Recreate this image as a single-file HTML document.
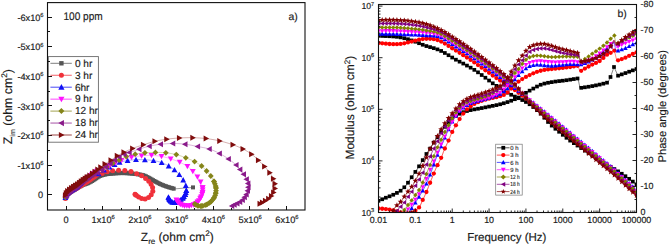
<!DOCTYPE html>
<html><head><meta charset="utf-8"><style>
html,body{margin:0;padding:0;background:#fff;width:669px;height:244px;overflow:hidden}
svg{display:block;text-rendering:geometricPrecision}
text{stroke:#1a1a1a;stroke-width:0.16px}
</style></head><body>
<svg width="669" height="244" viewBox="0 0 669 244">
<rect width="669" height="244" fill="#fff"/>
<clipPath id="cl"><rect x="47.5" y="2.6" width="257.5" height="207.4"/></clipPath><g clip-path="url(#cl)">
<path d="M65.6 195.6 L65.84 195.44 L66.17 195.22 L66.56 194.96 L67.01 194.67 L67.49 194.34 L68 194 L68.54 193.63 L69.12 193.22 L69.74 192.79 L70.39 192.33 L71.08 191.87 L71.8 191.4 L72.56 190.93 L73.35 190.44 L74.18 189.94 L75.04 189.43 L75.91 188.92 L76.8 188.4 L77.72 187.86 L78.69 187.29 L79.68 186.71 L80.66 186.16 L81.61 185.64 L82.5 185.2 L83.32 184.85 L84.08 184.58 L84.81 184.35 L85.52 184.13 L86.25 183.89 L87 183.6 L87.79 183.25 L88.6 182.87 L89.42 182.47 L90.23 182.06 L91.03 181.63 L91.8 181.2 L92.54 180.75 L93.25 180.28 L93.95 179.8 L94.64 179.32 L95.32 178.85 L96 178.4 L96.66 177.97 L97.27 177.54 L97.89 177.13 L98.53 176.73 L99.22 176.35 L100 176 L100.87 175.67 L101.81 175.35 L102.81 175.05 L103.85 174.77 L104.92 174.52 L106 174.3 L107.11 174.11 L108.26 173.95 L109.44 173.82 L110.63 173.7 L111.82 173.6 L113 173.5 L114.17 173.4 L115.33 173.32 L116.5 173.24 L117.67 173.18 L118.83 173.13 L120 173.1 L121.16 173.08 L122.3 173.07 L123.44 173.08 L124.59 173.1 L125.78 173.14 L127 173.2 L128.28 173.27 L129.59 173.37 L130.94 173.47 L132.3 173.6 L133.66 173.74 L135 173.9 L136.37 174.07 L137.78 174.26 L139.19 174.46 L140.56 174.68 L141.84 174.92 L143 175.2 L144.01 175.51 L144.89 175.84 L145.69 176.21 L146.44 176.59 L147.2 176.99 L148 177.4 L148.84 177.84 L149.7 178.31 L150.56 178.8 L151.41 179.29 L152.22 179.76 L153 180.2 L153.71 180.6 L154.37 180.97 L155 181.32 L155.63 181.67 L156.29 182.03 L157 182.4 L157.76 182.79 L158.56 183.19 L159.38 183.6 L160.22 184.01 L161.1 184.41 L162 184.8 L162.94 185.18 L163.9 185.56 L164.9 185.93 L165.92 186.3 L166.95 186.65 L168 187 L169.14 187.36 L170.4 187.73 L171.68 188.09 L172.87 188.42 L173.88 188.7 L174.6 188.9" fill="none" stroke="#555555" stroke-width="0.6" stroke-opacity="0.55"/>
<path d="M174.6 188.9 L193 187.4" fill="none" stroke="#555555" stroke-width="0.7" stroke-opacity="0.8"/>
<rect x="63.6" y="193.6" width="4" height="4" fill="#555555"/>
<rect x="64.93" y="192.72" width="4" height="4" fill="#555555"/>
<rect x="66.26" y="191.82" width="4" height="4" fill="#555555"/>
<rect x="67.57" y="190.9" width="4" height="4" fill="#555555"/>
<rect x="68.89" y="190" width="4" height="4" fill="#555555"/>
<rect x="70.23" y="189.13" width="4" height="4" fill="#555555"/>
<rect x="71.6" y="188.29" width="4" height="4" fill="#555555"/>
<rect x="72.97" y="187.47" width="4" height="4" fill="#555555"/>
<rect x="74.35" y="186.66" width="4" height="4" fill="#555555"/>
<rect x="75.73" y="185.85" width="4" height="4" fill="#555555"/>
<rect x="77.11" y="185.04" width="4" height="4" fill="#555555"/>
<rect x="78.5" y="184.25" width="4" height="4" fill="#555555"/>
<rect x="79.91" y="183.49" width="4" height="4" fill="#555555"/>
<rect x="81.37" y="182.83" width="4" height="4" fill="#555555"/>
<rect x="82.88" y="182.33" width="4" height="4" fill="#555555"/>
<rect x="84.41" y="181.84" width="4" height="4" fill="#555555"/>
<rect x="85.88" y="181.21" width="4" height="4" fill="#555555"/>
<rect x="87.32" y="180.52" width="4" height="4" fill="#555555"/>
<rect x="88.74" y="179.79" width="4" height="4" fill="#555555"/>
<rect x="90.14" y="179" width="4" height="4" fill="#555555"/>
<rect x="91.48" y="178.13" width="4" height="4" fill="#555555"/>
<rect x="92.79" y="177.21" width="4" height="4" fill="#555555"/>
<rect x="94.12" y="176.32" width="4" height="4" fill="#555555"/>
<rect x="95.45" y="175.43" width="4" height="4" fill="#555555"/>
<rect x="96.8" y="174.58" width="4" height="4" fill="#555555"/>
<rect x="98.25" y="173.9" width="4" height="4" fill="#555555"/>
<rect x="99.76" y="173.37" width="4" height="4" fill="#555555"/>
<rect x="101.29" y="172.92" width="4" height="4" fill="#555555"/>
<rect x="102.85" y="172.54" width="4" height="4" fill="#555555"/>
<rect x="104.42" y="172.23" width="4" height="4" fill="#555555"/>
<rect x="106" y="171.99" width="4" height="4" fill="#555555"/>
<rect x="107.59" y="171.8" width="4" height="4" fill="#555555"/>
<rect x="109.18" y="171.66" width="4" height="4" fill="#555555"/>
<rect x="110.77" y="171.52" width="4" height="4" fill="#555555"/>
<rect x="112.37" y="171.39" width="4" height="4" fill="#555555"/>
<rect x="113.96" y="171.28" width="4" height="4" fill="#555555"/>
<rect x="115.56" y="171.19" width="4" height="4" fill="#555555"/>
<rect x="117.16" y="171.12" width="4" height="4" fill="#555555"/>
<rect x="118.76" y="171.09" width="4" height="4" fill="#555555"/>
<rect x="120.36" y="171.07" width="4" height="4" fill="#555555"/>
<rect x="121.96" y="171.09" width="4" height="4" fill="#555555"/>
<rect x="123.56" y="171.13" width="4" height="4" fill="#555555"/>
<rect x="125.16" y="171.21" width="4" height="4" fill="#555555"/>
<rect x="126.75" y="171.31" width="4" height="4" fill="#555555"/>
<rect x="128.35" y="171.43" width="4" height="4" fill="#555555"/>
<rect x="129.94" y="171.57" width="4" height="4" fill="#555555"/>
<rect x="131.54" y="171.73" width="4" height="4" fill="#555555"/>
<rect x="133.13" y="171.92" width="4" height="4" fill="#555555"/>
<rect x="134.71" y="172.12" width="4" height="4" fill="#555555"/>
<rect x="136.3" y="172.33" width="4" height="4" fill="#555555"/>
<rect x="137.88" y="172.57" width="4" height="4" fill="#555555"/>
<rect x="139.46" y="172.85" width="4" height="4" fill="#555555"/>
<rect x="141.01" y="173.2" width="4" height="4" fill="#555555"/>
<rect x="142.53" y="173.7" width="4" height="4" fill="#555555"/>
<rect x="143.99" y="174.36" width="4" height="4" fill="#555555"/>
<rect x="145.41" y="175.1" width="4" height="4" fill="#555555"/>
<rect x="146.83" y="175.83" width="4" height="4" fill="#555555"/>
<rect x="148.23" y="176.61" width="4" height="4" fill="#555555"/>
<rect x="149.62" y="177.41" width="4" height="4" fill="#555555"/>
<rect x="151.01" y="178.2" width="4" height="4" fill="#555555"/>
<rect x="152.4" y="178.99" width="4" height="4" fill="#555555"/>
<rect x="153.8" y="179.77" width="4" height="4" fill="#555555"/>
<rect x="155.22" y="180.51" width="4" height="4" fill="#555555"/>
<rect x="156.64" y="181.24" width="4" height="4" fill="#555555"/>
<rect x="158.08" y="181.94" width="4" height="4" fill="#555555"/>
<rect x="159.53" y="182.6" width="4" height="4" fill="#555555"/>
<rect x="161.01" y="183.21" width="4" height="4" fill="#555555"/>
<rect x="162.51" y="183.79" width="4" height="4" fill="#555555"/>
<rect x="164.01" y="184.33" width="4" height="4" fill="#555555"/>
<rect x="165.53" y="184.84" width="4" height="4" fill="#555555"/>
<rect x="167.05" y="185.33" width="4" height="4" fill="#555555"/>
<rect x="168.59" y="185.78" width="4" height="4" fill="#555555"/>
<rect x="170.13" y="186.21" width="4" height="4" fill="#555555"/>
<rect x="171.67" y="186.64" width="4" height="4" fill="#555555"/>
<rect x="191" y="185.4" width="4" height="4" fill="#555555"/>
<path d="M65.4 198.6 L65.48 198.38 L65.59 198.09 L65.71 197.74 L65.86 197.36 L66.02 196.97 L66.2 196.6 L66.39 196.24 L66.6 195.86 L66.83 195.48 L67.07 195.1 L67.33 194.74 L67.6 194.4 L67.9 194.09 L68.21 193.79 L68.55 193.51 L68.9 193.23 L69.25 192.97 L69.6 192.7 L69.95 192.44 L70.31 192.19 L70.67 191.94 L71.04 191.69 L71.42 191.45 L71.8 191.2 L72.19 190.95 L72.58 190.7 L72.98 190.45 L73.38 190.2 L73.79 189.95 L74.2 189.7 L74.62 189.45 L75.04 189.21 L75.47 188.96 L75.91 188.71 L76.35 188.46 L76.8 188.19 L77.25 187.91 L77.71 187.61 L78.18 187.32 L78.65 187.01 L79.13 186.7 L79.6 186.4 L80.08 186.08 L80.57 185.76 L81.07 185.44 L81.56 185.12 L82.04 184.81 L82.5 184.52 L82.94 184.24 L83.37 183.98 L83.78 183.73 L84.19 183.48 L84.59 183.24 L85 182.99 L85.41 182.74 L85.81 182.49 L86.21 182.25 L86.6 182 L87 181.75 L87.4 181.5 L87.8 181.24 L88.19 180.98 L88.59 180.72 L88.99 180.45 L89.39 180.18 L89.8 179.9 L90.22 179.61 L90.65 179.31 L91.09 179.01 L91.53 178.71 L91.96 178.4 L92.4 178.1 L92.83 177.8 L93.26 177.51 L93.69 177.22 L94.12 176.93 L94.56 176.62 L95 176.3 L95.44 175.94 L95.86 175.54 L96.29 175.13 L96.74 174.74 L97.24 174.38 L97.8 174.1 L98.43 173.91 L99.13 173.79 L99.86 173.71 L100.63 173.64 L101.41 173.55 L102.2 173.4 L102.99 173.18 L103.81 172.91 L104.64 172.62 L105.48 172.32 L106.34 172.04 L107.2 171.8 L108.07 171.59 L108.95 171.4 L109.84 171.23 L110.74 171.07 L111.66 170.93 L112.6 170.8 L113.56 170.68 L114.55 170.57 L115.55 170.48 L116.56 170.4 L117.58 170.34 L118.6 170.3 L119.62 170.27 L120.65 170.26 L121.69 170.26 L122.73 170.28 L123.76 170.32 L124.8 170.4 L125.84 170.5 L126.89 170.62 L127.93 170.76 L128.97 170.94 L130 171.15 L131 171.4 L131.99 171.71 L132.97 172.08 L133.93 172.48 L134.88 172.9 L135.8 173.31 L136.7 173.7 L137.57 174.06 L138.43 174.4 L139.26 174.73 L140.06 175.07 L140.84 175.42 L141.6 175.8 L142.33 176.2 L143.03 176.62 L143.71 177.05 L144.36 177.49 L144.99 177.94 L145.6 178.4 L146.19 178.86 L146.76 179.34 L147.31 179.82 L147.83 180.31 L148.33 180.81 L148.8 181.3 L149.24 181.79 L149.66 182.28 L150.06 182.78 L150.43 183.27 L150.77 183.78 L151.1 184.3 L151.41 184.83 L151.71 185.37 L151.98 185.91 L152.23 186.47 L152.43 187.03 L152.6 187.6 L152.73 188.18 L152.83 188.78 L152.89 189.39 L152.91 190 L152.89 190.6 L152.8 191.2 L152.65 191.8 L152.44 192.4 L152.18 193 L151.88 193.59 L151.55 194.16 L151.2 194.7 L150.82 195.22 L150.41 195.73 L149.96 196.22 L149.49 196.69 L149 197.12 L148.5 197.5 L147.97 197.85 L147.42 198.17 L146.84 198.45 L146.26 198.69 L145.67 198.88 L145.1 199 L144.53 199.06 L143.95 199.05 L143.37 198.99 L142.8 198.89 L142.24 198.76 L141.7 198.6 L141.17 198.4 L140.64 198.15 L140.12 197.87 L139.63 197.57 L139.15 197.27 L138.7 197 L138.27 196.74 L137.87 196.47 L137.48 196.21 L137.12 195.95 L136.79 195.71 L136.5 195.5 L136.24 195.31 L136.03 195.14 L135.84 194.98 L135.67 194.84 L135.53 194.71 L135.4 194.6 L135.29 194.5 L135.2 194.41 L135.13 194.34 L135.08 194.29 L135.04 194.24 L135 194.2" fill="none" stroke="#f0313a" stroke-width="0.6" stroke-opacity="0.55"/>
<circle cx="65.4" cy="198.6" r="2.5" fill="#f0313a"/>
<circle cx="65.89" cy="197.29" r="2.5" fill="#f0313a"/>
<circle cx="66.51" cy="196.03" r="2.5" fill="#f0313a"/>
<circle cx="67.25" cy="194.85" r="2.5" fill="#f0313a"/>
<circle cx="68.19" cy="193.81" r="2.5" fill="#f0313a"/>
<circle cx="69.28" cy="192.94" r="2.5" fill="#f0313a"/>
<circle cx="70.41" cy="192.12" r="2.5" fill="#f0313a"/>
<circle cx="71.58" cy="191.34" r="2.5" fill="#f0313a"/>
<circle cx="72.76" cy="190.59" r="2.5" fill="#f0313a"/>
<circle cx="73.95" cy="189.85" r="2.5" fill="#f0313a"/>
<circle cx="75.16" cy="189.14" r="2.5" fill="#f0313a"/>
<circle cx="76.37" cy="188.45" r="2.5" fill="#f0313a"/>
<circle cx="77.56" cy="187.71" r="2.5" fill="#f0313a"/>
<circle cx="78.74" cy="186.95" r="2.5" fill="#f0313a"/>
<circle cx="79.91" cy="186.19" r="2.5" fill="#f0313a"/>
<circle cx="81.09" cy="185.43" r="2.5" fill="#f0313a"/>
<circle cx="82.26" cy="184.67" r="2.5" fill="#f0313a"/>
<circle cx="83.45" cy="183.93" r="2.5" fill="#f0313a"/>
<circle cx="84.65" cy="183.2" r="2.5" fill="#f0313a"/>
<circle cx="85.84" cy="182.47" r="2.5" fill="#f0313a"/>
<circle cx="87.03" cy="181.73" r="2.5" fill="#f0313a"/>
<circle cx="88.21" cy="180.97" r="2.5" fill="#f0313a"/>
<circle cx="89.37" cy="180.19" r="2.5" fill="#f0313a"/>
<circle cx="90.53" cy="179.4" r="2.5" fill="#f0313a"/>
<circle cx="91.68" cy="178.6" r="2.5" fill="#f0313a"/>
<circle cx="92.83" cy="177.81" r="2.5" fill="#f0313a"/>
<circle cx="93.99" cy="177.02" r="2.5" fill="#f0313a"/>
<circle cx="95.12" cy="176.21" r="2.5" fill="#f0313a"/>
<circle cx="96.23" cy="175.35" r="2.5" fill="#f0313a"/>
<circle cx="97.33" cy="174.48" r="2.5" fill="#f0313a"/>
<circle cx="102.2" cy="173.4" r="2.5" fill="#f0313a"/>
<circle cx="107.2" cy="171.8" r="2.5" fill="#f0313a"/>
<circle cx="112.6" cy="170.8" r="2.5" fill="#f0313a"/>
<circle cx="118.6" cy="170.3" r="2.5" fill="#f0313a"/>
<circle cx="124.8" cy="170.4" r="2.5" fill="#f0313a"/>
<circle cx="131" cy="171.4" r="2.5" fill="#f0313a"/>
<circle cx="136.7" cy="173.7" r="2.5" fill="#f0313a"/>
<circle cx="141.6" cy="175.8" r="2.5" fill="#f0313a"/>
<circle cx="145.6" cy="178.4" r="2.5" fill="#f0313a"/>
<circle cx="148.8" cy="181.3" r="2.5" fill="#f0313a"/>
<circle cx="151.1" cy="184.3" r="2.5" fill="#f0313a"/>
<circle cx="152.6" cy="187.6" r="2.5" fill="#f0313a"/>
<circle cx="152.8" cy="191.2" r="2.5" fill="#f0313a"/>
<circle cx="151.2" cy="194.7" r="2.5" fill="#f0313a"/>
<circle cx="148.5" cy="197.5" r="2.5" fill="#f0313a"/>
<circle cx="145.1" cy="199" r="2.5" fill="#f0313a"/>
<circle cx="141.7" cy="198.6" r="2.5" fill="#f0313a"/>
<circle cx="138.7" cy="197" r="2.5" fill="#f0313a"/>
<circle cx="136.5" cy="195.5" r="2.5" fill="#f0313a"/>
<circle cx="135.4" cy="194.6" r="2.5" fill="#f0313a"/>
<circle cx="135" cy="194.2" r="2.5" fill="#f0313a"/>
<path d="M65.4 197.6 L65.48 197.38 L65.59 197.09 L65.71 196.74 L65.86 196.36 L66.02 195.97 L66.2 195.6 L66.39 195.24 L66.6 194.86 L66.83 194.48 L67.07 194.1 L67.33 193.74 L67.6 193.4 L67.9 193.09 L68.21 192.79 L68.55 192.51 L68.9 192.23 L69.25 191.97 L69.6 191.7 L69.95 191.44 L70.31 191.19 L70.67 190.94 L71.04 190.69 L71.42 190.45 L71.8 190.2 L72.19 189.95 L72.58 189.71 L72.98 189.47 L73.38 189.22 L73.79 188.97 L74.2 188.7 L74.62 188.43 L75.04 188.17 L75.47 187.89 L75.91 187.6 L76.35 187.29 L76.8 186.94 L77.25 186.55 L77.71 186.12 L78.18 185.67 L78.65 185.21 L79.13 184.74 L79.6 184.28 L80.08 183.82 L80.57 183.34 L81.07 182.87 L81.56 182.4 L82.04 181.94 L82.5 181.5 L82.94 181.08 L83.37 180.68 L83.78 180.29 L84.19 179.91 L84.59 179.55 L85 179.2 L85.41 178.87 L85.81 178.56 L86.21 178.26 L86.6 177.97 L87 177.68 L87.4 177.4 L87.8 177.12 L88.19 176.86 L88.59 176.6 L88.99 176.34 L89.39 176.08 L89.8 175.8 L90.22 175.51 L90.65 175.21 L91.09 174.91 L91.53 174.61 L91.96 174.3 L92.4 174 L92.83 173.7 L93.26 173.41 L93.69 173.12 L94.12 172.83 L94.56 172.52 L95 172.2 L95.48 171.79 L96 171.27 L96.52 170.75 L97.01 170.3 L97.45 170.02 L97.8 170 L97.98 170.37 L98.01 171.1 L97.98 171.99 L97.99 172.86 L98.13 173.53 L98.5 173.8 L99.14 173.62 L99.98 173.13 L100.95 172.43 L101.99 171.63 L103.03 170.85 L104 170.2 L104.92 169.66 L105.85 169.14 L106.77 168.64 L107.7 168.15 L108.61 167.67 L109.5 167.2 L110.37 166.74 L111.23 166.29 L112.08 165.85 L112.92 165.42 L113.76 165.01 L114.6 164.6 L115.4 164.21 L116.16 163.83 L116.92 163.46 L117.71 163.1 L118.59 162.74 L119.6 162.4 L120.76 162.05 L122.03 161.7 L123.39 161.36 L124.79 161.04 L126.21 160.75 L127.6 160.5 L128.97 160.29 L130.35 160.12 L131.74 159.97 L133.15 159.86 L134.57 159.77 L136 159.7 L137.46 159.66 L138.94 159.64 L140.44 159.65 L141.94 159.68 L143.43 159.73 L144.9 159.8 L146.36 159.88 L147.8 159.97 L149.24 160.08 L150.67 160.22 L152.09 160.39 L153.5 160.6 L154.9 160.85 L156.31 161.13 L157.7 161.44 L159.07 161.79 L160.41 162.17 L161.7 162.6 L162.95 163.08 L164.17 163.61 L165.35 164.18 L166.5 164.78 L167.62 165.39 L168.7 166 L169.75 166.61 L170.76 167.23 L171.74 167.87 L172.69 168.52 L173.61 169.2 L174.5 169.9 L175.37 170.63 L176.21 171.38 L177.02 172.16 L177.8 172.95 L178.56 173.77 L179.3 174.6 L180.02 175.46 L180.71 176.34 L181.39 177.25 L182.03 178.17 L182.64 179.09 L183.2 180 L183.73 180.92 L184.24 181.84 L184.71 182.78 L185.14 183.7 L185.5 184.61 L185.8 185.5 L186.02 186.37 L186.18 187.24 L186.28 188.09 L186.33 188.92 L186.33 189.72 L186.3 190.5 L186.22 191.25 L186.09 191.97 L185.92 192.66 L185.71 193.33 L185.47 193.98 L185.2 194.6 L184.9 195.19 L184.57 195.76 L184.21 196.3 L183.82 196.82 L183.41 197.32 L183 197.8 L182.57 198.27 L182.12 198.71 L181.65 199.14 L181.17 199.55 L180.69 199.94 L180.2 200.3 L179.71 200.64 L179.21 200.97 L178.7 201.27 L178.19 201.54 L177.69 201.79 L177.2 202 L176.72 202.18 L176.24 202.33 L175.76 202.44 L175.3 202.53 L174.84 202.58 L174.4 202.6 L173.97 202.58 L173.55 202.52 L173.14 202.43 L172.74 202.3 L172.36 202.16 L172 202 L171.66 201.82 L171.33 201.61 L171.02 201.38 L170.73 201.13 L170.46 200.87 L170.2 200.6 L169.96 200.32 L169.73 200.02 L169.52 199.71 L169.33 199.4 L169.16 199.09 L169 198.8 L168.86 198.5 L168.73 198.19 L168.62 197.89 L168.53 197.61 L168.46 197.37 L168.4 197.2" fill="none" stroke="#1010f5" stroke-width="0.6" stroke-opacity="0.55"/>
<path d="M65.4 194.69L68.32 199.98L62.49 199.98Z" fill="#1010f5"/>
<path d="M65.89 193.37L68.8 198.67L62.97 198.67Z" fill="#1010f5"/>
<path d="M66.51 192.12L69.42 197.42L63.59 197.42Z" fill="#1010f5"/>
<path d="M67.25 190.93L70.16 196.23L64.33 196.23Z" fill="#1010f5"/>
<path d="M68.19 189.9L71.1 195.2L65.27 195.2Z" fill="#1010f5"/>
<path d="M69.28 189.03L72.2 194.33L66.37 194.33Z" fill="#1010f5"/>
<path d="M70.41 188.2L73.33 193.5L67.5 193.5Z" fill="#1010f5"/>
<path d="M71.58 187.43L74.5 192.73L68.67 192.73Z" fill="#1010f5"/>
<path d="M72.76 186.68L75.68 191.98L69.85 191.98Z" fill="#1010f5"/>
<path d="M73.95 185.94L76.87 191.24L71.04 191.24Z" fill="#1010f5"/>
<path d="M75.14 185.19L78.05 190.49L72.22 190.49Z" fill="#1010f5"/>
<path d="M76.3 184.41L79.21 189.71L73.38 189.71Z" fill="#1010f5"/>
<path d="M77.38 183.52L80.29 188.82L74.46 188.82Z" fill="#1010f5"/>
<path d="M78.39 182.55L81.3 187.85L75.47 187.85Z" fill="#1010f5"/>
<path d="M79.39 181.57L82.3 186.87L76.47 186.87Z" fill="#1010f5"/>
<path d="M80.4 180.6L83.31 185.9L77.48 185.9Z" fill="#1010f5"/>
<path d="M81.4 179.63L84.32 184.93L78.49 184.93Z" fill="#1010f5"/>
<path d="M82.42 178.66L85.33 183.96L79.5 183.96Z" fill="#1010f5"/>
<path d="M83.43 177.7L86.35 183L80.52 183Z" fill="#1010f5"/>
<path d="M84.46 176.75L87.38 182.05L81.55 182.05Z" fill="#1010f5"/>
<path d="M85.53 175.85L88.45 181.15L82.62 181.15Z" fill="#1010f5"/>
<path d="M86.66 175.01L89.57 180.31L83.74 180.31Z" fill="#1010f5"/>
<path d="M87.8 174.21L90.71 179.51L84.88 179.51Z" fill="#1010f5"/>
<path d="M88.97 173.44L91.88 178.74L86.05 178.74Z" fill="#1010f5"/>
<path d="M90.13 172.66L93.05 177.96L87.22 177.96Z" fill="#1010f5"/>
<path d="M91.28 171.86L94.2 177.16L88.37 177.16Z" fill="#1010f5"/>
<path d="M92.43 171.06L95.35 176.36L89.52 176.36Z" fill="#1010f5"/>
<path d="M93.59 170.28L96.51 175.58L90.68 175.58Z" fill="#1010f5"/>
<path d="M94.74 169.48L97.65 174.78L91.82 174.78Z" fill="#1010f5"/>
<path d="M95.86 168.63L98.77 173.93L92.94 173.93Z" fill="#1010f5"/>
<path d="M96.95 167.76L99.87 173.06L94.04 173.06Z" fill="#1010f5"/>
<path d="M98.5 170.89L101.42 176.19L95.58 176.19Z" fill="#1010f5"/>
<path d="M104 167.28L106.92 172.58L101.08 172.58Z" fill="#1010f5"/>
<path d="M109.5 164.28L112.42 169.58L106.58 169.58Z" fill="#1010f5"/>
<path d="M114.6 161.69L117.52 166.98L111.68 166.98Z" fill="#1010f5"/>
<path d="M119.6 159.49L122.52 164.78L116.68 164.78Z" fill="#1010f5"/>
<path d="M127.6 157.59L130.51 162.88L124.68 162.88Z" fill="#1010f5"/>
<path d="M136 156.78L138.91 162.08L133.09 162.08Z" fill="#1010f5"/>
<path d="M144.9 156.89L147.81 162.19L141.99 162.19Z" fill="#1010f5"/>
<path d="M153.5 157.69L156.41 162.98L150.59 162.98Z" fill="#1010f5"/>
<path d="M161.7 159.69L164.61 164.98L158.78 164.98Z" fill="#1010f5"/>
<path d="M168.7 163.09L171.61 168.38L165.78 168.38Z" fill="#1010f5"/>
<path d="M174.5 166.99L177.41 172.28L171.59 172.28Z" fill="#1010f5"/>
<path d="M179.3 171.69L182.22 176.98L176.39 176.98Z" fill="#1010f5"/>
<path d="M183.2 177.09L186.11 182.38L180.28 182.38Z" fill="#1010f5"/>
<path d="M185.8 182.59L188.72 187.88L182.89 187.88Z" fill="#1010f5"/>
<path d="M186.3 187.59L189.22 192.88L183.39 192.88Z" fill="#1010f5"/>
<path d="M185.2 191.69L188.11 196.98L182.28 196.98Z" fill="#1010f5"/>
<path d="M183 194.89L185.91 200.19L180.09 200.19Z" fill="#1010f5"/>
<path d="M180.2 197.39L183.11 202.69L177.28 202.69Z" fill="#1010f5"/>
<path d="M177.2 199.09L180.11 204.38L174.28 204.38Z" fill="#1010f5"/>
<path d="M174.4 199.69L177.31 204.98L171.49 204.98Z" fill="#1010f5"/>
<path d="M172 199.09L174.91 204.38L169.09 204.38Z" fill="#1010f5"/>
<path d="M170.2 197.69L173.11 202.98L167.28 202.98Z" fill="#1010f5"/>
<path d="M169 195.89L171.91 201.19L166.09 201.19Z" fill="#1010f5"/>
<path d="M168.4 194.28L171.31 199.58L165.49 199.58Z" fill="#1010f5"/>
<path d="M186.3 187.59L189.22 192.88L183.39 192.88Z" fill="#1010f5"/>
<path d="M185.82 189.73L188.73 195.03L182.9 195.03Z" fill="#1010f5"/>
<path d="M185.14 191.82L188.05 197.12L182.22 197.12Z" fill="#1010f5"/>
<path d="M183.98 193.69L186.9 198.99L181.07 198.99Z" fill="#1010f5"/>
<path d="M182.56 195.36L185.47 200.66L179.64 200.66Z" fill="#1010f5"/>
<path d="M180.92 196.83L183.84 202.13L178.01 202.13Z" fill="#1010f5"/>
<path d="M179.13 198.1L182.04 203.4L176.21 203.4Z" fill="#1010f5"/>
<path d="M177.17 199.1L180.08 204.4L174.25 204.4Z" fill="#1010f5"/>
<path d="M175.05 199.65L177.96 204.95L172.13 204.95Z" fill="#1010f5"/>
<path d="M172.87 199.43L175.79 204.73L169.96 204.73Z" fill="#1010f5"/>
<path d="M170.95 198.4L173.86 203.7L168.03 203.7Z" fill="#1010f5"/>
<path d="M169.5 196.76L172.41 202.06L166.58 202.06Z" fill="#1010f5"/>
<path d="M168.56 194.77L171.47 200.07L165.64 200.07Z" fill="#1010f5"/>
<path d="M65.4 197.2 L65.48 196.98 L65.59 196.69 L65.71 196.34 L65.86 195.96 L66.02 195.57 L66.2 195.2 L66.39 194.84 L66.6 194.46 L66.83 194.08 L67.07 193.7 L67.33 193.34 L67.6 193 L67.9 192.69 L68.21 192.39 L68.55 192.11 L68.9 191.83 L69.25 191.57 L69.6 191.3 L69.95 191.04 L70.31 190.79 L70.67 190.54 L71.04 190.29 L71.42 190.05 L71.8 189.8 L72.19 189.55 L72.58 189.31 L72.98 189.06 L73.38 188.81 L73.79 188.56 L74.2 188.3 L74.62 188.04 L75.04 187.78 L75.47 187.51 L75.91 187.24 L76.35 186.94 L76.8 186.62 L77.25 186.27 L77.71 185.88 L78.18 185.48 L78.65 185.07 L79.13 184.65 L79.6 184.24 L80.08 183.83 L80.57 183.4 L81.07 182.97 L81.56 182.55 L82.04 182.14 L82.5 181.75 L82.94 181.38 L83.37 181.02 L83.78 180.68 L84.19 180.34 L84.59 180.02 L85 179.7 L85.41 179.4 L85.81 179.1 L86.21 178.82 L86.6 178.55 L87 178.27 L87.4 178 L87.8 177.73 L88.19 177.47 L88.59 177.21 L88.99 176.94 L89.39 176.68 L89.8 176.4 L90.22 176.11 L90.65 175.81 L91.09 175.51 L91.53 175.21 L91.96 174.9 L92.4 174.6 L92.83 174.3 L93.26 174.01 L93.69 173.72 L94.12 173.43 L94.56 173.12 L95 172.8 L95.42 172.44 L95.81 172.05 L96.21 171.65 L96.64 171.26 L97.16 170.9 L97.8 170.6 L98.58 170.39 L99.47 170.27 L100.45 170.19 L101.47 170.08 L102.5 169.9 L103.5 169.6 L104.48 169.15 L105.48 168.58 L106.48 167.94 L107.49 167.27 L108.5 166.61 L109.5 166 L110.5 165.44 L111.5 164.88 L112.5 164.33 L113.5 163.8 L114.5 163.29 L115.5 162.8 L116.45 162.35 L117.35 161.93 L118.25 161.54 L119.2 161.14 L120.27 160.74 L121.5 160.3 L122.93 159.81 L124.53 159.28 L126.24 158.74 L128.01 158.21 L129.78 157.72 L131.5 157.3 L133.18 156.95 L134.87 156.65 L136.56 156.39 L138.24 156.16 L139.93 155.97 L141.6 155.8 L143.26 155.65 L144.91 155.53 L146.56 155.44 L148.2 155.39 L149.85 155.37 L151.5 155.4 L153.17 155.47 L154.86 155.58 L156.54 155.73 L158.22 155.91 L159.88 156.14 L161.5 156.4 L163.08 156.71 L164.63 157.06 L166.16 157.45 L167.68 157.87 L169.19 158.33 L170.7 158.8 L172.23 159.3 L173.76 159.83 L175.29 160.39 L176.8 160.97 L178.28 161.58 L179.7 162.2 L181.09 162.85 L182.45 163.51 L183.78 164.21 L185.05 164.92 L186.26 165.65 L187.4 166.4 L188.44 167.17 L189.4 167.96 L190.29 168.77 L191.14 169.6 L191.97 170.44 L192.8 171.3 L193.63 172.19 L194.44 173.1 L195.24 174.03 L196 174.97 L196.72 175.89 L197.4 176.8 L198.03 177.68 L198.61 178.54 L199.16 179.39 L199.67 180.25 L200.15 181.11 L200.6 182 L201.03 182.91 L201.43 183.84 L201.81 184.79 L202.13 185.73 L202.4 186.67 L202.6 187.6 L202.72 188.52 L202.79 189.44 L202.79 190.35 L202.74 191.25 L202.64 192.14 L202.5 193 L202.31 193.84 L202.07 194.67 L201.78 195.49 L201.44 196.28 L201.08 197.05 L200.7 197.8 L200.29 198.53 L199.85 199.24 L199.37 199.93 L198.87 200.59 L198.35 201.21 L197.8 201.8 L197.23 202.35 L196.63 202.88 L196.01 203.38 L195.37 203.83 L194.7 204.24 L194 204.6 L193.27 204.91 L192.51 205.17 L191.72 205.38 L190.91 205.56 L190.11 205.69 L189.3 205.8 L188.48 205.87 L187.65 205.91 L186.81 205.92 L185.97 205.89 L185.17 205.81 L184.4 205.7 L183.67 205.54 L182.95 205.33 L182.26 205.08 L181.6 204.8 L180.98 204.51 L180.4 204.2 L179.87 203.87 L179.39 203.51 L178.94 203.13 L178.53 202.74 L178.15 202.36 L177.8 202 L177.48 201.63 L177.19 201.24 L176.94 200.86 L176.72 200.51 L176.54 200.22 L176.4 200" fill="none" stroke="#ff10ff" stroke-width="0.6" stroke-opacity="0.55"/>
<path d="M65.4 200.11L68.32 194.81L62.49 194.81Z" fill="#ff10ff"/>
<path d="M65.89 198.8L68.8 193.5L62.97 193.5Z" fill="#ff10ff"/>
<path d="M66.51 197.55L69.42 192.25L63.59 192.25Z" fill="#ff10ff"/>
<path d="M67.25 196.36L70.16 191.06L64.33 191.06Z" fill="#ff10ff"/>
<path d="M68.19 195.33L71.1 190.03L65.27 190.03Z" fill="#ff10ff"/>
<path d="M69.28 194.46L72.2 189.16L66.37 189.16Z" fill="#ff10ff"/>
<path d="M70.41 193.63L73.33 188.33L67.5 188.33Z" fill="#ff10ff"/>
<path d="M71.58 192.86L74.5 187.56L68.67 187.56Z" fill="#ff10ff"/>
<path d="M72.76 192.11L75.68 186.81L69.85 186.81Z" fill="#ff10ff"/>
<path d="M73.95 191.37L76.87 186.07L71.04 186.07Z" fill="#ff10ff"/>
<path d="M75.14 190.63L78.06 185.33L72.23 185.33Z" fill="#ff10ff"/>
<path d="M76.32 189.88L79.24 184.58L73.41 184.58Z" fill="#ff10ff"/>
<path d="M77.44 189.03L80.35 183.73L74.52 183.73Z" fill="#ff10ff"/>
<path d="M78.5 188.12L81.41 182.82L75.58 182.82Z" fill="#ff10ff"/>
<path d="M79.55 187.2L82.47 181.9L76.64 181.9Z" fill="#ff10ff"/>
<path d="M80.61 186.28L83.53 180.98L77.7 180.98Z" fill="#ff10ff"/>
<path d="M81.67 185.37L84.59 180.07L78.76 180.07Z" fill="#ff10ff"/>
<path d="M82.74 184.46L85.65 179.16L79.82 179.16Z" fill="#ff10ff"/>
<path d="M83.81 183.56L86.73 178.26L80.9 178.26Z" fill="#ff10ff"/>
<path d="M84.9 182.69L87.82 177.39L81.99 177.39Z" fill="#ff10ff"/>
<path d="M86.03 181.86L88.95 176.56L83.12 176.56Z" fill="#ff10ff"/>
<path d="M87.18 181.06L90.1 175.76L84.27 175.76Z" fill="#ff10ff"/>
<path d="M88.34 180.28L91.26 174.98L85.43 174.98Z" fill="#ff10ff"/>
<path d="M89.51 179.51L92.43 174.21L86.6 174.21Z" fill="#ff10ff"/>
<path d="M90.67 178.72L93.58 173.42L87.75 173.42Z" fill="#ff10ff"/>
<path d="M91.82 177.92L94.73 172.62L88.9 172.62Z" fill="#ff10ff"/>
<path d="M92.97 177.13L95.89 171.83L90.06 171.83Z" fill="#ff10ff"/>
<path d="M94.13 176.34L97.04 171.04L91.21 171.04Z" fill="#ff10ff"/>
<path d="M95.26 175.52L98.18 170.22L92.35 170.22Z" fill="#ff10ff"/>
<path d="M96.37 174.66L99.28 169.36L93.45 169.36Z" fill="#ff10ff"/>
<path d="M97.46 173.78L100.38 168.48L94.55 168.48Z" fill="#ff10ff"/>
<path d="M103.5 172.51L106.42 167.22L100.58 167.22Z" fill="#ff10ff"/>
<path d="M109.5 168.91L112.42 163.62L106.58 163.62Z" fill="#ff10ff"/>
<path d="M115.5 165.72L118.42 160.42L112.58 160.42Z" fill="#ff10ff"/>
<path d="M121.5 163.22L124.42 157.92L118.58 157.92Z" fill="#ff10ff"/>
<path d="M131.5 160.22L134.41 154.92L128.59 154.92Z" fill="#ff10ff"/>
<path d="M141.6 158.72L144.51 153.42L138.69 153.42Z" fill="#ff10ff"/>
<path d="M151.5 158.31L154.41 153.02L148.59 153.02Z" fill="#ff10ff"/>
<path d="M161.5 159.31L164.41 154.02L158.59 154.02Z" fill="#ff10ff"/>
<path d="M170.7 161.72L173.61 156.42L167.78 156.42Z" fill="#ff10ff"/>
<path d="M179.7 165.11L182.61 159.81L176.78 159.81Z" fill="#ff10ff"/>
<path d="M187.4 169.31L190.31 164.02L184.49 164.02Z" fill="#ff10ff"/>
<path d="M192.8 174.22L195.72 168.92L189.89 168.92Z" fill="#ff10ff"/>
<path d="M197.4 179.72L200.31 174.42L194.49 174.42Z" fill="#ff10ff"/>
<path d="M200.6 184.91L203.51 179.62L197.69 179.62Z" fill="#ff10ff"/>
<path d="M202.6 190.51L205.51 185.22L199.69 185.22Z" fill="#ff10ff"/>
<path d="M202.5 195.91L205.41 190.62L199.59 190.62Z" fill="#ff10ff"/>
<path d="M200.7 200.72L203.61 195.42L197.78 195.42Z" fill="#ff10ff"/>
<path d="M197.8 204.72L200.72 199.42L194.89 199.42Z" fill="#ff10ff"/>
<path d="M194 207.51L196.91 202.22L191.09 202.22Z" fill="#ff10ff"/>
<path d="M189.3 208.72L192.22 203.42L186.39 203.42Z" fill="#ff10ff"/>
<path d="M184.4 208.61L187.31 203.31L181.49 203.31Z" fill="#ff10ff"/>
<path d="M180.4 207.11L183.31 201.81L177.49 201.81Z" fill="#ff10ff"/>
<path d="M177.8 204.91L180.72 199.62L174.89 199.62Z" fill="#ff10ff"/>
<path d="M176.4 202.91L179.31 197.62L173.49 197.62Z" fill="#ff10ff"/>
<path d="M202.6 190.51L205.51 185.22L199.69 185.22Z" fill="#ff10ff"/>
<path d="M202.66 192.81L205.58 187.51L199.75 187.51Z" fill="#ff10ff"/>
<path d="M202.6 195.11L205.52 189.81L199.69 189.81Z" fill="#ff10ff"/>
<path d="M202.14 197.36L205.05 192.06L199.22 192.06Z" fill="#ff10ff"/>
<path d="M201.3 199.5L204.22 194.2L198.39 194.2Z" fill="#ff10ff"/>
<path d="M200.23 201.54L203.15 196.24L197.32 196.24Z" fill="#ff10ff"/>
<path d="M198.93 203.43L201.84 198.13L196.01 198.13Z" fill="#ff10ff"/>
<path d="M197.38 205.13L200.3 199.83L194.47 199.83Z" fill="#ff10ff"/>
<path d="M195.6 206.58L198.52 201.28L192.69 201.28Z" fill="#ff10ff"/>
<path d="M193.59 207.69L196.51 202.39L190.68 202.39Z" fill="#ff10ff"/>
<path d="M191.4 208.37L194.31 203.07L188.48 203.07Z" fill="#ff10ff"/>
<path d="M189.13 208.73L192.04 203.43L186.21 203.43Z" fill="#ff10ff"/>
<path d="M186.83 208.83L189.75 203.53L183.92 203.53Z" fill="#ff10ff"/>
<path d="M184.54 208.64L187.46 203.34L181.63 203.34Z" fill="#ff10ff"/>
<path d="M182.33 208.02L185.25 202.72L179.42 202.72Z" fill="#ff10ff"/>
<path d="M180.26 207.03L183.17 201.73L177.34 201.73Z" fill="#ff10ff"/>
<path d="M178.47 205.6L181.38 200.3L175.55 200.3Z" fill="#ff10ff"/>
<path d="M176.98 203.85L179.9 198.55L174.07 198.55Z" fill="#ff10ff"/>
<path d="M65.4 197.2 L65.48 196.98 L65.59 196.69 L65.71 196.34 L65.86 195.96 L66.02 195.57 L66.2 195.2 L66.39 194.84 L66.6 194.46 L66.83 194.08 L67.07 193.7 L67.33 193.34 L67.6 193 L67.9 192.69 L68.21 192.39 L68.55 192.11 L68.9 191.83 L69.25 191.57 L69.6 191.3 L69.95 191.04 L70.31 190.79 L70.67 190.54 L71.04 190.29 L71.42 190.05 L71.8 189.8 L72.19 189.55 L72.58 189.3 L72.98 189.06 L73.38 188.81 L73.79 188.56 L74.2 188.3 L74.62 188.04 L75.04 187.79 L75.47 187.53 L75.91 187.26 L76.35 186.98 L76.8 186.67 L77.25 186.33 L77.71 185.98 L78.18 185.6 L78.65 185.22 L79.13 184.84 L79.6 184.46 L80.08 184.07 L80.57 183.68 L81.07 183.28 L81.56 182.89 L82.04 182.5 L82.5 182.14 L82.94 181.8 L83.37 181.47 L83.78 181.15 L84.19 180.84 L84.59 180.54 L85 180.24 L85.41 179.95 L85.81 179.67 L86.21 179.4 L86.6 179.13 L87 178.87 L87.4 178.6 L87.8 178.33 L88.19 178.07 L88.59 177.81 L88.99 177.55 L89.39 177.28 L89.8 177 L90.22 176.71 L90.65 176.41 L91.09 176.11 L91.53 175.81 L91.96 175.5 L92.4 175.2 L92.78 174.93 L93.09 174.69 L93.41 174.45 L93.79 174.18 L94.29 173.84 L95 173.4 L95.98 172.82 L97.19 172.11 L98.53 171.33 L99.89 170.55 L101.19 169.82 L102.3 169.2 L103.21 168.72 L103.98 168.34 L104.68 168.01 L105.36 167.69 L106.08 167.34 L106.9 166.9 L107.82 166.37 L108.79 165.78 L109.8 165.15 L110.83 164.51 L111.87 163.89 L112.9 163.3 L113.91 162.76 L114.91 162.25 L115.93 161.75 L116.95 161.25 L118.01 160.74 L119.1 160.2 L120.22 159.62 L121.36 158.99 L122.53 158.36 L123.74 157.73 L124.99 157.14 L126.3 156.6 L127.68 156.12 L129.11 155.67 L130.59 155.26 L132.11 154.88 L133.65 154.53 L135.2 154.2 L136.76 153.9 L138.34 153.62 L139.95 153.38 L141.58 153.16 L143.23 152.96 L144.9 152.8 L146.6 152.67 L148.34 152.56 L150.11 152.49 L151.88 152.44 L153.65 152.41 L155.4 152.4 L157.14 152.4 L158.87 152.42 L160.6 152.46 L162.33 152.53 L164.06 152.64 L165.8 152.8 L167.56 153 L169.33 153.24 L171.11 153.53 L172.87 153.84 L174.61 154.2 L176.3 154.6 L177.95 155.05 L179.57 155.54 L181.16 156.07 L182.72 156.64 L184.27 157.22 L185.8 157.8 L187.33 158.39 L188.85 159 L190.36 159.62 L191.83 160.27 L193.25 160.93 L194.6 161.6 L195.89 162.29 L197.14 163 L198.34 163.72 L199.48 164.47 L200.57 165.22 L201.6 166 L202.56 166.8 L203.44 167.62 L204.27 168.46 L205.07 169.31 L205.84 170.16 L206.6 171 L207.36 171.83 L208.1 172.65 L208.81 173.47 L209.5 174.3 L210.17 175.14 L210.8 176 L211.41 176.87 L211.99 177.75 L212.54 178.64 L213.07 179.55 L213.55 180.47 L214 181.4 L214.42 182.35 L214.81 183.33 L215.16 184.31 L215.47 185.31 L215.72 186.31 L215.9 187.3 L216.01 188.31 L216.05 189.34 L216.03 190.38 L215.96 191.39 L215.85 192.37 L215.7 193.3 L215.51 194.17 L215.27 195 L214.99 195.79 L214.66 196.55 L214.3 197.28 L213.9 198 L213.46 198.7 L212.97 199.37 L212.45 200.02 L211.89 200.64 L211.31 201.23 L210.7 201.8 L210.06 202.34 L209.4 202.86 L208.7 203.35 L207.98 203.81 L207.25 204.23 L206.5 204.6 L205.73 204.93 L204.91 205.23 L204.09 205.49 L203.26 205.71 L202.46 205.88 L201.7 206 L200.97 206.06 L200.27 206.08 L199.58 206.04 L198.92 205.97 L198.29 205.85 L197.7 205.7 L197.12 205.48 L196.54 205.17 L196 204.83 L195.51 204.49 L195.1 204.2 L194.8 204" fill="none" stroke="#85851a" stroke-width="0.6" stroke-opacity="0.55"/>
<path d="M65.4 194.32L68.28 197.2L65.4 200.08L62.52 197.2Z" fill="#85851a"/>
<path d="M65.89 193.01L68.77 195.89L65.89 198.77L63.01 195.89Z" fill="#85851a"/>
<path d="M66.51 191.75L69.39 194.63L66.51 197.51L63.63 194.63Z" fill="#85851a"/>
<path d="M67.25 190.57L70.13 193.45L67.25 196.33L64.37 193.45Z" fill="#85851a"/>
<path d="M68.19 189.53L71.07 192.41L68.19 195.29L65.31 192.41Z" fill="#85851a"/>
<path d="M69.28 188.66L72.16 191.54L69.28 194.42L66.4 191.54Z" fill="#85851a"/>
<path d="M70.41 187.84L73.29 190.72L70.41 193.6L67.53 190.72Z" fill="#85851a"/>
<path d="M71.58 187.06L74.46 189.94L71.58 192.82L68.7 189.94Z" fill="#85851a"/>
<path d="M72.76 186.31L75.64 189.19L72.76 192.07L69.88 189.19Z" fill="#85851a"/>
<path d="M73.95 185.57L76.83 188.45L73.95 191.33L71.07 188.45Z" fill="#85851a"/>
<path d="M75.15 184.85L78.03 187.73L75.15 190.61L72.27 187.73Z" fill="#85851a"/>
<path d="M76.34 184.11L79.22 186.99L76.34 189.87L73.46 186.99Z" fill="#85851a"/>
<path d="M77.47 183.29L80.35 186.17L77.47 189.05L74.59 186.17Z" fill="#85851a"/>
<path d="M78.56 182.41L81.44 185.29L78.56 188.17L75.68 185.29Z" fill="#85851a"/>
<path d="M79.65 181.53L82.53 184.41L79.65 187.29L76.77 184.41Z" fill="#85851a"/>
<path d="M80.75 180.66L83.63 183.54L80.75 186.42L77.87 183.54Z" fill="#85851a"/>
<path d="M81.84 179.78L84.72 182.66L81.84 185.54L78.96 182.66Z" fill="#85851a"/>
<path d="M82.94 178.92L85.82 181.8L82.94 184.68L80.06 181.8Z" fill="#85851a"/>
<path d="M84.05 178.06L86.93 180.94L84.05 183.82L81.17 180.94Z" fill="#85851a"/>
<path d="M85.18 177.23L88.06 180.11L85.18 182.99L82.3 180.11Z" fill="#85851a"/>
<path d="M86.33 176.44L89.21 179.32L86.33 182.2L83.45 179.32Z" fill="#85851a"/>
<path d="M87.49 175.66L90.37 178.54L87.49 181.42L84.61 178.54Z" fill="#85851a"/>
<path d="M88.66 174.88L91.54 177.76L88.66 180.64L85.78 177.76Z" fill="#85851a"/>
<path d="M89.82 174.11L92.7 176.99L89.82 179.87L86.94 176.99Z" fill="#85851a"/>
<path d="M90.97 173.31L93.85 176.19L90.97 179.07L88.09 176.19Z" fill="#85851a"/>
<path d="M92.12 172.51L95 175.39L92.12 178.27L89.24 175.39Z" fill="#85851a"/>
<path d="M93.27 171.72L96.15 174.6L93.27 177.48L90.39 174.6Z" fill="#85851a"/>
<path d="M94.42 170.92L97.3 173.8L94.42 176.68L91.54 173.8Z" fill="#85851a"/>
<path d="M102.3 166.32L105.18 169.2L102.3 172.08L99.42 169.2Z" fill="#85851a"/>
<path d="M106.9 164.02L109.78 166.9L106.9 169.78L104.02 166.9Z" fill="#85851a"/>
<path d="M112.9 160.42L115.78 163.3L112.9 166.18L110.02 163.3Z" fill="#85851a"/>
<path d="M119.1 157.32L121.98 160.2L119.1 163.08L116.22 160.2Z" fill="#85851a"/>
<path d="M126.3 153.72L129.18 156.6L126.3 159.48L123.42 156.6Z" fill="#85851a"/>
<path d="M135.2 151.32L138.08 154.2L135.2 157.08L132.32 154.2Z" fill="#85851a"/>
<path d="M144.9 149.92L147.78 152.8L144.9 155.68L142.02 152.8Z" fill="#85851a"/>
<path d="M155.4 149.52L158.28 152.4L155.4 155.28L152.52 152.4Z" fill="#85851a"/>
<path d="M165.8 149.92L168.68 152.8L165.8 155.68L162.92 152.8Z" fill="#85851a"/>
<path d="M176.3 151.72L179.18 154.6L176.3 157.48L173.42 154.6Z" fill="#85851a"/>
<path d="M185.8 154.92L188.68 157.8L185.8 160.68L182.92 157.8Z" fill="#85851a"/>
<path d="M194.6 158.72L197.48 161.6L194.6 164.48L191.72 161.6Z" fill="#85851a"/>
<path d="M201.6 163.12L204.48 166L201.6 168.88L198.72 166Z" fill="#85851a"/>
<path d="M206.6 168.12L209.48 171L206.6 173.88L203.72 171Z" fill="#85851a"/>
<path d="M210.8 173.12L213.68 176L210.8 178.88L207.92 176Z" fill="#85851a"/>
<path d="M214 178.52L216.88 181.4L214 184.28L211.12 181.4Z" fill="#85851a"/>
<path d="M215.9 184.42L218.78 187.3L215.9 190.18L213.02 187.3Z" fill="#85851a"/>
<path d="M215.7 190.42L218.58 193.3L215.7 196.18L212.82 193.3Z" fill="#85851a"/>
<path d="M213.9 195.12L216.78 198L213.9 200.88L211.02 198Z" fill="#85851a"/>
<path d="M210.7 198.92L213.58 201.8L210.7 204.68L207.82 201.8Z" fill="#85851a"/>
<path d="M206.5 201.72L209.38 204.6L206.5 207.48L203.62 204.6Z" fill="#85851a"/>
<path d="M201.7 203.12L204.58 206L201.7 208.88L198.82 206Z" fill="#85851a"/>
<path d="M197.7 202.82L200.58 205.7L197.7 208.58L194.82 205.7Z" fill="#85851a"/>
<path d="M194.8 201.12L197.68 204L194.8 206.88L191.92 204Z" fill="#85851a"/>
<path d="M214 178.52L216.88 181.4L214 184.28L211.12 181.4Z" fill="#85851a"/>
<path d="M214.84 180.77L217.72 183.65L214.84 186.53L211.96 183.65Z" fill="#85851a"/>
<path d="M215.6 183.04L218.48 185.92L215.6 188.8L212.72 185.92Z" fill="#85851a"/>
<path d="M216 185.41L218.88 188.29L216 191.17L213.12 188.29Z" fill="#85851a"/>
<path d="M216.01 187.8L218.89 190.68L216.01 193.56L213.13 190.68Z" fill="#85851a"/>
<path d="M215.74 190.19L218.62 193.07L215.74 195.95L212.86 193.07Z" fill="#85851a"/>
<path d="M215.14 192.51L218.02 195.39L215.14 198.27L212.26 195.39Z" fill="#85851a"/>
<path d="M214.15 194.69L217.03 197.57L214.15 200.45L211.27 197.57Z" fill="#85851a"/>
<path d="M212.82 196.69L215.7 199.57L212.82 202.45L209.94 199.57Z" fill="#85851a"/>
<path d="M211.2 198.46L214.08 201.34L211.2 204.22L208.32 201.34Z" fill="#85851a"/>
<path d="M209.37 200L212.25 202.88L209.37 205.76L206.49 202.88Z" fill="#85851a"/>
<path d="M207.35 201.29L210.23 204.17L207.35 207.05L204.47 204.17Z" fill="#85851a"/>
<path d="M205.16 202.27L208.04 205.15L205.16 208.03L202.28 205.15Z" fill="#85851a"/>
<path d="M202.85 202.92L205.73 205.8L202.85 208.68L199.97 205.8Z" fill="#85851a"/>
<path d="M200.47 203.2L203.35 206.08L200.47 208.96L197.59 206.08Z" fill="#85851a"/>
<path d="M198.09 202.92L200.97 205.8L198.09 208.68L195.21 205.8Z" fill="#85851a"/>
<path d="M195.93 201.91L198.81 204.79L195.93 207.67L193.05 204.79Z" fill="#85851a"/>
<path d="M65.4 196.6 L65.48 196.38 L65.59 196.09 L65.71 195.74 L65.86 195.36 L66.02 194.97 L66.2 194.6 L66.39 194.24 L66.6 193.86 L66.83 193.48 L67.07 193.1 L67.33 192.74 L67.6 192.4 L67.9 192.09 L68.21 191.79 L68.55 191.51 L68.9 191.23 L69.25 190.97 L69.6 190.7 L69.95 190.44 L70.31 190.19 L70.67 189.94 L71.04 189.69 L71.42 189.45 L71.8 189.2 L72.19 188.95 L72.58 188.71 L72.98 188.46 L73.38 188.21 L73.79 187.96 L74.2 187.7 L74.62 187.44 L75.04 187.18 L75.47 186.92 L75.91 186.65 L76.35 186.35 L76.8 186.04 L77.25 185.69 L77.71 185.31 L78.18 184.92 L78.65 184.52 L79.13 184.11 L79.6 183.71 L80.08 183.31 L80.57 182.89 L81.07 182.48 L81.56 182.06 L82.04 181.66 L82.5 181.28 L82.94 180.92 L83.37 180.57 L83.78 180.23 L84.19 179.91 L84.59 179.59 L85 179.28 L85.41 178.98 L85.81 178.69 L86.21 178.42 L86.6 178.14 L87 177.87 L87.4 177.6 L87.8 177.33 L88.19 177.07 L88.59 176.81 L88.99 176.55 L89.39 176.28 L89.8 176 L90.22 175.71 L90.65 175.41 L91.09 175.11 L91.53 174.81 L91.96 174.5 L92.4 174.2 L92.84 173.87 L93.28 173.52 L93.73 173.16 L94.16 172.84 L94.59 172.57 L95 172.4 L95.37 172.38 L95.69 172.49 L95.99 172.67 L96.33 172.83 L96.72 172.9 L97.2 172.8 L97.8 172.51 L98.48 172.09 L99.22 171.57 L99.99 171 L100.76 170.43 L101.5 169.9 L102.22 169.4 L102.93 168.89 L103.64 168.38 L104.36 167.86 L105.08 167.34 L105.8 166.8 L106.53 166.25 L107.26 165.69 L107.99 165.11 L108.73 164.54 L109.47 163.96 L110.2 163.4 L110.93 162.84 L111.66 162.29 L112.39 161.74 L113.12 161.19 L113.86 160.64 L114.6 160.1 L115.35 159.56 L116.11 159.01 L116.88 158.46 L117.64 157.93 L118.42 157.4 L119.2 156.9 L119.98 156.41 L120.77 155.92 L121.56 155.45 L122.36 155 L123.17 154.58 L124 154.2 L124.79 153.89 L125.53 153.65 L126.29 153.44 L127.11 153.23 L128.06 152.96 L129.2 152.6 L130.56 152.13 L132.11 151.59 L133.78 150.99 L135.53 150.37 L137.28 149.76 L139 149.2 L140.68 148.66 L142.36 148.13 L144.06 147.61 L145.78 147.1 L147.53 146.63 L149.3 146.2 L151.1 145.81 L152.93 145.44 L154.78 145.11 L156.65 144.81 L158.56 144.54 L160.5 144.3 L162.49 144.09 L164.52 143.9 L166.59 143.74 L168.67 143.61 L170.74 143.53 L172.8 143.5 L174.83 143.51 L176.86 143.56 L178.88 143.66 L180.91 143.79 L182.94 143.97 L185 144.2 L187.09 144.49 L189.2 144.84 L191.33 145.24 L193.45 145.66 L195.55 146.09 L197.6 146.5 L199.62 146.88 L201.63 147.25 L203.61 147.62 L205.55 148.02 L207.45 148.47 L209.3 149 L211.09 149.61 L212.83 150.29 L214.52 151.01 L216.17 151.78 L217.8 152.58 L219.4 153.4 L220.98 154.25 L222.53 155.13 L224.05 156.04 L225.54 156.98 L226.99 157.94 L228.4 158.9 L229.8 159.9 L231.21 160.94 L232.57 162.01 L233.87 163.06 L235.06 164.06 L236.1 165 L236.96 165.85 L237.66 166.64 L238.26 167.39 L238.79 168.12 L239.32 168.85 L239.9 169.6 L240.52 170.36 L241.14 171.12 L241.76 171.87 L242.36 172.64 L242.94 173.41 L243.5 174.2 L244.04 175.02 L244.57 175.86 L245.08 176.72 L245.56 177.57 L246.01 178.4 L246.4 179.2 L246.75 179.96 L247.05 180.71 L247.32 181.43 L247.55 182.14 L247.74 182.83 L247.9 183.5 L248.02 184.15 L248.09 184.78 L248.13 185.39 L248.14 186 L248.13 186.6 L248.1 187.2 L248.05 187.81 L247.99 188.41 L247.89 189.01 L247.78 189.6 L247.65 190.2 L247.5 190.8 L247.33 191.41 L247.14 192.03 L246.93 192.64 L246.7 193.25 L246.45 193.84 L246.2 194.4 L245.93 194.93 L245.64 195.43 L245.34 195.91 L245.03 196.38 L244.72 196.84 L244.4 197.3 L244.09 197.76 L243.77 198.21 L243.45 198.66 L243.12 199.09 L242.77 199.5 L242.4 199.9 L242 200.27 L241.59 200.62 L241.15 200.96 L240.7 201.28 L240.25 201.59 L239.8 201.9 L239.34 202.21 L238.88 202.51 L238.41 202.8 L237.94 203.08 L237.47 203.35 L237 203.6 L236.53 203.83 L236.05 204.04 L235.57 204.23 L235.1 204.42 L234.64 204.61 L234.2 204.8 L233.75 205.01 L233.28 205.24 L232.82 205.48 L232.41 205.69 L232.06 205.87 L231.8 206" fill="none" stroke="#8a1a8a" stroke-width="0.6" stroke-opacity="0.55"/>
<path d="M62.38 196.6L67.88 193.57L67.88 199.62Z" fill="#8a1a8a"/>
<path d="M62.86 195.29L68.36 192.26L68.36 198.31Z" fill="#8a1a8a"/>
<path d="M63.48 194.03L68.98 191.01L68.98 197.06Z" fill="#8a1a8a"/>
<path d="M64.22 192.85L69.72 189.82L69.72 195.87Z" fill="#8a1a8a"/>
<path d="M65.16 191.81L70.66 188.79L70.66 194.84Z" fill="#8a1a8a"/>
<path d="M66.26 190.94L71.76 187.92L71.76 193.97Z" fill="#8a1a8a"/>
<path d="M67.39 190.12L72.89 187.09L72.89 193.14Z" fill="#8a1a8a"/>
<path d="M68.56 189.34L74.06 186.32L74.06 192.37Z" fill="#8a1a8a"/>
<path d="M69.74 188.59L75.24 185.57L75.24 191.62Z" fill="#8a1a8a"/>
<path d="M70.93 187.86L76.43 184.83L76.43 190.88Z" fill="#8a1a8a"/>
<path d="M72.12 187.12L77.62 184.1L77.62 190.15Z" fill="#8a1a8a"/>
<path d="M73.3 186.37L78.8 183.35L78.8 189.4Z" fill="#8a1a8a"/>
<path d="M74.42 185.53L79.92 182.51L79.92 188.56Z" fill="#8a1a8a"/>
<path d="M75.49 184.63L80.99 181.61L80.99 187.66Z" fill="#8a1a8a"/>
<path d="M76.56 183.72L82.06 180.7L82.06 186.75Z" fill="#8a1a8a"/>
<path d="M77.63 182.82L83.13 179.8L83.13 185.85Z" fill="#8a1a8a"/>
<path d="M78.7 181.92L84.2 178.9L84.2 184.95Z" fill="#8a1a8a"/>
<path d="M79.78 181.03L85.28 178L85.28 184.05Z" fill="#8a1a8a"/>
<path d="M80.87 180.15L86.37 177.12L86.37 183.17Z" fill="#8a1a8a"/>
<path d="M81.97 179.28L87.47 176.26L87.47 182.31Z" fill="#8a1a8a"/>
<path d="M83.11 178.47L88.61 175.44L88.61 181.49Z" fill="#8a1a8a"/>
<path d="M84.26 177.68L89.76 174.65L89.76 180.7Z" fill="#8a1a8a"/>
<path d="M85.43 176.9L90.93 173.87L90.93 179.92Z" fill="#8a1a8a"/>
<path d="M86.59 176.12L92.09 173.1L92.09 179.15Z" fill="#8a1a8a"/>
<path d="M87.75 175.33L93.25 172.31L93.25 178.36Z" fill="#8a1a8a"/>
<path d="M88.9 174.53L94.4 171.51L94.4 177.56Z" fill="#8a1a8a"/>
<path d="M90.05 173.74L95.55 170.71L95.55 176.76Z" fill="#8a1a8a"/>
<path d="M91.2 172.94L96.7 169.91L96.7 175.96Z" fill="#8a1a8a"/>
<path d="M94.17 172.8L99.67 169.78L99.67 175.83Z" fill="#8a1a8a"/>
<path d="M98.47 169.9L103.97 166.88L103.97 172.93Z" fill="#8a1a8a"/>
<path d="M102.77 166.8L108.27 163.78L108.27 169.83Z" fill="#8a1a8a"/>
<path d="M107.17 163.4L112.67 160.38L112.67 166.43Z" fill="#8a1a8a"/>
<path d="M111.57 160.1L117.07 157.07L117.07 163.12Z" fill="#8a1a8a"/>
<path d="M116.17 156.9L121.67 153.88L121.67 159.93Z" fill="#8a1a8a"/>
<path d="M120.97 154.2L126.47 151.17L126.47 157.22Z" fill="#8a1a8a"/>
<path d="M126.17 152.6L131.67 149.57L131.67 155.62Z" fill="#8a1a8a"/>
<path d="M135.97 149.2L141.47 146.17L141.47 152.22Z" fill="#8a1a8a"/>
<path d="M146.28 146.2L151.78 143.17L151.78 149.22Z" fill="#8a1a8a"/>
<path d="M157.47 144.3L162.97 141.28L162.97 147.33Z" fill="#8a1a8a"/>
<path d="M169.78 143.5L175.28 140.47L175.28 146.53Z" fill="#8a1a8a"/>
<path d="M181.97 144.2L187.47 141.17L187.47 147.22Z" fill="#8a1a8a"/>
<path d="M194.57 146.5L200.07 143.47L200.07 149.53Z" fill="#8a1a8a"/>
<path d="M206.28 149L211.78 145.97L211.78 152.03Z" fill="#8a1a8a"/>
<path d="M216.38 153.4L221.88 150.38L221.88 156.43Z" fill="#8a1a8a"/>
<path d="M225.38 158.9L230.88 155.88L230.88 161.93Z" fill="#8a1a8a"/>
<path d="M233.07 165L238.57 161.97L238.57 168.03Z" fill="#8a1a8a"/>
<path d="M236.88 169.6L242.38 166.57L242.38 172.62Z" fill="#8a1a8a"/>
<path d="M240.47 174.2L245.97 171.17L245.97 177.22Z" fill="#8a1a8a"/>
<path d="M243.38 179.2L248.88 176.17L248.88 182.22Z" fill="#8a1a8a"/>
<path d="M244.88 183.5L250.38 180.47L250.38 186.53Z" fill="#8a1a8a"/>
<path d="M245.07 187.2L250.57 184.17L250.57 190.22Z" fill="#8a1a8a"/>
<path d="M244.47 190.8L249.97 187.78L249.97 193.83Z" fill="#8a1a8a"/>
<path d="M243.17 194.4L248.67 191.38L248.67 197.43Z" fill="#8a1a8a"/>
<path d="M241.38 197.3L246.88 194.28L246.88 200.33Z" fill="#8a1a8a"/>
<path d="M239.38 199.9L244.88 196.88L244.88 202.93Z" fill="#8a1a8a"/>
<path d="M236.78 201.9L242.28 198.88L242.28 204.93Z" fill="#8a1a8a"/>
<path d="M233.97 203.6L239.47 200.57L239.47 206.62Z" fill="#8a1a8a"/>
<path d="M231.17 204.8L236.67 201.78L236.67 207.83Z" fill="#8a1a8a"/>
<path d="M228.78 206L234.28 202.97L234.28 209.03Z" fill="#8a1a8a"/>
<path d="M65.4 195.2 L65.48 194.98 L65.59 194.69 L65.71 194.34 L65.86 193.96 L66.02 193.57 L66.2 193.2 L66.39 192.84 L66.6 192.46 L66.83 192.08 L67.07 191.7 L67.33 191.34 L67.6 191 L67.9 190.69 L68.21 190.39 L68.55 190.11 L68.9 189.83 L69.25 189.57 L69.6 189.3 L69.95 189.04 L70.31 188.79 L70.67 188.54 L71.04 188.29 L71.42 188.05 L71.8 187.8 L72.19 187.55 L72.58 187.3 L72.98 187.06 L73.38 186.81 L73.79 186.56 L74.2 186.3 L74.62 186.04 L75.04 185.79 L75.47 185.54 L75.91 185.27 L76.35 185 L76.8 184.7 L77.25 184.38 L77.71 184.04 L78.18 183.69 L78.65 183.33 L79.13 182.96 L79.6 182.6 L80.08 182.23 L80.57 181.86 L81.07 181.48 L81.56 181.11 L82.04 180.74 L82.5 180.4 L82.94 180.07 L83.37 179.76 L83.78 179.46 L84.19 179.17 L84.59 178.88 L85 178.6 L85.41 178.32 L85.81 178.05 L86.21 177.79 L86.6 177.53 L87 177.26 L87.4 177 L87.8 176.74 L88.19 176.47 L88.59 176.21 L88.99 175.95 L89.39 175.68 L89.8 175.4 L90.22 175.11 L90.65 174.81 L91.09 174.51 L91.53 174.21 L91.96 173.9 L92.4 173.6 L92.83 173.3 L93.26 173.01 L93.69 172.72 L94.12 172.43 L94.56 172.12 L95 171.8 L95.45 171.46 L95.91 171.1 L96.38 170.73 L96.85 170.36 L97.33 169.98 L97.8 169.6 L98.26 169.24 L98.71 168.88 L99.16 168.53 L99.63 168.15 L100.13 167.75 L100.7 167.3 L101.32 166.8 L101.97 166.26 L102.66 165.69 L103.39 165.1 L104.17 164.5 L105 163.9 L105.9 163.31 L106.87 162.71 L107.88 162.11 L108.92 161.5 L109.97 160.86 L111 160.2 L112.02 159.5 L113.03 158.75 L114.06 157.99 L115.09 157.23 L116.14 156.49 L117.2 155.8 L118.26 155.17 L119.32 154.58 L120.39 154.02 L121.5 153.46 L122.66 152.9 L123.9 152.3 L125.21 151.67 L126.57 151.02 L127.99 150.36 L129.47 149.69 L131.01 149.04 L132.6 148.4 L134.27 147.78 L136.02 147.17 L137.82 146.58 L139.67 145.98 L141.54 145.39 L143.4 144.8 L145.27 144.19 L147.17 143.57 L149.09 142.96 L151.02 142.36 L152.96 141.8 L154.9 141.3 L156.84 140.86 L158.78 140.46 L160.72 140.11 L162.69 139.78 L164.68 139.48 L166.7 139.2 L168.76 138.94 L170.84 138.7 L172.95 138.49 L175.08 138.3 L177.23 138.14 L179.4 138 L181.59 137.88 L183.82 137.79 L186.06 137.72 L188.31 137.68 L190.56 137.67 L192.8 137.7 L195.02 137.76 L197.23 137.86 L199.44 137.99 L201.65 138.15 L203.87 138.36 L206.1 138.6 L208.35 138.88 L210.62 139.2 L212.9 139.56 L215.18 139.96 L217.45 140.41 L219.7 140.9 L221.97 141.45 L224.28 142.07 L226.57 142.73 L228.82 143.42 L230.98 144.11 L233 144.8 L234.87 145.47 L236.63 146.14 L238.29 146.82 L239.89 147.51 L241.45 148.24 L243 149 L244.54 149.8 L246.04 150.63 L247.5 151.49 L248.92 152.37 L250.29 153.28 L251.6 154.2 L252.84 155.15 L254.02 156.13 L255.15 157.12 L256.24 158.14 L257.32 159.17 L258.4 160.2 L259.48 161.25 L260.55 162.31 L261.6 163.39 L262.63 164.47 L263.63 165.54 L264.6 166.6 L265.54 167.65 L266.47 168.69 L267.36 169.72 L268.22 170.76 L269.04 171.78 L269.8 172.8 L270.52 173.82 L271.19 174.85 L271.83 175.88 L272.41 176.88 L272.93 177.86 L273.4 178.8 L273.8 179.7 L274.14 180.56 L274.42 181.39 L274.66 182.2 L274.85 183 L275 183.8 L275.11 184.6 L275.17 185.39 L275.19 186.16 L275.16 186.93 L275.1 187.67 L275 188.4 L274.86 189.11 L274.67 189.79 L274.44 190.46 L274.18 191.12 L273.9 191.76 L273.6 192.4 L273.29 193.03 L272.95 193.66 L272.59 194.28 L272.21 194.87 L271.81 195.45 L271.4 196 L270.97 196.52 L270.53 197.02 L270.06 197.5 L269.59 197.96 L269.1 198.39 L268.6 198.8 L268.09 199.18 L267.56 199.54 L267.01 199.88 L266.47 200.19 L265.93 200.5 L265.4 200.8 L264.88 201.09 L264.36 201.37 L263.85 201.64 L263.35 201.9 L262.86 202.15 L262.4 202.4 L261.94 202.66 L261.47 202.93 L261.01 203.2 L260.6 203.44 L260.25 203.65 L260 203.8" fill="none" stroke="#800c0c" stroke-width="0.6" stroke-opacity="0.55"/>
<path d="M68.43 195.2L62.93 192.17L62.93 198.22Z" fill="#800c0c"/>
<path d="M69.34 192.98L63.84 189.96L63.84 196.01Z" fill="#800c0c"/>
<path d="M70.65 190.98L65.15 187.95L65.15 194Z" fill="#800c0c"/>
<path d="M72.47 189.42L66.97 186.4L66.97 192.45Z" fill="#800c0c"/>
<path d="M74.44 188.05L68.94 185.03L68.94 191.08Z" fill="#800c0c"/>
<path d="M76.47 186.77L70.97 183.74L70.97 189.79Z" fill="#800c0c"/>
<path d="M78.52 185.53L73.02 182.5L73.02 188.55Z" fill="#800c0c"/>
<path d="M80.52 184.2L75.02 181.18L75.02 187.23Z" fill="#800c0c"/>
<path d="M82.43 182.75L76.93 179.72L76.93 185.77Z" fill="#800c0c"/>
<path d="M84.34 181.29L78.84 178.27L78.84 184.32Z" fill="#800c0c"/>
<path d="M86.26 179.86L80.76 176.83L80.76 182.88Z" fill="#800c0c"/>
<path d="M88.22 178.47L82.72 175.44L82.72 181.49Z" fill="#800c0c"/>
<path d="M90.22 177.14L84.72 174.11L84.72 180.16Z" fill="#800c0c"/>
<path d="M92.83 175.4L87.33 172.38L87.33 178.43Z" fill="#800c0c"/>
<path d="M95.43 173.6L89.93 170.57L89.93 176.62Z" fill="#800c0c"/>
<path d="M98.03 171.8L92.53 168.78L92.53 174.83Z" fill="#800c0c"/>
<path d="M100.83 169.6L95.33 166.57L95.33 172.62Z" fill="#800c0c"/>
<path d="M103.73 167.3L98.23 164.28L98.23 170.33Z" fill="#800c0c"/>
<path d="M108.03 163.9L102.53 160.88L102.53 166.93Z" fill="#800c0c"/>
<path d="M114.03 160.2L108.53 157.17L108.53 163.22Z" fill="#800c0c"/>
<path d="M120.23 155.8L114.73 152.78L114.73 158.83Z" fill="#800c0c"/>
<path d="M126.93 152.3L121.43 149.28L121.43 155.33Z" fill="#800c0c"/>
<path d="M135.62 148.4L130.12 145.38L130.12 151.43Z" fill="#800c0c"/>
<path d="M146.43 144.8L140.93 141.78L140.93 147.83Z" fill="#800c0c"/>
<path d="M157.93 141.3L152.43 138.28L152.43 144.33Z" fill="#800c0c"/>
<path d="M169.72 139.2L164.22 136.17L164.22 142.22Z" fill="#800c0c"/>
<path d="M182.43 138L176.93 134.97L176.93 141.03Z" fill="#800c0c"/>
<path d="M195.83 137.7L190.33 134.67L190.33 140.72Z" fill="#800c0c"/>
<path d="M209.12 138.6L203.62 135.57L203.62 141.62Z" fill="#800c0c"/>
<path d="M222.72 140.9L217.22 137.88L217.22 143.93Z" fill="#800c0c"/>
<path d="M236.03 144.8L230.53 141.78L230.53 147.83Z" fill="#800c0c"/>
<path d="M246.03 149L240.53 145.97L240.53 152.03Z" fill="#800c0c"/>
<path d="M254.62 154.2L249.12 151.17L249.12 157.22Z" fill="#800c0c"/>
<path d="M261.42 160.2L255.92 157.17L255.92 163.22Z" fill="#800c0c"/>
<path d="M267.62 166.6L262.12 163.57L262.12 169.62Z" fill="#800c0c"/>
<path d="M272.82 172.8L267.32 169.78L267.32 175.83Z" fill="#800c0c"/>
<path d="M276.42 178.8L270.92 175.78L270.92 181.83Z" fill="#800c0c"/>
<path d="M278.02 183.8L272.52 180.78L272.52 186.83Z" fill="#800c0c"/>
<path d="M278.02 188.4L272.52 185.38L272.52 191.43Z" fill="#800c0c"/>
<path d="M276.62 192.4L271.12 189.38L271.12 195.43Z" fill="#800c0c"/>
<path d="M274.42 196L268.92 192.97L268.92 199.03Z" fill="#800c0c"/>
<path d="M271.62 198.8L266.12 195.78L266.12 201.83Z" fill="#800c0c"/>
<path d="M268.42 200.8L262.92 197.78L262.92 203.83Z" fill="#800c0c"/>
<path d="M265.42 202.4L259.92 199.38L259.92 205.43Z" fill="#800c0c"/>
<path d="M263.02 203.8L257.52 200.78L257.52 206.83Z" fill="#800c0c"/>
<path d="M63.6 195.2 L63.68 194.85 L63.78 194.37 L63.9 193.8 L64.06 193.19 L64.25 192.57 L64.5 192 L64.78 191.48 L65.1 190.97 L65.45 190.46 L65.86 189.94 L66.34 189.39 L66.9 188.8 L67.57 188.15 L68.34 187.43 L69.19 186.69 L70.07 185.96 L70.95 185.25 L71.8 184.6 L72.62 184.03 L73.43 183.53 L74.25 183.06 L75.08 182.58 L75.92 182.07 L76.8 181.5 L77.72 180.84 L78.68 180.12 L79.66 179.37 L80.63 178.61 L81.59 177.88 L82.5 177.2 L83.42 176.54 L84.37 175.87 L85.31 175.23 L86.16 174.65 L86.88 174.16 L87.4 173.8 L87.4 180.2 L86.88 180.56 L86.16 181.04 L85.31 181.62 L84.37 182.27 L83.42 182.94 L82.5 183.6 L81.59 184.29 L80.63 185.04 L79.66 185.83 L78.68 186.6 L77.72 187.34 L76.8 188 L75.92 188.57 L75.08 189.07 L74.25 189.53 L73.43 189.98 L72.62 190.46 L71.8 191 L70.94 191.64 L70.05 192.35 L69.16 193.09 L68.31 193.81 L67.55 194.46 L66.9 195 L66.38 195.42 L65.97 195.76 L65.63 196.04 L65.36 196.26 L65.12 196.44 L64.9 196.6 L64.71 196.72 L64.57 196.78 L64.48 196.8 L64.4 196.8 L64.35 196.79 L64.3 196.8Z" fill="#800c0c"/>
</g>
<rect x="48.3" y="56.6" width="50.1" height="85.6" fill="#fff" stroke="#6a6a6a" stroke-width="0.9"/>
<rect x="47.5" y="2.6" width="257.5" height="207.4" fill="none" stroke="#111" stroke-width="1.1"/>
<line x1="66.1" y1="210.0" x2="66.1" y2="206" stroke="#111" stroke-width="1" shape-rendering="crispEdges"/>
<line x1="84.47" y1="210.0" x2="84.47" y2="207.5" stroke="#111" stroke-width="1" shape-rendering="crispEdges"/>
<line x1="102.85" y1="210.0" x2="102.85" y2="206" stroke="#111" stroke-width="1" shape-rendering="crispEdges"/>
<line x1="121.22" y1="210.0" x2="121.22" y2="207.5" stroke="#111" stroke-width="1" shape-rendering="crispEdges"/>
<line x1="139.6" y1="210.0" x2="139.6" y2="206" stroke="#111" stroke-width="1" shape-rendering="crispEdges"/>
<line x1="157.97" y1="210.0" x2="157.97" y2="207.5" stroke="#111" stroke-width="1" shape-rendering="crispEdges"/>
<line x1="176.35" y1="210.0" x2="176.35" y2="206" stroke="#111" stroke-width="1" shape-rendering="crispEdges"/>
<line x1="194.72" y1="210.0" x2="194.72" y2="207.5" stroke="#111" stroke-width="1" shape-rendering="crispEdges"/>
<line x1="213.1" y1="210.0" x2="213.1" y2="206" stroke="#111" stroke-width="1" shape-rendering="crispEdges"/>
<line x1="231.47" y1="210.0" x2="231.47" y2="207.5" stroke="#111" stroke-width="1" shape-rendering="crispEdges"/>
<line x1="249.85" y1="210.0" x2="249.85" y2="206" stroke="#111" stroke-width="1" shape-rendering="crispEdges"/>
<line x1="268.23" y1="210.0" x2="268.23" y2="207.5" stroke="#111" stroke-width="1" shape-rendering="crispEdges"/>
<line x1="286.6" y1="210.0" x2="286.6" y2="206" stroke="#111" stroke-width="1" shape-rendering="crispEdges"/>
<line x1="47.5" y1="194.7" x2="51.5" y2="194.7" stroke="#111" stroke-width="1" shape-rendering="crispEdges"/>
<line x1="47.5" y1="179.9" x2="50" y2="179.9" stroke="#111" stroke-width="1" shape-rendering="crispEdges"/>
<line x1="47.5" y1="165.1" x2="51.5" y2="165.1" stroke="#111" stroke-width="1" shape-rendering="crispEdges"/>
<line x1="47.5" y1="150.3" x2="50" y2="150.3" stroke="#111" stroke-width="1" shape-rendering="crispEdges"/>
<line x1="47.5" y1="135.5" x2="51.5" y2="135.5" stroke="#111" stroke-width="1" shape-rendering="crispEdges"/>
<line x1="47.5" y1="120.7" x2="50" y2="120.7" stroke="#111" stroke-width="1" shape-rendering="crispEdges"/>
<line x1="47.5" y1="105.9" x2="51.5" y2="105.9" stroke="#111" stroke-width="1" shape-rendering="crispEdges"/>
<line x1="47.5" y1="91.1" x2="50" y2="91.1" stroke="#111" stroke-width="1" shape-rendering="crispEdges"/>
<line x1="47.5" y1="76.3" x2="51.5" y2="76.3" stroke="#111" stroke-width="1" shape-rendering="crispEdges"/>
<line x1="47.5" y1="61.5" x2="50" y2="61.5" stroke="#111" stroke-width="1" shape-rendering="crispEdges"/>
<line x1="47.5" y1="46.7" x2="51.5" y2="46.7" stroke="#111" stroke-width="1" shape-rendering="crispEdges"/>
<line x1="47.5" y1="31.9" x2="50" y2="31.9" stroke="#111" stroke-width="1" shape-rendering="crispEdges"/>
<line x1="47.5" y1="17.1" x2="51.5" y2="17.1" stroke="#111" stroke-width="1" shape-rendering="crispEdges"/>
<text x="66.1" y="223" font-family="Liberation Sans, sans-serif" font-size="9.2" text-anchor="middle" fill="#1a1a1a">0</text>
<text x="103.15" y="223" font-family="Liberation Sans, sans-serif" font-size="9.2" text-anchor="middle" fill="#1a1a1a">1x10<tspan font-size="5.8" dy="-3.8">6</tspan></text>
<text x="139.9" y="223" font-family="Liberation Sans, sans-serif" font-size="9.2" text-anchor="middle" fill="#1a1a1a">2x10<tspan font-size="5.8" dy="-3.8">6</tspan></text>
<text x="176.65" y="223" font-family="Liberation Sans, sans-serif" font-size="9.2" text-anchor="middle" fill="#1a1a1a">3x10<tspan font-size="5.8" dy="-3.8">6</tspan></text>
<text x="213.4" y="223" font-family="Liberation Sans, sans-serif" font-size="9.2" text-anchor="middle" fill="#1a1a1a">4x10<tspan font-size="5.8" dy="-3.8">6</tspan></text>
<text x="250.15" y="223" font-family="Liberation Sans, sans-serif" font-size="9.2" text-anchor="middle" fill="#1a1a1a">5x10<tspan font-size="5.8" dy="-3.8">6</tspan></text>
<text x="286.9" y="223" font-family="Liberation Sans, sans-serif" font-size="9.2" text-anchor="middle" fill="#1a1a1a">6x10<tspan font-size="5.8" dy="-3.8">6</tspan></text>
<text x="43" y="198.1" font-family="Liberation Sans, sans-serif" font-size="9.2" text-anchor="end" fill="#1a1a1a">0</text>
<text x="43.6" y="168.7" font-family="Liberation Sans, sans-serif" font-size="9.2" text-anchor="end" fill="#1a1a1a">-1x10<tspan font-size="5.8" dy="-3.8">6</tspan></text>
<text x="43.6" y="139.1" font-family="Liberation Sans, sans-serif" font-size="9.2" text-anchor="end" fill="#1a1a1a">-2x10<tspan font-size="5.8" dy="-3.8">6</tspan></text>
<text x="43.6" y="109.5" font-family="Liberation Sans, sans-serif" font-size="9.2" text-anchor="end" fill="#1a1a1a">-3x10<tspan font-size="5.8" dy="-3.8">6</tspan></text>
<text x="43.6" y="79.9" font-family="Liberation Sans, sans-serif" font-size="9.2" text-anchor="end" fill="#1a1a1a">-4x10<tspan font-size="5.8" dy="-3.8">6</tspan></text>
<text x="43.6" y="50.3" font-family="Liberation Sans, sans-serif" font-size="9.2" text-anchor="end" fill="#1a1a1a">-5x10<tspan font-size="5.8" dy="-3.8">6</tspan></text>
<text x="43.6" y="20.7" font-family="Liberation Sans, sans-serif" font-size="9.2" text-anchor="end" fill="#1a1a1a">-6x10<tspan font-size="5.8" dy="-3.8">6</tspan></text>
<text x="140.8" y="241" font-family="Liberation Sans, sans-serif" font-size="12" fill="#1a1a1a">Z<tspan font-size="8" dy="3">re</tspan><tspan dy="-3"> (ohm cm</tspan><tspan font-size="8.2" dy="-4.6">2</tspan><tspan dy="4.6">)</tspan></text>
<text transform="translate(11.7,144.2) rotate(-90)" font-family="Liberation Sans, sans-serif" font-size="12.35" fill="#1a1a1a">Z<tspan font-size="7" dy="3.2" fill="#555">im</tspan><tspan dy="-3.2"> (ohm cm</tspan><tspan font-size="8.2" dy="-4.6">2</tspan><tspan dy="4.6">)</tspan></text>
<text x="63.4" y="19.8" font-family="Liberation Sans, sans-serif" font-size="11" textLength="39.4" lengthAdjust="spacingAndGlyphs" fill="#1a1a1a">100 ppm</text>
<text x="288.5" y="19.6" font-family="Liberation Sans, sans-serif" font-size="10.4" fill="#1a1a1a">a)</text>
<line x1="50.4" y1="63.3" x2="71.8" y2="63.3" stroke="#555555" stroke-width="0.9" stroke-opacity="0.85"/>
<rect x="59.2" y="61.1" width="4.4" height="4.4" fill="#555555"/>
<text x="74.9" y="66.6" font-family="Liberation Sans, sans-serif" font-size="10.1" fill="#1a1a1a" stroke="#1a1a1a" stroke-width="0.15">0 hr</text>
<line x1="50.4" y1="75.25" x2="71.8" y2="75.25" stroke="#f0313a" stroke-width="0.9" stroke-opacity="0.85"/>
<circle cx="61.4" cy="75.25" r="2.5" fill="#f0313a"/>
<text x="74.9" y="78.55" font-family="Liberation Sans, sans-serif" font-size="10.1" fill="#1a1a1a" stroke="#1a1a1a" stroke-width="0.15">3 hr</text>
<line x1="50.4" y1="87.2" x2="71.8" y2="87.2" stroke="#1010f5" stroke-width="0.9" stroke-opacity="0.85"/>
<path d="M61.4 84.12L64.48 89.72L58.32 89.72Z" fill="#1010f5"/>
<text x="74.9" y="90.5" font-family="Liberation Sans, sans-serif" font-size="10.1" fill="#1a1a1a" stroke="#1a1a1a" stroke-width="0.15">6hr</text>
<line x1="50.4" y1="99.15" x2="71.8" y2="99.15" stroke="#ff10ff" stroke-width="0.9" stroke-opacity="0.85"/>
<path d="M61.4 102.23L64.48 96.63L58.32 96.63Z" fill="#ff10ff"/>
<text x="74.9" y="102.45" font-family="Liberation Sans, sans-serif" font-size="10.1" fill="#1a1a1a" stroke="#1a1a1a" stroke-width="0.15">9 hr</text>
<line x1="50.4" y1="111.1" x2="71.8" y2="111.1" stroke="#85851a" stroke-width="0.9" stroke-opacity="0.85"/>
<path d="M61.4 108.1L64.4 111.1L61.4 114.1L58.4 111.1Z" fill="#85851a"/>
<text x="74.9" y="114.4" font-family="Liberation Sans, sans-serif" font-size="10.1" fill="#1a1a1a" stroke="#1a1a1a" stroke-width="0.15">12 hr</text>
<line x1="50.4" y1="123.05" x2="71.8" y2="123.05" stroke="#8a1a8a" stroke-width="0.9" stroke-opacity="0.85"/>
<path d="M58.32 123.05L63.92 119.97L63.92 126.13Z" fill="#8a1a8a"/>
<text x="74.9" y="126.35" font-family="Liberation Sans, sans-serif" font-size="10.1" fill="#1a1a1a" stroke="#1a1a1a" stroke-width="0.15">18 hr</text>
<line x1="50.4" y1="135" x2="71.8" y2="135" stroke="#800c0c" stroke-width="0.9" stroke-opacity="0.85"/>
<path d="M64.48 135L58.88 131.92L58.88 138.08Z" fill="#800c0c"/>
<text x="74.9" y="138.3" font-family="Liberation Sans, sans-serif" font-size="10.1" fill="#1a1a1a" stroke="#1a1a1a" stroke-width="0.15">24 hr</text>
<clipPath id="cr"><rect x="378.5" y="4.5" width="258.0" height="208.0"/></clipPath><g clip-path="url(#cr)">
<path d="M378.5 35.8 L379.82 35.85 L381.62 35.92 L383.76 36 L386.12 36.09 L388.56 36.19 L390.95 36.31 L393.14 36.45 L395 36.6 L396.56 36.77 L397.96 36.95 L399.23 37.14 L400.41 37.35 L401.54 37.58 L402.65 37.83 L403.79 38.1 L405 38.4 L406.25 38.73 L407.5 39.08 L408.75 39.46 L410 39.86 L411.25 40.28 L412.5 40.71 L413.75 41.15 L415 41.6 L416.22 42.06 L417.38 42.52 L418.53 43.01 L419.69 43.5 L420.88 44.01 L422.15 44.53 L423.51 45.06 L425 45.6 L426.64 46.13 L428.4 46.65 L430.26 47.17 L432.19 47.7 L434.16 48.27 L436.13 48.9 L438.09 49.6 L440 50.4 L441.91 51.33 L443.87 52.4 L445.84 53.56 L447.81 54.77 L449.74 55.98 L451.6 57.15 L453.36 58.24 L455 59.2 L456.49 60.03 L457.85 60.76 L459.12 61.42 L460.31 62.04 L461.47 62.63 L462.62 63.22 L463.78 63.84 L465 64.5 L466.25 65.19 L467.5 65.89 L468.76 66.59 L470.01 67.29 L471.26 68.02 L472.51 68.75 L473.76 69.51 L475 70.3 L476.23 71.11 L477.46 71.96 L478.69 72.82 L479.91 73.7 L481.13 74.59 L482.35 75.49 L483.57 76.4 L484.8 77.3 L486.03 78.21 L487.27 79.15 L488.51 80.1 L489.75 81.06 L490.99 82 L492.23 82.93 L493.47 83.83 L494.7 84.7 L495.95 85.54 L497.21 86.36 L498.48 87.16 L499.75 87.94 L501 88.69 L502.21 89.43 L503.39 90.13 L504.5 90.8 L505.54 91.44 L506.53 92.04 L507.46 92.61 L508.36 93.15 L509.25 93.68 L510.14 94.19 L511.05 94.7 L512 95.2 L512.96 95.68 L513.92 96.13 L514.88 96.56 L515.84 96.98 L516.83 97.4 L517.85 97.86 L518.9 98.35 L520 98.9 L521.15 99.49 L522.36 100.1 L523.6 100.73 L524.88 101.4 L526.16 102.1 L527.45 102.85 L528.74 103.65 L530 104.5 L531.25 105.41 L532.5 106.36 L533.75 107.37 L535 108.41 L536.25 109.5 L537.5 110.63 L538.75 111.8 L540 113 L541.25 114.27 L542.5 115.63 L543.75 117.05 L545 118.5 L546.25 119.95 L547.5 121.37 L548.75 122.73 L550 124 L551.25 125.19 L552.5 126.31 L553.75 127.39 L555 128.44 L556.25 129.46 L557.5 130.47 L558.75 131.48 L560 132.5 L561.25 133.53 L562.5 134.57 L563.75 135.59 L565 136.61 L566.25 137.62 L567.5 138.6 L568.75 139.57 L570 140.5 L571.25 141.4 L572.5 142.26 L573.75 143.09 L575 143.91 L576.25 144.72 L577.5 145.53 L578.75 146.36 L580 147.2 L581.25 148.07 L582.5 148.95 L583.75 149.83 L585 150.72 L586.25 151.61 L587.5 152.49 L588.75 153.36 L590 154.2 L591.28 155.04 L592.59 155.89 L593.93 156.74 L595.25 157.57 L596.54 158.37 L597.78 159.14 L598.94 159.85 L600 160.5 L600.94 161.07 L601.78 161.57 L602.54 162.01 L603.25 162.42 L603.93 162.8 L604.59 163.18 L605.28 163.58 L606 164 L606.74 164.44 L607.45 164.86 L608.16 165.28 L608.88 165.71 L609.6 166.14 L610.36 166.6 L611.15 167.08 L612 167.6 L612.9 168.16 L613.86 168.74 L614.85 169.35 L615.88 169.99 L616.91 170.63 L617.95 171.29 L618.99 171.95 L620 172.6 L621 173.25 L621.99 173.9 L622.98 174.55 L623.97 175.21 L624.96 175.88 L625.96 176.57 L626.98 177.27 L628 178 L629.1 178.8 L630.29 179.68 L631.52 180.61 L632.75 181.54 L633.91 182.42 L634.96 183.23 L635.84 183.9 L636.5 184.4" fill="none" stroke="#000000" stroke-width="0.7" stroke-opacity="1"/>
<rect x="376.65" y="33.95" width="3.7" height="3.7" fill="#000000"/>
<rect x="380.34" y="34.09" width="3.7" height="3.7" fill="#000000"/>
<rect x="384.02" y="34.23" width="3.7" height="3.7" fill="#000000"/>
<rect x="387.71" y="34.39" width="3.7" height="3.7" fill="#000000"/>
<rect x="391.39" y="34.61" width="3.7" height="3.7" fill="#000000"/>
<rect x="395.08" y="34.96" width="3.7" height="3.7" fill="#000000"/>
<rect x="398.76" y="35.54" width="3.7" height="3.7" fill="#000000"/>
<rect x="402.45" y="36.38" width="3.7" height="3.7" fill="#000000"/>
<rect x="406.14" y="37.38" width="3.7" height="3.7" fill="#000000"/>
<rect x="409.82" y="38.57" width="3.7" height="3.7" fill="#000000"/>
<rect x="413.51" y="39.88" width="3.7" height="3.7" fill="#000000"/>
<rect x="417.19" y="41.37" width="3.7" height="3.7" fill="#000000"/>
<rect x="420.88" y="42.9" width="3.7" height="3.7" fill="#000000"/>
<rect x="424.56" y="44.21" width="3.7" height="3.7" fill="#000000"/>
<rect x="428.25" y="45.27" width="3.7" height="3.7" fill="#000000"/>
<rect x="431.94" y="46.31" width="3.7" height="3.7" fill="#000000"/>
<rect x="435.62" y="47.53" width="3.7" height="3.7" fill="#000000"/>
<rect x="439.31" y="49.11" width="3.7" height="3.7" fill="#000000"/>
<rect x="442.99" y="51.12" width="3.7" height="3.7" fill="#000000"/>
<rect x="446.68" y="53.37" width="3.7" height="3.7" fill="#000000"/>
<rect x="450.36" y="55.68" width="3.7" height="3.7" fill="#000000"/>
<rect x="454.05" y="57.85" width="3.7" height="3.7" fill="#000000"/>
<rect x="457.74" y="59.81" width="3.7" height="3.7" fill="#000000"/>
<rect x="461.42" y="61.72" width="3.7" height="3.7" fill="#000000"/>
<rect x="465.11" y="63.73" width="3.7" height="3.7" fill="#000000"/>
<rect x="468.79" y="65.81" width="3.7" height="3.7" fill="#000000"/>
<rect x="472.48" y="68.02" width="3.7" height="3.7" fill="#000000"/>
<rect x="476.16" y="70.49" width="3.7" height="3.7" fill="#000000"/>
<rect x="479.85" y="73.17" width="3.7" height="3.7" fill="#000000"/>
<rect x="483.54" y="75.88" width="3.7" height="3.7" fill="#000000"/>
<rect x="487.22" y="78.68" width="3.7" height="3.7" fill="#000000"/>
<rect x="490.91" y="81.47" width="3.7" height="3.7" fill="#000000"/>
<rect x="494.59" y="84.01" width="3.7" height="3.7" fill="#000000"/>
<rect x="498.28" y="86.32" width="3.7" height="3.7" fill="#000000"/>
<rect x="501.96" y="88.54" width="3.7" height="3.7" fill="#000000"/>
<rect x="505.65" y="90.78" width="3.7" height="3.7" fill="#000000"/>
<rect x="509.34" y="92.92" width="3.7" height="3.7" fill="#000000"/>
<rect x="513.02" y="94.7" width="3.7" height="3.7" fill="#000000"/>
<rect x="516.71" y="96.34" width="3.7" height="3.7" fill="#000000"/>
<rect x="520.39" y="98.19" width="3.7" height="3.7" fill="#000000"/>
<rect x="524.08" y="100.12" width="3.7" height="3.7" fill="#000000"/>
<rect x="527.76" y="102.39" width="3.7" height="3.7" fill="#000000"/>
<rect x="531.45" y="105.15" width="3.7" height="3.7" fill="#000000"/>
<rect x="535.14" y="108.31" width="3.7" height="3.7" fill="#000000"/>
<rect x="538.82" y="111.83" width="3.7" height="3.7" fill="#000000"/>
<rect x="542.51" y="115.9" width="3.7" height="3.7" fill="#000000"/>
<rect x="546.19" y="120.12" width="3.7" height="3.7" fill="#000000"/>
<rect x="549.88" y="123.77" width="3.7" height="3.7" fill="#000000"/>
<rect x="553.56" y="126.93" width="3.7" height="3.7" fill="#000000"/>
<rect x="557.25" y="129.91" width="3.7" height="3.7" fill="#000000"/>
<rect x="560.94" y="132.95" width="3.7" height="3.7" fill="#000000"/>
<rect x="564.62" y="135.94" width="3.7" height="3.7" fill="#000000"/>
<rect x="568.31" y="138.76" width="3.7" height="3.7" fill="#000000"/>
<rect x="571.99" y="141.3" width="3.7" height="3.7" fill="#000000"/>
<rect x="575.68" y="143.7" width="3.7" height="3.7" fill="#000000"/>
<rect x="579.36" y="146.19" width="3.7" height="3.7" fill="#000000"/>
<rect x="583.05" y="148.8" width="3.7" height="3.7" fill="#000000"/>
<rect x="586.74" y="151.39" width="3.7" height="3.7" fill="#000000"/>
<rect x="590.42" y="153.83" width="3.7" height="3.7" fill="#000000"/>
<rect x="594.11" y="156.16" width="3.7" height="3.7" fill="#000000"/>
<rect x="597.79" y="158.43" width="3.7" height="3.7" fill="#000000"/>
<rect x="601.48" y="160.61" width="3.7" height="3.7" fill="#000000"/>
<rect x="605.16" y="162.75" width="3.7" height="3.7" fill="#000000"/>
<rect x="608.85" y="164.96" width="3.7" height="3.7" fill="#000000"/>
<rect x="612.54" y="167.22" width="3.7" height="3.7" fill="#000000"/>
<rect x="616.22" y="169.51" width="3.7" height="3.7" fill="#000000"/>
<rect x="619.91" y="171.9" width="3.7" height="3.7" fill="#000000"/>
<rect x="623.59" y="174.36" width="3.7" height="3.7" fill="#000000"/>
<rect x="627.28" y="176.97" width="3.7" height="3.7" fill="#000000"/>
<rect x="630.96" y="179.74" width="3.7" height="3.7" fill="#000000"/>
<rect x="634.65" y="182.55" width="3.7" height="3.7" fill="#000000"/>
<path d="M378.5 200.8 L378.6 200.77 L378.71 200.74 L378.85 200.71 L379.01 200.66 L379.2 200.6 L379.42 200.53 L379.69 200.43 L380 200.3 L380.37 200.14 L380.81 199.93 L381.29 199.71 L381.8 199.46 L382.33 199.21 L382.87 198.96 L383.4 198.72 L383.9 198.5 L384.39 198.3 L384.87 198.11 L385.36 197.92 L385.84 197.74 L386.33 197.56 L386.82 197.38 L387.31 197.19 L387.8 197 L388.3 196.8 L388.81 196.61 L389.32 196.41 L389.83 196.21 L390.34 196 L390.84 195.8 L391.33 195.6 L391.8 195.4 L392.25 195.2 L392.69 195.01 L393.11 194.81 L393.53 194.62 L393.94 194.42 L394.36 194.22 L394.77 194.01 L395.2 193.8 L395.64 193.57 L396.09 193.34 L396.55 193.1 L397.01 192.85 L397.46 192.6 L397.9 192.36 L398.31 192.13 L398.7 191.9 L399.04 191.71 L399.32 191.56 L399.57 191.42 L399.81 191.29 L400.07 191.13 L400.35 190.93 L400.69 190.66 L401.1 190.3 L401.59 189.86 L402.15 189.36 L402.75 188.81 L403.39 188.2 L404.05 187.55 L404.71 186.86 L405.37 186.15 L406 185.4 L406.62 184.61 L407.25 183.75 L407.88 182.85 L408.51 181.92 L409.14 180.97 L409.77 180.03 L410.39 179.1 L411 178.2 L411.61 177.32 L412.22 176.45 L412.82 175.58 L413.42 174.71 L414.02 173.86 L414.6 173.02 L415.16 172.2 L415.7 171.4 L416.22 170.63 L416.73 169.88 L417.21 169.14 L417.69 168.43 L418.15 167.72 L418.61 167.01 L419.06 166.31 L419.5 165.6 L419.93 164.89 L420.35 164.2 L420.76 163.5 L421.16 162.81 L421.56 162.12 L421.97 161.42 L422.38 160.72 L422.8 160 L423.23 159.27 L423.67 158.53 L424.11 157.78 L424.55 157.03 L425 156.27 L425.46 155.51 L425.92 154.75 L426.4 154 L426.89 153.25 L427.41 152.49 L427.94 151.72 L428.47 150.96 L429 150.21 L429.52 149.46 L430.02 148.72 L430.5 148 L430.95 147.3 L431.36 146.62 L431.76 145.96 L432.15 145.3 L432.54 144.64 L432.94 143.98 L433.35 143.3 L433.8 142.6 L434.27 141.88 L434.77 141.14 L435.28 140.4 L435.8 139.64 L436.33 138.88 L436.86 138.12 L437.38 137.36 L437.9 136.6 L438.41 135.84 L438.9 135.09 L439.4 134.33 L439.89 133.57 L440.4 132.81 L440.91 132.04 L441.44 131.27 L442 130.5 L442.58 129.72 L443.19 128.92 L443.81 128.12 L444.44 127.32 L445.09 126.52 L445.73 125.73 L446.37 124.96 L447 124.2 L447.61 123.46 L448.21 122.72 L448.8 122 L449.39 121.28 L450 120.58 L450.63 119.9 L451.29 119.24 L452 118.6 L452.76 117.98 L453.56 117.37 L454.41 116.78 L455.27 116.21 L456.14 115.67 L457.01 115.15 L457.87 114.66 L458.7 114.2 L459.5 113.78 L460.29 113.4 L461.06 113.06 L461.83 112.74 L462.6 112.44 L463.39 112.15 L464.18 111.87 L465 111.6 L465.83 111.33 L466.68 111.08 L467.53 110.85 L468.39 110.62 L469.27 110.41 L470.16 110.2 L471.07 110 L472 109.8 L472.94 109.61 L473.88 109.44 L474.84 109.27 L475.81 109.11 L476.81 108.95 L477.84 108.78 L478.9 108.6 L480 108.4 L481.15 108.18 L482.36 107.94 L483.6 107.7 L484.88 107.44 L486.16 107.18 L487.45 106.92 L488.74 106.66 L490 106.4 L491.25 106.15 L492.5 105.91 L493.75 105.66 L495 105.42 L496.25 105.17 L497.5 104.9 L498.75 104.61 L500 104.3 L501.25 103.97 L502.5 103.63 L503.75 103.27 L505 102.89 L506.25 102.5 L507.5 102.09 L508.75 101.66 L510 101.2 L511.28 100.71 L512.62 100.17 L513.97 99.6 L515.31 99.02 L516.62 98.43 L517.85 97.86 L518.99 97.31 L520 96.8 L520.84 96.34 L521.52 95.92 L522.08 95.52 L522.59 95.14 L523.08 94.75 L523.61 94.34 L524.24 93.89 L525 93.4 L525.9 92.85 L526.9 92.24 L527.96 91.61 L529.07 90.95 L530.22 90.29 L531.37 89.63 L532.5 89 L533.6 88.4 L534.66 87.82 L535.68 87.25 L536.7 86.69 L537.72 86.14 L538.76 85.61 L539.85 85.1 L540.99 84.63 L542.2 84.2 L543.5 83.81 L544.87 83.45 L546.3 83.12 L547.77 82.83 L549.26 82.55 L550.76 82.29 L552.24 82.04 L553.7 81.8 L555.13 81.58 L556.54 81.39 L557.96 81.23 L559.37 81.07 L560.79 80.92 L562.23 80.77 L563.7 80.6 L565.2 80.4 L566.83 80.17 L568.61 79.9 L570.47 79.61 L572.32 79.31 L574.08 79.03 L575.67 78.77 L577 78.56 L578 78.4" fill="none" stroke="#000000" stroke-width="0.7" stroke-opacity="1"/>
<path d="M580 88 L580.77 87.89 L581.8 87.74 L583.02 87.57 L584.38 87.38 L585.81 87.17 L587.27 86.95 L588.68 86.72 L590 86.5 L591.26 86.27 L592.55 86.04 L593.84 85.79 L595.12 85.54 L596.4 85.28 L597.64 85.02 L598.85 84.76 L600 84.5 L601.15 84.23 L602.33 83.93 L603.5 83.63 L604.62 83.33 L605.67 83.04 L606.61 82.78 L607.4 82.56 L608 82.4" fill="none" stroke="#000000" stroke-width="0.7" stroke-opacity="1"/>
<path d="M618 75.7 L618.69 75.46 L619.61 75.13 L620.69 74.75 L621.91 74.32 L623.19 73.86 L624.5 73.4 L625.79 72.94 L627 72.5 L628.23 72.05 L629.56 71.56 L630.94 71.06 L632.31 70.55 L633.61 70.07 L634.78 69.64 L635.76 69.27 L636.5 69" fill="none" stroke="#000000" stroke-width="0.7" stroke-opacity="1"/>
<path d="M578 78.4 L580 88" fill="none" stroke="#000000" stroke-width="0.6" stroke-opacity="0.8"/>
<path d="M608 82.4 L610.5 77" fill="none" stroke="#000000" stroke-width="0.6" stroke-opacity="0.8"/>
<path d="M610.5 77 L614 67" fill="none" stroke="#000000" stroke-width="0.6" stroke-opacity="0.8"/>
<path d="M614 67 L618 75.7" fill="none" stroke="#000000" stroke-width="0.6" stroke-opacity="0.8"/>
<rect x="376.65" y="198.95" width="3.7" height="3.7" fill="#000000"/>
<rect x="380.34" y="197.43" width="3.7" height="3.7" fill="#000000"/>
<rect x="384.02" y="195.88" width="3.7" height="3.7" fill="#000000"/>
<rect x="387.71" y="194.46" width="3.7" height="3.7" fill="#000000"/>
<rect x="391.39" y="192.9" width="3.7" height="3.7" fill="#000000"/>
<rect x="395.08" y="191.05" width="3.7" height="3.7" fill="#000000"/>
<rect x="398.76" y="188.86" width="3.7" height="3.7" fill="#000000"/>
<rect x="402.45" y="185.44" width="3.7" height="3.7" fill="#000000"/>
<rect x="406.14" y="180.85" width="3.7" height="3.7" fill="#000000"/>
<rect x="409.82" y="175.38" width="3.7" height="3.7" fill="#000000"/>
<rect x="413.51" y="170.06" width="3.7" height="3.7" fill="#000000"/>
<rect x="417.19" y="164.48" width="3.7" height="3.7" fill="#000000"/>
<rect x="420.88" y="158.27" width="3.7" height="3.7" fill="#000000"/>
<rect x="424.56" y="152.13" width="3.7" height="3.7" fill="#000000"/>
<rect x="428.25" y="146.76" width="3.7" height="3.7" fill="#000000"/>
<rect x="431.94" y="140.77" width="3.7" height="3.7" fill="#000000"/>
<rect x="435.62" y="135.38" width="3.7" height="3.7" fill="#000000"/>
<rect x="439.31" y="129.83" width="3.7" height="3.7" fill="#000000"/>
<rect x="442.99" y="124.97" width="3.7" height="3.7" fill="#000000"/>
<rect x="446.68" y="120.48" width="3.7" height="3.7" fill="#000000"/>
<rect x="450.36" y="116.57" width="3.7" height="3.7" fill="#000000"/>
<rect x="454.05" y="113.97" width="3.7" height="3.7" fill="#000000"/>
<rect x="457.74" y="111.89" width="3.7" height="3.7" fill="#000000"/>
<rect x="461.42" y="110.34" width="3.7" height="3.7" fill="#000000"/>
<rect x="465.11" y="109.16" width="3.7" height="3.7" fill="#000000"/>
<rect x="468.79" y="108.25" width="3.7" height="3.7" fill="#000000"/>
<rect x="472.48" y="107.51" width="3.7" height="3.7" fill="#000000"/>
<rect x="476.16" y="106.9" width="3.7" height="3.7" fill="#000000"/>
<rect x="479.85" y="106.22" width="3.7" height="3.7" fill="#000000"/>
<rect x="483.54" y="105.49" width="3.7" height="3.7" fill="#000000"/>
<rect x="487.22" y="104.74" width="3.7" height="3.7" fill="#000000"/>
<rect x="490.91" y="104.01" width="3.7" height="3.7" fill="#000000"/>
<rect x="494.59" y="103.27" width="3.7" height="3.7" fill="#000000"/>
<rect x="498.28" y="102.42" width="3.7" height="3.7" fill="#000000"/>
<rect x="501.96" y="101.4" width="3.7" height="3.7" fill="#000000"/>
<rect x="505.65" y="100.24" width="3.7" height="3.7" fill="#000000"/>
<rect x="509.34" y="98.89" width="3.7" height="3.7" fill="#000000"/>
<rect x="513.02" y="97.36" width="3.7" height="3.7" fill="#000000"/>
<rect x="516.71" y="95.67" width="3.7" height="3.7" fill="#000000"/>
<rect x="520.39" y="93.55" width="3.7" height="3.7" fill="#000000"/>
<rect x="524.08" y="90.98" width="3.7" height="3.7" fill="#000000"/>
<rect x="527.76" y="88.79" width="3.7" height="3.7" fill="#000000"/>
<rect x="531.45" y="86.71" width="3.7" height="3.7" fill="#000000"/>
<rect x="535.14" y="84.68" width="3.7" height="3.7" fill="#000000"/>
<rect x="538.82" y="82.91" width="3.7" height="3.7" fill="#000000"/>
<rect x="542.51" y="81.73" width="3.7" height="3.7" fill="#000000"/>
<rect x="546.19" y="80.92" width="3.7" height="3.7" fill="#000000"/>
<rect x="549.88" y="80.28" width="3.7" height="3.7" fill="#000000"/>
<rect x="553.56" y="79.69" width="3.7" height="3.7" fill="#000000"/>
<rect x="557.25" y="79.25" width="3.7" height="3.7" fill="#000000"/>
<rect x="560.94" y="78.86" width="3.7" height="3.7" fill="#000000"/>
<rect x="564.62" y="78.37" width="3.7" height="3.7" fill="#000000"/>
<rect x="568.31" y="77.8" width="3.7" height="3.7" fill="#000000"/>
<rect x="571.99" y="77.22" width="3.7" height="3.7" fill="#000000"/>
<rect x="575.68" y="76.62" width="3.7" height="3.7" fill="#000000"/>
<rect x="579.36" y="85.97" width="3.7" height="3.7" fill="#000000"/>
<rect x="583.05" y="85.45" width="3.7" height="3.7" fill="#000000"/>
<rect x="586.74" y="84.89" width="3.7" height="3.7" fill="#000000"/>
<rect x="590.42" y="84.24" width="3.7" height="3.7" fill="#000000"/>
<rect x="594.11" y="83.52" width="3.7" height="3.7" fill="#000000"/>
<rect x="597.79" y="82.73" width="3.7" height="3.7" fill="#000000"/>
<rect x="601.48" y="81.82" width="3.7" height="3.7" fill="#000000"/>
<rect x="605.16" y="80.82" width="3.7" height="3.7" fill="#000000"/>
<rect x="608.65" y="75.15" width="3.7" height="3.7" fill="#000000"/>
<rect x="612.15" y="65.15" width="3.7" height="3.7" fill="#000000"/>
<rect x="616.22" y="73.82" width="3.7" height="3.7" fill="#000000"/>
<rect x="619.91" y="72.52" width="3.7" height="3.7" fill="#000000"/>
<rect x="623.59" y="71.21" width="3.7" height="3.7" fill="#000000"/>
<rect x="627.28" y="69.87" width="3.7" height="3.7" fill="#000000"/>
<rect x="630.96" y="68.51" width="3.7" height="3.7" fill="#000000"/>
<rect x="634.65" y="67.15" width="3.7" height="3.7" fill="#000000"/>
<path d="M378.5 43 L379.4 43.08 L380.6 43.2 L382.04 43.35 L383.62 43.5 L385.29 43.65 L386.96 43.8 L388.56 43.92 L390 44 L391.32 44.06 L392.61 44.12 L393.86 44.16 L395.09 44.19 L396.32 44.19 L397.54 44.16 L398.76 44.1 L400 44 L401.25 43.85 L402.5 43.65 L403.75 43.42 L405 43.16 L406.25 42.87 L407.5 42.58 L408.75 42.29 L410 42 L411.25 41.7 L412.5 41.37 L413.75 41.02 L415 40.67 L416.25 40.33 L417.5 40.01 L418.75 39.73 L420 39.5 L421.25 39.31 L422.5 39.13 L423.75 38.98 L425 38.86 L426.25 38.77 L427.5 38.73 L428.75 38.74 L430 38.8 L431.22 38.89 L432.38 38.99 L433.53 39.11 L434.69 39.29 L435.88 39.55 L437.15 39.9 L438.51 40.38 L440 41 L441.64 41.8 L443.4 42.76 L445.26 43.85 L447.19 45.04 L449.16 46.29 L451.13 47.56 L453.09 48.8 L455 50 L456.88 51.16 L458.75 52.32 L460.62 53.48 L462.5 54.66 L464.38 55.84 L466.25 57.04 L468.12 58.26 L470 59.5 L471.88 60.76 L473.75 62.05 L475.62 63.36 L477.5 64.69 L479.38 66.02 L481.25 67.35 L483.12 68.68 L485 70 L486.88 71.32 L488.75 72.64 L490.62 73.97 L492.5 75.3 L494.38 76.62 L496.25 77.93 L498.12 79.23 L500 80.5 L501.88 81.74 L503.75 82.94 L505.62 84.12 L507.5 85.29 L509.38 86.47 L511.25 87.67 L513.12 88.91 L515 90.2 L516.84 91.51 L518.63 92.81 L520.41 94.11 L522.19 95.46 L524.01 96.86 L525.9 98.35 L527.89 99.96 L530 101.7 L532.26 103.62 L534.65 105.7 L537.13 107.9 L539.69 110.19 L542.28 112.51 L544.88 114.83 L547.47 117.11 L550 119.3 L552.5 121.42 L555 123.5 L557.5 125.57 L560 127.62 L562.5 129.66 L565 131.7 L567.5 133.75 L570 135.8 L572.57 137.92 L575.23 140.11 L577.94 142.34 L580.62 144.55 L583.23 146.7 L585.7 148.74 L587.98 150.62 L590 152.3 L591.69 153.72 L593.09 154.89 L594.26 155.9 L595.31 156.8 L596.32 157.67 L597.38 158.58 L598.58 159.6 L600 160.8 L601.64 162.16 L603.4 163.61 L605.26 165.13 L607.19 166.71 L609.16 168.33 L611.13 169.98 L613.09 171.64 L615 173.3 L616.93 175.03 L618.95 176.88 L621 178.79 L623.03 180.71 L625 182.57 L626.85 184.33 L628.53 185.92 L630 187.3 L631.26 188.47 L632.38 189.5 L633.35 190.4 L634.19 191.18 L634.91 191.84 L635.53 192.41 L636.06 192.89 L636.5 193.3" fill="none" stroke="#ff0000" stroke-width="0.7" stroke-opacity="1"/>
<circle cx="378.5" cy="43" r="2.15" fill="#ff0000"/>
<circle cx="382.19" cy="43.36" r="2.15" fill="#ff0000"/>
<circle cx="385.87" cy="43.7" r="2.15" fill="#ff0000"/>
<circle cx="389.56" cy="43.98" r="2.15" fill="#ff0000"/>
<circle cx="393.24" cy="44.14" r="2.15" fill="#ff0000"/>
<circle cx="396.93" cy="44.18" r="2.15" fill="#ff0000"/>
<circle cx="400.61" cy="43.93" r="2.15" fill="#ff0000"/>
<circle cx="404.3" cy="43.3" r="2.15" fill="#ff0000"/>
<circle cx="407.99" cy="42.47" r="2.15" fill="#ff0000"/>
<circle cx="411.67" cy="41.59" r="2.15" fill="#ff0000"/>
<circle cx="415.36" cy="40.57" r="2.15" fill="#ff0000"/>
<circle cx="419.04" cy="39.67" r="2.15" fill="#ff0000"/>
<circle cx="422.73" cy="39.1" r="2.15" fill="#ff0000"/>
<circle cx="426.41" cy="38.77" r="2.15" fill="#ff0000"/>
<circle cx="430.1" cy="38.81" r="2.15" fill="#ff0000"/>
<circle cx="433.79" cy="39.15" r="2.15" fill="#ff0000"/>
<circle cx="437.47" cy="40.01" r="2.15" fill="#ff0000"/>
<circle cx="441.16" cy="41.56" r="2.15" fill="#ff0000"/>
<circle cx="444.84" cy="43.61" r="2.15" fill="#ff0000"/>
<circle cx="448.53" cy="45.89" r="2.15" fill="#ff0000"/>
<circle cx="452.21" cy="48.25" r="2.15" fill="#ff0000"/>
<circle cx="455.9" cy="50.56" r="2.15" fill="#ff0000"/>
<circle cx="459.59" cy="52.84" r="2.15" fill="#ff0000"/>
<circle cx="463.27" cy="55.14" r="2.15" fill="#ff0000"/>
<circle cx="466.96" cy="57.5" r="2.15" fill="#ff0000"/>
<circle cx="470.64" cy="59.93" r="2.15" fill="#ff0000"/>
<circle cx="474.33" cy="62.46" r="2.15" fill="#ff0000"/>
<circle cx="478.01" cy="65.05" r="2.15" fill="#ff0000"/>
<circle cx="481.7" cy="67.67" r="2.15" fill="#ff0000"/>
<circle cx="485.39" cy="70.27" r="2.15" fill="#ff0000"/>
<circle cx="489.07" cy="72.87" r="2.15" fill="#ff0000"/>
<circle cx="492.76" cy="75.48" r="2.15" fill="#ff0000"/>
<circle cx="496.44" cy="78.06" r="2.15" fill="#ff0000"/>
<circle cx="500.13" cy="80.59" r="2.15" fill="#ff0000"/>
<circle cx="503.81" cy="82.98" r="2.15" fill="#ff0000"/>
<circle cx="507.5" cy="85.29" r="2.15" fill="#ff0000"/>
<circle cx="511.19" cy="87.63" r="2.15" fill="#ff0000"/>
<circle cx="514.87" cy="90.11" r="2.15" fill="#ff0000"/>
<circle cx="518.56" cy="92.75" r="2.15" fill="#ff0000"/>
<circle cx="522.24" cy="95.5" r="2.15" fill="#ff0000"/>
<circle cx="525.93" cy="98.38" r="2.15" fill="#ff0000"/>
<circle cx="529.61" cy="101.38" r="2.15" fill="#ff0000"/>
<circle cx="533.3" cy="104.52" r="2.15" fill="#ff0000"/>
<circle cx="536.99" cy="107.77" r="2.15" fill="#ff0000"/>
<circle cx="540.67" cy="111.07" r="2.15" fill="#ff0000"/>
<circle cx="544.36" cy="114.37" r="2.15" fill="#ff0000"/>
<circle cx="548.04" cy="117.61" r="2.15" fill="#ff0000"/>
<circle cx="551.73" cy="120.76" r="2.15" fill="#ff0000"/>
<circle cx="555.41" cy="123.84" r="2.15" fill="#ff0000"/>
<circle cx="559.1" cy="126.88" r="2.15" fill="#ff0000"/>
<circle cx="562.79" cy="129.89" r="2.15" fill="#ff0000"/>
<circle cx="566.47" cy="132.9" r="2.15" fill="#ff0000"/>
<circle cx="570.16" cy="135.93" r="2.15" fill="#ff0000"/>
<circle cx="573.84" cy="138.97" r="2.15" fill="#ff0000"/>
<circle cx="577.53" cy="142" r="2.15" fill="#ff0000"/>
<circle cx="581.21" cy="145.04" r="2.15" fill="#ff0000"/>
<circle cx="584.9" cy="148.07" r="2.15" fill="#ff0000"/>
<circle cx="588.59" cy="151.12" r="2.15" fill="#ff0000"/>
<circle cx="592.27" cy="154.2" r="2.15" fill="#ff0000"/>
<circle cx="595.96" cy="157.36" r="2.15" fill="#ff0000"/>
<circle cx="599.64" cy="160.5" r="2.15" fill="#ff0000"/>
<circle cx="603.33" cy="163.55" r="2.15" fill="#ff0000"/>
<circle cx="607.01" cy="166.56" r="2.15" fill="#ff0000"/>
<circle cx="610.7" cy="169.61" r="2.15" fill="#ff0000"/>
<circle cx="614.39" cy="172.76" r="2.15" fill="#ff0000"/>
<circle cx="618.07" cy="176.07" r="2.15" fill="#ff0000"/>
<circle cx="621.76" cy="179.51" r="2.15" fill="#ff0000"/>
<circle cx="625.44" cy="182.99" r="2.15" fill="#ff0000"/>
<circle cx="629.13" cy="186.48" r="2.15" fill="#ff0000"/>
<circle cx="632.81" cy="189.91" r="2.15" fill="#ff0000"/>
<circle cx="636.5" cy="193.3" r="2.15" fill="#ff0000"/>
<path d="M378.5 208.5 L379 208.54 L379.66 208.58 L380.44 208.63 L381.31 208.69 L382.24 208.75 L383.19 208.83 L384.12 208.91 L385 209 L385.86 209.1 L386.74 209.2 L387.63 209.31 L388.53 209.43 L389.43 209.56 L390.31 209.7 L391.17 209.84 L392 210 L392.79 210.17 L393.55 210.36 L394.28 210.56 L395 210.76 L395.72 210.97 L396.45 211.19 L397.21 211.4 L398 211.6 L398.83 211.82 L399.68 212.05 L400.55 212.3 L401.44 212.54 L402.33 212.76 L403.23 212.95 L404.12 213.11 L405 213.2 L405.88 213.26 L406.75 213.31 L407.63 213.33 L408.51 213.31 L409.39 213.24 L410.26 213.1 L411.13 212.9 L412 212.6 L412.88 212.21 L413.78 211.75 L414.69 211.21 L415.59 210.61 L416.46 209.95 L417.3 209.24 L418.09 208.49 L418.8 207.7 L419.44 206.85 L420.01 205.92 L420.53 204.93 L421.01 203.9 L421.47 202.85 L421.91 201.8 L422.35 200.78 L422.8 199.8 L423.25 198.87 L423.68 197.98 L424.1 197.12 L424.51 196.25 L424.92 195.37 L425.34 194.47 L425.76 193.51 L426.2 192.5 L426.66 191.42 L427.12 190.28 L427.6 189.1 L428.07 187.89 L428.56 186.66 L429.04 185.43 L429.52 184.2 L430 183 L430.48 181.8 L430.96 180.58 L431.45 179.35 L431.94 178.12 L432.42 176.91 L432.89 175.73 L433.35 174.59 L433.8 173.5 L434.22 172.48 L434.62 171.52 L435 170.6 L435.38 169.71 L435.76 168.83 L436.15 167.95 L436.56 167.04 L437 166.1 L437.47 165.12 L437.98 164.13 L438.51 163.13 L439.04 162.12 L439.58 161.1 L440.11 160.07 L440.62 159.04 L441.1 158 L441.54 156.96 L441.96 155.92 L442.36 154.87 L442.74 153.81 L443.13 152.75 L443.53 151.68 L443.95 150.59 L444.4 149.5 L444.89 148.38 L445.41 147.23 L445.96 146.06 L446.51 144.88 L447.07 143.71 L447.61 142.57 L448.12 141.46 L448.6 140.4 L449.04 139.39 L449.44 138.42 L449.82 137.47 L450.18 136.56 L450.54 135.66 L450.91 134.77 L451.29 133.88 L451.7 133 L452.13 132.12 L452.57 131.26 L453.03 130.41 L453.49 129.57 L453.96 128.74 L454.43 127.9 L454.91 127.06 L455.4 126.2 L455.9 125.32 L456.42 124.42 L456.94 123.5 L457.47 122.59 L458 121.69 L458.52 120.81 L459.02 119.98 L459.5 119.2 L459.95 118.48 L460.36 117.8 L460.76 117.17 L461.15 116.56 L461.54 115.97 L461.94 115.39 L462.35 114.8 L462.8 114.2 L463.28 113.58 L463.79 112.94 L464.31 112.3 L464.85 111.66 L465.39 111.04 L465.91 110.45 L466.42 109.9 L466.9 109.4 L467.33 108.96 L467.71 108.58 L468.06 108.25 L468.41 107.94 L468.78 107.64 L469.18 107.32 L469.65 106.98 L470.2 106.6 L470.84 106.16 L471.56 105.69 L472.33 105.19 L473.15 104.67 L473.99 104.17 L474.84 103.67 L475.68 103.21 L476.5 102.8 L477.3 102.43 L478.11 102.09 L478.92 101.77 L479.74 101.47 L480.55 101.19 L481.37 100.92 L482.19 100.66 L483 100.4 L483.81 100.14 L484.6 99.9 L485.39 99.67 L486.19 99.45 L486.99 99.23 L487.8 99.02 L488.64 98.81 L489.5 98.6 L490.39 98.4 L491.29 98.21 L492.22 98.03 L493.16 97.85 L494.11 97.66 L495.07 97.47 L496.03 97.25 L497 97 L498 96.74 L499.04 96.47 L500.1 96.19 L501.16 95.89 L502.2 95.57 L503.2 95.21 L504.14 94.83 L505 94.4 L505.78 93.92 L506.48 93.38 L507.14 92.8 L507.75 92.2 L508.33 91.58 L508.89 90.97 L509.44 90.37 L510 89.8 L510.54 89.25 L511.06 88.72 L511.55 88.19 L512.03 87.66 L512.51 87.14 L512.99 86.63 L513.48 86.11 L514 85.6 L514.55 85.08 L515.11 84.55 L515.69 84.02 L516.28 83.49 L516.86 82.97 L517.43 82.48 L517.98 82.02 L518.5 81.6 L518.98 81.23 L519.41 80.9 L519.82 80.6 L520.22 80.33 L520.62 80.06 L521.04 79.79 L521.5 79.51 L522 79.2 L522.55 78.87 L523.13 78.53 L523.73 78.18 L524.36 77.83 L525.01 77.47 L525.67 77.11 L526.33 76.75 L527 76.4 L527.68 76.05 L528.38 75.69 L529.09 75.32 L529.81 74.96 L530.53 74.61 L531.26 74.26 L531.98 73.92 L532.7 73.6 L533.41 73.29 L534.12 72.99 L534.83 72.7 L535.54 72.41 L536.26 72.14 L536.97 71.88 L537.68 71.63 L538.4 71.4 L539.12 71.18 L539.84 70.98 L540.57 70.79 L541.29 70.61 L542.02 70.45 L542.75 70.29 L543.47 70.14 L544.2 70 L544.9 69.87 L545.55 69.76 L546.19 69.66 L546.84 69.58 L547.52 69.49 L548.25 69.4 L549.07 69.31 L550 69.2 L551.05 69.09 L552.2 68.97 L553.44 68.85 L554.74 68.72 L556.07 68.6 L557.4 68.47 L558.72 68.34 L560 68.2 L561.26 68.06 L562.55 67.91 L563.84 67.76 L565.12 67.61 L566.4 67.46 L567.64 67.3 L568.85 67.15 L570 67 L571.15 66.84 L572.33 66.67 L573.5 66.5 L574.62 66.33 L575.67 66.16 L576.61 66.02 L577.4 65.89 L578 65.8" fill="none" stroke="#ff0000" stroke-width="0.7" stroke-opacity="1"/>
<path d="M580 71.5 L580.77 71.05 L581.8 70.44 L583.02 69.71 L584.38 68.91 L585.81 68.06 L587.27 67.22 L588.68 66.42 L590 65.7 L591.28 65.05 L592.59 64.43 L593.92 63.83 L595.24 63.24 L596.53 62.65 L597.77 62.05 L598.93 61.44 L600 60.8 L600.96 60.11 L601.84 59.38 L602.64 58.63 L603.39 57.87 L604.11 57.13 L604.8 56.42 L605.49 55.77 L606.2 55.2 L606.92 54.71 L607.64 54.28 L608.36 53.9 L609.06 53.56 L609.73 53.25 L610.36 52.96 L610.96 52.68 L611.5 52.4 L612 52.11 L612.46 51.84 L612.89 51.57 L613.28 51.32 L613.63 51.1 L613.94 50.9 L614.19 50.73 L614.4 50.6" fill="none" stroke="#ff0000" stroke-width="0.7" stroke-opacity="1"/>
<path d="M616.8 60.8 L617.41 60.59 L618.23 60.32 L619.21 59.99 L620.29 59.63 L621.43 59.24 L622.58 58.83 L623.68 58.41 L624.7 58 L625.67 57.57 L626.66 57.1 L627.64 56.6 L628.62 56.09 L629.57 55.6 L630.47 55.12 L631.32 54.68 L632.1 54.3 L632.82 53.96 L633.51 53.65 L634.16 53.37 L634.76 53.12 L635.3 52.89 L635.78 52.7 L636.18 52.53 L636.5 52.4" fill="none" stroke="#ff0000" stroke-width="0.7" stroke-opacity="1"/>
<path d="M578 65.8 L580 71.5" fill="none" stroke="#ff0000" stroke-width="0.6" stroke-opacity="0.8"/>
<path d="M614.4 50.6 L616.8 60.8" fill="none" stroke="#ff0000" stroke-width="0.6" stroke-opacity="0.8"/>
<circle cx="378.5" cy="208.5" r="2.15" fill="#ff0000"/>
<circle cx="382.19" cy="208.75" r="2.15" fill="#ff0000"/>
<circle cx="385.87" cy="209.1" r="2.15" fill="#ff0000"/>
<circle cx="389.56" cy="209.58" r="2.15" fill="#ff0000"/>
<circle cx="393.24" cy="210.28" r="2.15" fill="#ff0000"/>
<circle cx="396.93" cy="211.32" r="2.15" fill="#ff0000"/>
<circle cx="400.61" cy="212.31" r="2.15" fill="#ff0000"/>
<circle cx="404.3" cy="213.13" r="2.15" fill="#ff0000"/>
<circle cx="407.99" cy="213.32" r="2.15" fill="#ff0000"/>
<circle cx="411.67" cy="212.72" r="2.15" fill="#ff0000"/>
<circle cx="415.36" cy="210.76" r="2.15" fill="#ff0000"/>
<circle cx="419.04" cy="207.38" r="2.15" fill="#ff0000"/>
<circle cx="422.73" cy="199.95" r="2.15" fill="#ff0000"/>
<circle cx="426.41" cy="191.99" r="2.15" fill="#ff0000"/>
<circle cx="430.1" cy="182.75" r="2.15" fill="#ff0000"/>
<circle cx="433.79" cy="173.53" r="2.15" fill="#ff0000"/>
<circle cx="437.47" cy="165.13" r="2.15" fill="#ff0000"/>
<circle cx="441.16" cy="157.87" r="2.15" fill="#ff0000"/>
<circle cx="444.84" cy="148.49" r="2.15" fill="#ff0000"/>
<circle cx="448.53" cy="140.56" r="2.15" fill="#ff0000"/>
<circle cx="452.21" cy="131.96" r="2.15" fill="#ff0000"/>
<circle cx="455.9" cy="125.32" r="2.15" fill="#ff0000"/>
<circle cx="459.59" cy="119.06" r="2.15" fill="#ff0000"/>
<circle cx="463.27" cy="113.59" r="2.15" fill="#ff0000"/>
<circle cx="466.96" cy="109.34" r="2.15" fill="#ff0000"/>
<circle cx="470.64" cy="106.3" r="2.15" fill="#ff0000"/>
<circle cx="474.33" cy="103.97" r="2.15" fill="#ff0000"/>
<circle cx="478.01" cy="102.13" r="2.15" fill="#ff0000"/>
<circle cx="481.7" cy="100.82" r="2.15" fill="#ff0000"/>
<circle cx="485.39" cy="99.68" r="2.15" fill="#ff0000"/>
<circle cx="489.07" cy="98.71" r="2.15" fill="#ff0000"/>
<circle cx="492.76" cy="97.93" r="2.15" fill="#ff0000"/>
<circle cx="496.44" cy="97.14" r="2.15" fill="#ff0000"/>
<circle cx="500.13" cy="96.18" r="2.15" fill="#ff0000"/>
<circle cx="503.81" cy="94.96" r="2.15" fill="#ff0000"/>
<circle cx="507.5" cy="92.45" r="2.15" fill="#ff0000"/>
<circle cx="511.19" cy="88.58" r="2.15" fill="#ff0000"/>
<circle cx="514.87" cy="84.77" r="2.15" fill="#ff0000"/>
<circle cx="518.56" cy="81.55" r="2.15" fill="#ff0000"/>
<circle cx="522.24" cy="79.05" r="2.15" fill="#ff0000"/>
<circle cx="525.93" cy="76.97" r="2.15" fill="#ff0000"/>
<circle cx="529.61" cy="75.06" r="2.15" fill="#ff0000"/>
<circle cx="533.3" cy="73.34" r="2.15" fill="#ff0000"/>
<circle cx="536.99" cy="71.87" r="2.15" fill="#ff0000"/>
<circle cx="540.67" cy="70.76" r="2.15" fill="#ff0000"/>
<circle cx="544.36" cy="69.97" r="2.15" fill="#ff0000"/>
<circle cx="548.04" cy="69.43" r="2.15" fill="#ff0000"/>
<circle cx="551.73" cy="69.02" r="2.15" fill="#ff0000"/>
<circle cx="555.41" cy="68.66" r="2.15" fill="#ff0000"/>
<circle cx="559.1" cy="68.3" r="2.15" fill="#ff0000"/>
<circle cx="562.79" cy="67.89" r="2.15" fill="#ff0000"/>
<circle cx="566.47" cy="67.45" r="2.15" fill="#ff0000"/>
<circle cx="570.16" cy="66.98" r="2.15" fill="#ff0000"/>
<circle cx="573.84" cy="66.44" r="2.15" fill="#ff0000"/>
<circle cx="577.53" cy="65.87" r="2.15" fill="#ff0000"/>
<circle cx="581.21" cy="70.78" r="2.15" fill="#ff0000"/>
<circle cx="584.9" cy="68.6" r="2.15" fill="#ff0000"/>
<circle cx="588.59" cy="66.48" r="2.15" fill="#ff0000"/>
<circle cx="592.27" cy="64.58" r="2.15" fill="#ff0000"/>
<circle cx="595.96" cy="62.91" r="2.15" fill="#ff0000"/>
<circle cx="599.64" cy="61.02" r="2.15" fill="#ff0000"/>
<circle cx="603.33" cy="57.94" r="2.15" fill="#ff0000"/>
<circle cx="607.01" cy="54.66" r="2.15" fill="#ff0000"/>
<circle cx="610.7" cy="52.81" r="2.15" fill="#ff0000"/>
<circle cx="614.39" cy="50.61" r="2.15" fill="#ff0000"/>
<circle cx="618.07" cy="60.37" r="2.15" fill="#ff0000"/>
<circle cx="621.76" cy="59.12" r="2.15" fill="#ff0000"/>
<circle cx="625.44" cy="57.67" r="2.15" fill="#ff0000"/>
<circle cx="629.13" cy="55.83" r="2.15" fill="#ff0000"/>
<circle cx="632.81" cy="53.97" r="2.15" fill="#ff0000"/>
<circle cx="636.5" cy="52.4" r="2.15" fill="#ff0000"/>
<path d="M378.5 33.8 L379.78 33.81 L381.5 33.83 L383.54 33.84 L385.81 33.86 L388.2 33.89 L390.59 33.92 L392.9 33.95 L395 34 L396.95 34.06 L398.86 34.12 L400.73 34.2 L402.59 34.28 L404.44 34.36 L406.29 34.44 L408.14 34.52 L410 34.6 L411.88 34.67 L413.75 34.72 L415.62 34.77 L417.5 34.83 L419.38 34.89 L421.25 34.97 L423.12 35.07 L425 35.2 L426.88 35.32 L428.75 35.4 L430.62 35.47 L432.5 35.58 L434.38 35.74 L436.25 36.02 L438.12 36.42 L440 37 L441.88 37.78 L443.75 38.73 L445.62 39.83 L447.5 41.02 L449.38 42.27 L451.25 43.55 L453.12 44.8 L455 46 L456.88 47.16 L458.75 48.32 L460.62 49.48 L462.5 50.66 L464.38 51.84 L466.25 53.04 L468.12 54.26 L470 55.5 L471.88 56.76 L473.75 58.04 L475.62 59.34 L477.5 60.66 L479.38 61.98 L481.25 63.32 L483.12 64.66 L485 66 L486.88 67.35 L488.75 68.71 L490.62 70.08 L492.5 71.46 L494.38 72.84 L496.25 74.22 L498.12 75.61 L500 77 L501.88 78.39 L503.75 79.77 L505.62 81.16 L507.5 82.55 L509.38 83.95 L511.25 85.35 L513.12 86.77 L515 88.2 L516.84 89.62 L518.63 91.01 L520.41 92.4 L522.19 93.8 L524.01 95.24 L525.9 96.74 L527.89 98.32 L530 100 L532.26 101.8 L534.65 103.69 L537.13 105.67 L539.69 107.71 L542.28 109.78 L544.88 111.87 L547.47 113.95 L550 116 L552.5 118.04 L555 120.09 L557.5 122.15 L560 124.22 L562.5 126.29 L565 128.36 L567.5 130.43 L570 132.5 L572.57 134.62 L575.23 136.81 L577.94 139.04 L580.62 141.25 L583.23 143.4 L585.7 145.44 L587.98 147.32 L590 149 L591.69 150.42 L593.09 151.59 L594.26 152.6 L595.31 153.5 L596.32 154.37 L597.38 155.28 L598.58 156.3 L600 157.5 L601.64 158.86 L603.4 160.31 L605.26 161.83 L607.19 163.41 L609.16 165.03 L611.13 166.68 L613.09 168.34 L615 170 L616.93 171.73 L618.95 173.58 L621 175.49 L623.03 177.41 L625 179.27 L626.85 181.03 L628.53 182.62 L630 184 L631.26 185.17 L632.38 186.2 L633.35 187.1 L634.19 187.88 L634.91 188.54 L635.53 189.11 L636.06 189.59 L636.5 190" fill="none" stroke="#0000ff" stroke-width="0.7" stroke-opacity="1"/>
<path d="M378.5 31.54L380.75 35.64L376.25 35.64Z" fill="#0000ff"/>
<path d="M382.19 31.58L384.44 35.68L379.93 35.68Z" fill="#0000ff"/>
<path d="M385.87 31.61L388.13 35.71L383.62 35.71Z" fill="#0000ff"/>
<path d="M389.56 31.65L391.81 35.75L387.3 35.75Z" fill="#0000ff"/>
<path d="M393.24 31.71L395.5 35.81L390.99 35.81Z" fill="#0000ff"/>
<path d="M396.93 31.8L399.18 35.9L394.67 35.9Z" fill="#0000ff"/>
<path d="M400.61 31.94L402.87 36.04L398.36 36.04Z" fill="#0000ff"/>
<path d="M404.3 32.1L406.56 36.2L402.05 36.2Z" fill="#0000ff"/>
<path d="M407.99 32.26L410.24 36.36L405.73 36.36Z" fill="#0000ff"/>
<path d="M411.67 32.4L413.93 36.5L409.42 36.5Z" fill="#0000ff"/>
<path d="M415.36 32.51L417.61 36.61L413.1 36.61Z" fill="#0000ff"/>
<path d="M419.04 32.62L421.3 36.72L416.79 36.72Z" fill="#0000ff"/>
<path d="M422.73 32.79L424.98 36.89L420.47 36.89Z" fill="#0000ff"/>
<path d="M426.41 33.04L428.67 37.14L424.16 37.14Z" fill="#0000ff"/>
<path d="M430.1 33.2L432.36 37.3L427.85 37.3Z" fill="#0000ff"/>
<path d="M433.79 33.43L436.04 37.53L431.53 37.53Z" fill="#0000ff"/>
<path d="M437.47 34.02L439.73 38.12L435.22 38.12Z" fill="#0000ff"/>
<path d="M441.16 35.21L443.41 39.31L438.9 39.31Z" fill="#0000ff"/>
<path d="M444.84 37.11L447.1 41.21L442.59 41.21Z" fill="#0000ff"/>
<path d="M448.53 39.45L450.78 43.55L446.27 43.55Z" fill="#0000ff"/>
<path d="M452.21 41.94L454.47 46.04L449.96 46.04Z" fill="#0000ff"/>
<path d="M455.9 44.3L458.15 48.4L453.64 48.4Z" fill="#0000ff"/>
<path d="M459.59 46.58L461.84 50.68L457.33 50.68Z" fill="#0000ff"/>
<path d="M463.27 48.89L465.53 52.99L461.02 52.99Z" fill="#0000ff"/>
<path d="M466.96 51.25L469.21 55.35L464.7 55.35Z" fill="#0000ff"/>
<path d="M470.64 53.68L472.9 57.78L468.39 57.78Z" fill="#0000ff"/>
<path d="M474.33 56.19L476.58 60.29L472.07 60.29Z" fill="#0000ff"/>
<path d="M478.01 58.76L480.27 62.86L475.76 62.86Z" fill="#0000ff"/>
<path d="M481.7 61.38L483.95 65.48L479.44 65.48Z" fill="#0000ff"/>
<path d="M485.39 64.02L487.64 68.12L483.13 68.12Z" fill="#0000ff"/>
<path d="M489.07 66.69L491.33 70.79L486.82 70.79Z" fill="#0000ff"/>
<path d="M492.76 69.39L495.01 73.49L490.5 73.49Z" fill="#0000ff"/>
<path d="M496.44 72.11L498.7 76.21L494.19 76.21Z" fill="#0000ff"/>
<path d="M500.13 74.84L502.38 78.94L497.87 78.94Z" fill="#0000ff"/>
<path d="M503.81 77.56L506.07 81.66L501.56 81.66Z" fill="#0000ff"/>
<path d="M507.5 80.3L509.75 84.4L505.25 84.4Z" fill="#0000ff"/>
<path d="M511.19 83.05L513.44 87.15L508.93 87.15Z" fill="#0000ff"/>
<path d="M514.87 85.85L517.13 89.95L512.62 89.95Z" fill="#0000ff"/>
<path d="M518.56 88.7L520.81 92.8L516.3 92.8Z" fill="#0000ff"/>
<path d="M522.24 91.59L524.5 95.69L519.99 95.69Z" fill="#0000ff"/>
<path d="M525.93 94.51L528.18 98.61L523.67 98.61Z" fill="#0000ff"/>
<path d="M529.61 97.44L531.87 101.54L527.36 101.54Z" fill="#0000ff"/>
<path d="M533.3 100.37L535.55 104.47L531.04 104.47Z" fill="#0000ff"/>
<path d="M536.99 103.3L539.24 107.4L534.73 107.4Z" fill="#0000ff"/>
<path d="M540.67 106.24L542.93 110.34L538.42 110.34Z" fill="#0000ff"/>
<path d="M544.36 109.19L546.61 113.29L542.1 113.29Z" fill="#0000ff"/>
<path d="M548.04 112.16L550.3 116.26L545.79 116.26Z" fill="#0000ff"/>
<path d="M551.73 115.15L553.98 119.25L549.47 119.25Z" fill="#0000ff"/>
<path d="M555.41 118.18L557.67 122.28L553.16 122.28Z" fill="#0000ff"/>
<path d="M559.1 121.22L561.36 125.32L556.85 125.32Z" fill="#0000ff"/>
<path d="M562.79 124.27L565.04 128.37L560.53 128.37Z" fill="#0000ff"/>
<path d="M566.47 127.33L568.73 131.43L564.22 131.43Z" fill="#0000ff"/>
<path d="M570.16 130.37L572.41 134.47L567.9 134.47Z" fill="#0000ff"/>
<path d="M573.84 133.41L576.1 137.51L571.59 137.51Z" fill="#0000ff"/>
<path d="M577.53 136.45L579.78 140.55L575.27 140.55Z" fill="#0000ff"/>
<path d="M581.21 139.48L583.47 143.58L578.96 143.58Z" fill="#0000ff"/>
<path d="M584.9 142.52L587.15 146.62L582.64 146.62Z" fill="#0000ff"/>
<path d="M588.59 145.57L590.84 149.67L586.33 149.67Z" fill="#0000ff"/>
<path d="M592.27 148.65L594.53 152.75L590.02 152.75Z" fill="#0000ff"/>
<path d="M595.96 151.8L598.21 155.9L593.7 155.9Z" fill="#0000ff"/>
<path d="M599.64 154.94L601.9 159.04L597.39 159.04Z" fill="#0000ff"/>
<path d="M603.33 158L605.58 162.1L601.07 162.1Z" fill="#0000ff"/>
<path d="M607.01 161.01L609.27 165.11L604.76 165.11Z" fill="#0000ff"/>
<path d="M610.7 164.06L612.96 168.16L608.45 168.16Z" fill="#0000ff"/>
<path d="M614.39 167.21L616.64 171.31L612.13 171.31Z" fill="#0000ff"/>
<path d="M618.07 170.52L620.33 174.62L615.82 174.62Z" fill="#0000ff"/>
<path d="M621.76 173.95L624.01 178.05L619.5 178.05Z" fill="#0000ff"/>
<path d="M625.44 177.44L627.7 181.54L623.19 181.54Z" fill="#0000ff"/>
<path d="M629.13 180.93L631.38 185.03L626.87 185.03Z" fill="#0000ff"/>
<path d="M632.81 184.35L635.07 188.45L630.56 188.45Z" fill="#0000ff"/>
<path d="M636.5 187.75L638.75 191.84L634.25 191.84Z" fill="#0000ff"/>
<path d="M409.5 212.5 L409.68 212.14 L409.92 211.66 L410.19 211.1 L410.51 210.47 L410.85 209.79 L411.22 209.09 L411.6 208.39 L412 207.7 L412.42 207.01 L412.89 206.29 L413.38 205.55 L413.89 204.79 L414.41 204.02 L414.93 203.27 L415.43 202.52 L415.9 201.8 L416.35 201.1 L416.79 200.41 L417.22 199.74 L417.64 199.07 L418.06 198.4 L418.48 197.74 L418.89 197.07 L419.3 196.4 L419.71 195.74 L420.1 195.09 L420.49 194.45 L420.88 193.8 L421.26 193.14 L421.66 192.46 L422.07 191.75 L422.5 191 L422.95 190.2 L423.43 189.35 L423.93 188.47 L424.43 187.57 L424.93 186.66 L425.41 185.75 L425.87 184.86 L426.3 184 L426.69 183.16 L427.06 182.34 L427.4 181.53 L427.73 180.72 L428.05 179.92 L428.36 179.11 L428.68 178.31 L429 177.5 L429.32 176.69 L429.64 175.89 L429.95 175.08 L430.26 174.28 L430.57 173.47 L430.88 172.66 L431.19 171.84 L431.5 171 L431.81 170.16 L432.11 169.31 L432.42 168.46 L432.72 167.59 L433.03 166.72 L433.34 165.83 L433.66 164.93 L434 164 L434.34 163.06 L434.69 162.1 L435.04 161.13 L435.41 160.14 L435.78 159.13 L436.17 158.11 L436.57 157.06 L437 156 L437.45 154.91 L437.93 153.78 L438.43 152.64 L438.94 151.47 L439.46 150.3 L439.98 149.13 L440.5 147.96 L441 146.8 L441.49 145.64 L441.99 144.48 L442.48 143.31 L442.97 142.15 L443.46 140.99 L443.94 139.84 L444.42 138.71 L444.9 137.6 L445.37 136.5 L445.84 135.42 L446.31 134.35 L446.77 133.29 L447.24 132.24 L447.69 131.21 L448.15 130.2 L448.6 129.2 L449.04 128.22 L449.48 127.26 L449.9 126.32 L450.33 125.39 L450.75 124.47 L451.19 123.57 L451.64 122.68 L452.1 121.8 L452.58 120.93 L453.08 120.06 L453.59 119.2 L454.11 118.35 L454.64 117.52 L455.16 116.72 L455.68 115.94 L456.2 115.2 L456.71 114.49 L457.22 113.8 L457.74 113.14 L458.25 112.5 L458.76 111.89 L459.27 111.3 L459.79 110.74 L460.3 110.2 L460.81 109.69 L461.31 109.22 L461.82 108.78 L462.32 108.36 L462.83 107.96 L463.34 107.57 L463.86 107.19 L464.4 106.8 L464.95 106.42 L465.51 106.04 L466.07 105.67 L466.64 105.31 L467.22 104.97 L467.81 104.63 L468.4 104.31 L469 104 L469.59 103.71 L470.15 103.45 L470.71 103.2 L471.29 102.96 L471.89 102.73 L472.53 102.5 L473.23 102.25 L474 102 L474.86 101.73 L475.79 101.46 L476.78 101.19 L477.81 100.91 L478.87 100.63 L479.93 100.35 L480.98 100.08 L482 99.8 L482.99 99.53 L483.95 99.28 L484.91 99.04 L485.88 98.79 L486.85 98.53 L487.86 98.25 L488.9 97.94 L490 97.6 L491.19 97.22 L492.48 96.8 L493.82 96.35 L495.19 95.88 L496.53 95.4 L497.8 94.93 L498.98 94.45 L500 94 L500.86 93.56 L501.6 93.14 L502.24 92.72 L502.81 92.31 L503.34 91.88 L503.87 91.44 L504.41 90.98 L505 90.5 L505.62 90.01 L506.22 89.53 L506.82 89.05 L507.43 88.54 L508.04 88 L508.67 87.41 L509.32 86.75 L510 86 L510.71 85.14 L511.46 84.18 L512.22 83.13 L513 82.04 L513.79 80.94 L514.59 79.84 L515.4 78.78 L516.2 77.8 L517.01 76.87 L517.82 75.95 L518.65 75.06 L519.48 74.19 L520.31 73.34 L521.15 72.53 L521.98 71.74 L522.8 71 L523.62 70.28 L524.45 69.58 L525.28 68.9 L526.11 68.25 L526.93 67.65 L527.73 67.1 L528.53 66.61 L529.3 66.2 L530.06 65.87 L530.8 65.62 L531.53 65.44 L532.24 65.31 L532.95 65.22 L533.64 65.15 L534.33 65.08 L535 65 L535.62 64.92 L536.18 64.85 L536.71 64.8 L537.23 64.76 L537.79 64.74 L538.41 64.74 L539.14 64.76 L540 64.8 L541.01 64.88 L542.15 65 L543.38 65.16 L544.69 65.33 L546.03 65.49 L547.38 65.63 L548.72 65.74 L550 65.8 L551.25 65.8 L552.5 65.77 L553.75 65.71 L555 65.63 L556.25 65.52 L557.5 65.42 L558.75 65.31 L560 65.2 L561.26 65.09 L562.55 64.95 L563.84 64.8 L565.12 64.64 L566.4 64.5 L567.64 64.37 L568.85 64.27 L570 64.2 L571.15 64.18 L572.33 64.19 L573.5 64.23 L574.62 64.29 L575.67 64.35 L576.61 64.42 L577.4 64.47 L578 64.5" fill="none" stroke="#0000ff" stroke-width="0.7" stroke-opacity="1"/>
<path d="M581 64.5 L581.69 64.25 L582.59 63.94 L583.67 63.58 L584.88 63.16 L586.16 62.69 L587.47 62.17 L588.77 61.6 L590 61 L591.22 60.33 L592.5 59.57 L593.81 58.76 L595.12 57.91 L596.43 57.03 L597.69 56.16 L598.89 55.31 L600 54.5 L601.04 53.71 L602.03 52.91 L602.98 52.1 L603.88 51.31 L604.73 50.54 L605.53 49.81 L606.29 49.13 L607 48.5 L607.65 47.94 L608.23 47.43 L608.76 46.96 L609.25 46.53 L609.71 46.13 L610.14 45.75 L610.57 45.37 L611 45 L611.44 44.62 L611.89 44.25 L612.33 43.88 L612.75 43.53 L613.14 43.21 L613.48 42.93 L613.78 42.69 L614 42.5" fill="none" stroke="#0000ff" stroke-width="0.7" stroke-opacity="1"/>
<path d="M616 51.2 L616.68 50.99 L617.59 50.72 L618.68 50.39 L619.89 50.03 L621.15 49.64 L622.41 49.23 L623.62 48.81 L624.7 48.4 L625.71 47.97 L626.71 47.5 L627.7 47.01 L628.67 46.51 L629.6 46.01 L630.49 45.53 L631.33 45.09 L632.1 44.7 L632.82 44.35 L633.51 44.01 L634.16 43.7 L634.76 43.42 L635.3 43.16 L635.78 42.94 L636.18 42.75 L636.5 42.6" fill="none" stroke="#0000ff" stroke-width="0.7" stroke-opacity="1"/>
<path d="M578 64.5 L581 64.5" fill="none" stroke="#0000ff" stroke-width="0.6" stroke-opacity="0.8"/>
<path d="M614 42.5 L616 51.2" fill="none" stroke="#0000ff" stroke-width="0.6" stroke-opacity="0.8"/>
<path d="M411.67 206.01L413.93 210.11L409.42 210.11Z" fill="#0000ff"/>
<path d="M415.36 200.37L417.61 204.47L413.1 204.47Z" fill="#0000ff"/>
<path d="M419.04 194.56L421.3 198.66L416.79 198.66Z" fill="#0000ff"/>
<path d="M422.73 188.34L424.98 192.44L420.47 192.44Z" fill="#0000ff"/>
<path d="M426.41 181.5L428.67 185.6L424.16 185.6Z" fill="#0000ff"/>
<path d="M430.1 172.45L432.36 176.55L427.85 176.55Z" fill="#0000ff"/>
<path d="M433.79 162.33L436.04 166.43L431.53 166.43Z" fill="#0000ff"/>
<path d="M437.47 152.61L439.73 156.71L435.22 156.71Z" fill="#0000ff"/>
<path d="M441.16 144.18L443.41 148.28L438.9 148.28Z" fill="#0000ff"/>
<path d="M444.84 135.48L447.1 139.58L442.59 139.58Z" fill="#0000ff"/>
<path d="M448.53 127.1L450.78 131.2L446.27 131.2Z" fill="#0000ff"/>
<path d="M452.21 119.34L454.47 123.44L449.96 123.44Z" fill="#0000ff"/>
<path d="M455.9 113.38L458.15 117.48L453.64 117.48Z" fill="#0000ff"/>
<path d="M459.59 108.7L461.84 112.8L457.33 112.8Z" fill="#0000ff"/>
<path d="M463.27 105.37L465.53 109.47L461.02 109.47Z" fill="#0000ff"/>
<path d="M466.96 102.87L469.21 106.97L464.7 106.97Z" fill="#0000ff"/>
<path d="M470.64 100.98L472.9 105.08L468.39 105.08Z" fill="#0000ff"/>
<path d="M474.33 99.64L476.58 103.74L472.07 103.74Z" fill="#0000ff"/>
<path d="M478.01 98.6L480.27 102.7L475.76 102.7Z" fill="#0000ff"/>
<path d="M481.7 97.63L483.95 101.73L479.44 101.73Z" fill="#0000ff"/>
<path d="M485.39 96.66L487.64 100.76L483.13 100.76Z" fill="#0000ff"/>
<path d="M489.07 95.64L491.33 99.74L486.82 99.74Z" fill="#0000ff"/>
<path d="M492.76 94.45L495.01 98.55L490.5 98.55Z" fill="#0000ff"/>
<path d="M496.44 93.18L498.7 97.28L494.19 97.28Z" fill="#0000ff"/>
<path d="M500.13 91.68L502.38 95.78L497.87 95.78Z" fill="#0000ff"/>
<path d="M503.81 89.23L506.07 93.33L501.56 93.33Z" fill="#0000ff"/>
<path d="M507.5 86.22L509.75 90.32L505.25 90.32Z" fill="#0000ff"/>
<path d="M511.19 82.28L513.44 86.38L508.93 86.38Z" fill="#0000ff"/>
<path d="M514.87 77.21L517.13 81.31L512.62 81.31Z" fill="#0000ff"/>
<path d="M518.56 72.91L520.81 77.01L516.3 77.01Z" fill="#0000ff"/>
<path d="M522.24 69.25L524.5 73.35L519.99 73.35Z" fill="#0000ff"/>
<path d="M525.93 66.13L528.18 70.23L523.67 70.23Z" fill="#0000ff"/>
<path d="M529.61 63.8L531.87 67.9L527.36 67.9Z" fill="#0000ff"/>
<path d="M533.3 62.93L535.55 67.03L531.04 67.03Z" fill="#0000ff"/>
<path d="M536.99 62.52L539.24 66.62L534.73 66.62Z" fill="#0000ff"/>
<path d="M540.67 62.59L542.93 66.69L538.42 66.69Z" fill="#0000ff"/>
<path d="M544.36 63.03L546.61 67.13L542.1 67.13Z" fill="#0000ff"/>
<path d="M548.04 63.44L550.3 67.54L545.79 67.54Z" fill="#0000ff"/>
<path d="M551.73 63.54L553.98 67.64L549.47 67.64Z" fill="#0000ff"/>
<path d="M555.41 63.34L557.67 67.44L553.16 67.44Z" fill="#0000ff"/>
<path d="M559.1 63.02L561.36 67.12L556.85 67.12Z" fill="#0000ff"/>
<path d="M562.79 62.66L565.04 66.76L560.53 66.76Z" fill="#0000ff"/>
<path d="M566.47 62.24L568.73 66.34L564.22 66.34Z" fill="#0000ff"/>
<path d="M570.16 61.94L572.41 66.04L567.9 66.04Z" fill="#0000ff"/>
<path d="M573.84 61.99L576.1 66.09L571.59 66.09Z" fill="#0000ff"/>
<path d="M577.53 62.22L579.78 66.32L575.27 66.32Z" fill="#0000ff"/>
<path d="M581.21 62.17L583.47 66.27L578.96 66.27Z" fill="#0000ff"/>
<path d="M584.9 60.89L587.15 64.99L582.64 64.99Z" fill="#0000ff"/>
<path d="M588.59 59.43L590.84 63.53L586.33 63.53Z" fill="#0000ff"/>
<path d="M592.27 57.45L594.53 61.55L590.02 61.55Z" fill="#0000ff"/>
<path d="M595.96 55.09L598.21 59.19L593.7 59.19Z" fill="#0000ff"/>
<path d="M599.64 52.51L601.9 56.61L597.39 56.61Z" fill="#0000ff"/>
<path d="M603.33 49.54L605.58 53.64L601.07 53.64Z" fill="#0000ff"/>
<path d="M607.01 46.23L609.27 50.33L604.76 50.33Z" fill="#0000ff"/>
<path d="M610.7 43L612.96 47.1L608.45 47.1Z" fill="#0000ff"/>
<path d="M618.07 48.32L620.33 52.42L615.82 52.42Z" fill="#0000ff"/>
<path d="M621.76 47.19L624.01 51.29L619.5 51.29Z" fill="#0000ff"/>
<path d="M625.44 45.83L627.7 49.93L623.19 49.93Z" fill="#0000ff"/>
<path d="M629.13 44.01L631.38 48.11L626.87 48.11Z" fill="#0000ff"/>
<path d="M632.81 42.1L635.07 46.2L630.56 46.2Z" fill="#0000ff"/>
<path d="M636.5 40.34L638.75 44.45L634.25 44.45Z" fill="#0000ff"/>
<path d="M378.5 31 L379.78 30.99 L381.5 30.98 L383.54 30.96 L385.81 30.95 L388.2 30.94 L390.59 30.94 L392.9 30.96 L395 31 L396.95 31.06 L398.86 31.14 L400.73 31.23 L402.59 31.34 L404.44 31.45 L406.29 31.57 L408.14 31.68 L410 31.8 L411.88 31.9 L413.75 32 L415.62 32.09 L417.5 32.18 L419.38 32.29 L421.25 32.43 L423.12 32.59 L425 32.8 L426.88 33.01 L428.75 33.21 L430.62 33.41 L432.5 33.65 L434.38 33.95 L436.25 34.34 L438.12 34.85 L440 35.5 L441.88 36.32 L443.75 37.3 L445.62 38.39 L447.5 39.58 L449.38 40.81 L451.25 42.07 L453.12 43.31 L455 44.5 L456.88 45.66 L458.75 46.82 L460.62 47.98 L462.5 49.16 L464.38 50.34 L466.25 51.54 L468.12 52.76 L470 54 L471.88 55.26 L473.75 56.54 L475.62 57.84 L477.5 59.16 L479.38 60.48 L481.25 61.82 L483.12 63.16 L485 64.5 L486.88 65.85 L488.75 67.2 L490.62 68.56 L492.5 69.92 L494.38 71.3 L496.25 72.69 L498.12 74.09 L500 75.5 L501.88 76.92 L503.75 78.34 L505.62 79.77 L507.5 81.21 L509.38 82.66 L511.25 84.15 L513.12 85.66 L515 87.2 L516.84 88.76 L518.63 90.34 L520.41 91.93 L522.19 93.55 L524.01 95.21 L525.9 96.91 L527.89 98.67 L530 100.5 L532.26 102.41 L534.65 104.4 L537.13 106.45 L539.69 108.55 L542.28 110.67 L544.88 112.8 L547.47 114.92 L550 117 L552.5 119.06 L555 121.12 L557.5 123.19 L560 125.25 L562.5 127.31 L565 129.38 L567.5 131.44 L570 133.5 L572.57 135.62 L575.23 137.81 L577.94 140.04 L580.62 142.25 L583.23 144.4 L585.7 146.44 L587.98 148.32 L590 150 L591.69 151.42 L593.09 152.59 L594.26 153.6 L595.31 154.5 L596.32 155.37 L597.38 156.28 L598.58 157.3 L600 158.5 L601.64 159.86 L603.4 161.31 L605.26 162.83 L607.19 164.41 L609.16 166.03 L611.13 167.68 L613.09 169.34 L615 171 L616.93 172.73 L618.95 174.58 L621 176.49 L623.03 178.41 L625 180.27 L626.85 182.03 L628.53 183.62 L630 185 L631.26 186.17 L632.38 187.2 L633.35 188.1 L634.19 188.88 L634.91 189.54 L635.53 190.11 L636.06 190.59 L636.5 191" fill="none" stroke="#ff00ff" stroke-width="0.7" stroke-opacity="1"/>
<path d="M378.5 33.26L380.75 29.16L376.25 29.16Z" fill="#ff00ff"/>
<path d="M382.19 33.23L384.44 29.13L379.93 29.13Z" fill="#ff00ff"/>
<path d="M385.87 33.2L388.13 29.1L383.62 29.1Z" fill="#ff00ff"/>
<path d="M389.56 33.2L391.81 29.1L387.3 29.1Z" fill="#ff00ff"/>
<path d="M393.24 33.22L395.5 29.12L390.99 29.12Z" fill="#ff00ff"/>
<path d="M396.93 33.32L399.18 29.22L394.67 29.22Z" fill="#ff00ff"/>
<path d="M400.61 33.48L402.87 29.38L398.36 29.38Z" fill="#ff00ff"/>
<path d="M404.3 33.7L406.56 29.6L402.05 29.6Z" fill="#ff00ff"/>
<path d="M407.99 33.93L410.24 29.83L405.73 29.83Z" fill="#ff00ff"/>
<path d="M411.67 34.15L413.93 30.05L409.42 30.05Z" fill="#ff00ff"/>
<path d="M415.36 34.33L417.61 30.23L413.1 30.23Z" fill="#ff00ff"/>
<path d="M419.04 34.53L421.3 30.43L416.79 30.43Z" fill="#ff00ff"/>
<path d="M422.73 34.81L424.98 30.71L420.47 30.71Z" fill="#ff00ff"/>
<path d="M426.41 35.22L428.67 31.12L424.16 31.12Z" fill="#ff00ff"/>
<path d="M430.1 35.61L432.36 31.51L427.85 31.51Z" fill="#ff00ff"/>
<path d="M433.79 36.11L436.04 32.01L431.53 32.01Z" fill="#ff00ff"/>
<path d="M437.47 36.92L439.73 32.82L435.22 32.82Z" fill="#ff00ff"/>
<path d="M441.16 38.25L443.41 34.15L438.9 34.15Z" fill="#ff00ff"/>
<path d="M444.84 40.18L447.1 36.08L442.59 36.08Z" fill="#ff00ff"/>
<path d="M448.53 42.51L450.78 38.41L446.27 38.41Z" fill="#ff00ff"/>
<path d="M452.21 44.96L454.47 40.86L449.96 40.86Z" fill="#ff00ff"/>
<path d="M455.9 47.31L458.15 43.21L453.64 43.21Z" fill="#ff00ff"/>
<path d="M459.59 49.59L461.84 45.49L457.33 45.49Z" fill="#ff00ff"/>
<path d="M463.27 51.9L465.53 47.8L461.02 47.8Z" fill="#ff00ff"/>
<path d="M466.96 54.26L469.21 50.16L464.7 50.16Z" fill="#ff00ff"/>
<path d="M470.64 56.69L472.9 52.59L468.39 52.59Z" fill="#ff00ff"/>
<path d="M474.33 59.2L476.58 55.1L472.07 55.1Z" fill="#ff00ff"/>
<path d="M478.01 61.77L480.27 57.67L475.76 57.67Z" fill="#ff00ff"/>
<path d="M481.7 64.39L483.95 60.29L479.44 60.29Z" fill="#ff00ff"/>
<path d="M485.39 67.03L487.64 62.93L483.13 62.93Z" fill="#ff00ff"/>
<path d="M489.07 69.69L491.33 65.59L486.82 65.59Z" fill="#ff00ff"/>
<path d="M492.76 72.37L495.01 68.27L490.5 68.27Z" fill="#ff00ff"/>
<path d="M496.44 75.09L498.7 70.99L494.19 70.99Z" fill="#ff00ff"/>
<path d="M500.13 77.85L502.38 73.75L497.87 73.75Z" fill="#ff00ff"/>
<path d="M503.81 80.64L506.07 76.54L501.56 76.54Z" fill="#ff00ff"/>
<path d="M507.5 83.46L509.75 79.36L505.25 79.36Z" fill="#ff00ff"/>
<path d="M511.19 86.35L513.44 82.25L508.93 82.25Z" fill="#ff00ff"/>
<path d="M514.87 89.35L517.13 85.25L512.62 85.25Z" fill="#ff00ff"/>
<path d="M518.56 92.53L520.81 88.43L516.3 88.43Z" fill="#ff00ff"/>
<path d="M522.24 95.86L524.5 91.76L519.99 91.76Z" fill="#ff00ff"/>
<path d="M525.93 99.19L528.18 95.09L523.67 95.09Z" fill="#ff00ff"/>
<path d="M529.61 102.42L531.87 98.32L527.36 98.32Z" fill="#ff00ff"/>
<path d="M533.3 105.53L535.55 101.43L531.04 101.43Z" fill="#ff00ff"/>
<path d="M536.99 108.59L539.24 104.49L534.73 104.49Z" fill="#ff00ff"/>
<path d="M540.67 111.61L542.93 107.51L538.42 107.51Z" fill="#ff00ff"/>
<path d="M544.36 114.63L546.61 110.53L542.1 110.53Z" fill="#ff00ff"/>
<path d="M548.04 117.64L550.3 113.54L545.79 113.54Z" fill="#ff00ff"/>
<path d="M551.73 120.68L553.98 116.58L549.47 116.58Z" fill="#ff00ff"/>
<path d="M555.41 123.72L557.67 119.62L553.16 119.62Z" fill="#ff00ff"/>
<path d="M559.1 126.76L561.36 122.66L556.85 122.66Z" fill="#ff00ff"/>
<path d="M562.79 129.8L565.04 125.7L560.53 125.7Z" fill="#ff00ff"/>
<path d="M566.47 132.84L568.73 128.74L564.22 128.74Z" fill="#ff00ff"/>
<path d="M570.16 135.88L572.41 131.78L567.9 131.78Z" fill="#ff00ff"/>
<path d="M573.84 138.92L576.1 134.82L571.59 134.82Z" fill="#ff00ff"/>
<path d="M577.53 141.96L579.78 137.86L575.27 137.86Z" fill="#ff00ff"/>
<path d="M581.21 144.99L583.47 140.89L578.96 140.89Z" fill="#ff00ff"/>
<path d="M584.9 148.03L587.15 143.93L582.64 143.93Z" fill="#ff00ff"/>
<path d="M588.59 151.08L590.84 146.98L586.33 146.98Z" fill="#ff00ff"/>
<path d="M592.27 154.16L594.53 150.06L590.02 150.06Z" fill="#ff00ff"/>
<path d="M595.96 157.31L598.21 153.21L593.7 153.21Z" fill="#ff00ff"/>
<path d="M599.64 160.45L601.9 156.35L597.39 156.35Z" fill="#ff00ff"/>
<path d="M603.33 163.51L605.58 159.41L601.07 159.41Z" fill="#ff00ff"/>
<path d="M607.01 166.52L609.27 162.42L604.76 162.42Z" fill="#ff00ff"/>
<path d="M610.7 169.57L612.96 165.47L608.45 165.47Z" fill="#ff00ff"/>
<path d="M614.39 172.72L616.64 168.62L612.13 168.62Z" fill="#ff00ff"/>
<path d="M618.07 176.03L620.33 171.93L615.82 171.93Z" fill="#ff00ff"/>
<path d="M621.76 179.46L624.01 175.36L619.5 175.36Z" fill="#ff00ff"/>
<path d="M625.44 182.95L627.7 178.85L623.19 178.85Z" fill="#ff00ff"/>
<path d="M629.13 186.44L631.38 182.34L626.87 182.34Z" fill="#ff00ff"/>
<path d="M632.81 189.86L635.07 185.76L630.56 185.76Z" fill="#ff00ff"/>
<path d="M636.5 193.25L638.75 189.16L634.25 189.16Z" fill="#ff00ff"/>
<path d="M405.5 212.5 L405.72 212.23 L405.99 211.88 L406.32 211.47 L406.69 211.01 L407.1 210.49 L407.54 209.93 L408.01 209.33 L408.5 208.7 L409.04 208.01 L409.63 207.25 L410.27 206.43 L410.94 205.57 L411.61 204.7 L412.27 203.84 L412.91 203 L413.5 202.2 L414.05 201.44 L414.58 200.7 L415.1 199.97 L415.59 199.26 L416.08 198.54 L416.56 197.83 L417.03 197.12 L417.5 196.4 L417.96 195.68 L418.41 194.98 L418.85 194.29 L419.28 193.59 L419.71 192.88 L420.14 192.15 L420.57 191.39 L421 190.6 L421.44 189.78 L421.88 188.93 L422.31 188.06 L422.75 187.16 L423.19 186.25 L423.62 185.32 L424.06 184.37 L424.5 183.4 L424.94 182.41 L425.38 181.39 L425.81 180.35 L426.25 179.29 L426.69 178.22 L427.12 177.14 L427.56 176.07 L428 175 L428.43 173.94 L428.87 172.87 L429.29 171.8 L429.72 170.72 L430.16 169.65 L430.6 168.57 L431.04 167.49 L431.5 166.4 L431.97 165.31 L432.45 164.21 L432.95 163.11 L433.44 162 L433.94 160.89 L434.44 159.79 L434.92 158.69 L435.4 157.6 L435.86 156.52 L436.31 155.44 L436.75 154.36 L437.19 153.29 L437.63 152.22 L438.08 151.15 L438.53 150.07 L439 149 L439.48 147.92 L439.98 146.84 L440.48 145.75 L440.99 144.66 L441.5 143.58 L442 142.51 L442.51 141.45 L443 140.4 L443.49 139.37 L443.97 138.34 L444.45 137.32 L444.93 136.31 L445.4 135.32 L445.87 134.33 L446.34 133.36 L446.8 132.4 L447.26 131.46 L447.71 130.53 L448.16 129.62 L448.6 128.72 L449.04 127.84 L449.49 126.95 L449.94 126.08 L450.4 125.2 L450.86 124.33 L451.33 123.45 L451.8 122.59 L452.27 121.72 L452.74 120.87 L453.22 120.03 L453.71 119.21 L454.2 118.4 L454.7 117.6 L455.2 116.81 L455.72 116.03 L456.23 115.26 L456.75 114.51 L457.27 113.78 L457.79 113.08 L458.3 112.4 L458.81 111.75 L459.32 111.12 L459.84 110.51 L460.35 109.92 L460.86 109.36 L461.38 108.82 L461.89 108.3 L462.4 107.8 L462.9 107.33 L463.39 106.88 L463.88 106.46 L464.36 106.06 L464.86 105.68 L465.38 105.31 L465.92 104.95 L466.5 104.6 L467.1 104.26 L467.72 103.93 L468.35 103.62 L469.01 103.32 L469.69 103.04 L470.42 102.75 L471.18 102.48 L472 102.2 L472.87 101.93 L473.78 101.69 L474.73 101.45 L475.72 101.21 L476.74 100.98 L477.8 100.73 L478.89 100.48 L480 100.2 L481.15 99.92 L482.36 99.65 L483.6 99.37 L484.88 99.09 L486.16 98.78 L487.45 98.43 L488.74 98.04 L490 97.6 L491.28 97.09 L492.59 96.53 L493.93 95.93 L495.25 95.29 L496.54 94.62 L497.78 93.95 L498.94 93.27 L500 92.6 L500.94 91.94 L501.78 91.27 L502.54 90.59 L503.25 89.9 L503.93 89.2 L504.59 88.48 L505.28 87.75 L506 87 L506.76 86.22 L507.52 85.4 L508.29 84.56 L509.06 83.71 L509.82 82.86 L510.57 82.02 L511.3 81.19 L512 80.4 L512.67 79.64 L513.32 78.9 L513.95 78.18 L514.56 77.46 L515.17 76.75 L515.77 76.05 L516.38 75.33 L517 74.6 L517.62 73.85 L518.25 73.08 L518.88 72.29 L519.5 71.51 L520.12 70.74 L520.75 69.99 L521.38 69.27 L522 68.6 L522.62 67.96 L523.25 67.34 L523.88 66.74 L524.5 66.16 L525.12 65.62 L525.75 65.11 L526.38 64.63 L527 64.2 L527.6 63.81 L528.18 63.46 L528.74 63.15 L529.31 62.88 L529.91 62.63 L530.54 62.4 L531.23 62.19 L532 62 L532.84 61.82 L533.74 61.66 L534.69 61.52 L535.69 61.41 L536.72 61.31 L537.79 61.25 L538.88 61.21 L540 61.2 L541.15 61.24 L542.36 61.32 L543.6 61.45 L544.88 61.59 L546.16 61.75 L547.45 61.89 L548.74 62.01 L550 62.1 L551.25 62.16 L552.5 62.2 L553.75 62.23 L555 62.24 L556.25 62.25 L557.5 62.24 L558.75 62.23 L560 62.2 L561.26 62.15 L562.55 62.08 L563.84 61.98 L565.12 61.88 L566.4 61.78 L567.64 61.7 L568.85 61.63 L570 61.6 L571.15 61.6 L572.33 61.64 L573.5 61.69 L574.62 61.76 L575.67 61.84 L576.61 61.9 L577.4 61.96 L578 62" fill="none" stroke="#ff00ff" stroke-width="0.7" stroke-opacity="1"/>
<path d="M581 63 L581.69 62.78 L582.59 62.5 L583.67 62.18 L584.88 61.81 L586.16 61.39 L587.47 60.91 L588.77 60.38 L590 59.8 L591.22 59.13 L592.5 58.38 L593.81 57.56 L595.12 56.69 L596.43 55.8 L597.69 54.9 L598.89 54.03 L600 53.2 L601.04 52.39 L602.03 51.56 L602.98 50.73 L603.88 49.91 L604.73 49.11 L605.53 48.35 L606.29 47.64 L607 47 L607.65 46.43 L608.23 45.92 L608.76 45.47 L609.25 45.05 L609.71 44.66 L610.14 44.28 L610.57 43.9 L611 43.5 L611.44 43.08 L611.89 42.64 L612.33 42.21 L612.75 41.78 L613.14 41.38 L613.48 41.03 L613.78 40.73 L614 40.5" fill="none" stroke="#ff00ff" stroke-width="0.7" stroke-opacity="1"/>
<path d="M616 47.5 L616.77 47.15 L617.79 46.68 L619 46.12 L620.34 45.5 L621.77 44.85 L623.23 44.2 L624.66 43.57 L626 43 L627.36 42.45 L628.84 41.87 L630.36 41.29 L631.88 40.72 L633.31 40.19 L634.6 39.71 L635.69 39.31 L636.5 39" fill="none" stroke="#ff00ff" stroke-width="0.7" stroke-opacity="1"/>
<path d="M578 62 L581 63" fill="none" stroke="#ff00ff" stroke-width="0.6" stroke-opacity="0.8"/>
<path d="M614 40.5 L616 47.5" fill="none" stroke="#ff00ff" stroke-width="0.6" stroke-opacity="0.8"/>
<path d="M407.99 211.61L410.24 207.51L405.73 207.51Z" fill="#ff00ff"/>
<path d="M411.67 206.88L413.93 202.78L409.42 202.78Z" fill="#ff00ff"/>
<path d="M415.36 201.85L417.61 197.75L413.1 197.75Z" fill="#ff00ff"/>
<path d="M419.04 196.23L421.3 192.13L416.79 192.13Z" fill="#ff00ff"/>
<path d="M422.73 189.46L424.98 185.36L420.47 185.36Z" fill="#ff00ff"/>
<path d="M426.41 181.14L428.67 177.04L424.16 177.04Z" fill="#ff00ff"/>
<path d="M430.1 172.05L432.36 167.95L427.85 167.95Z" fill="#ff00ff"/>
<path d="M433.79 163.5L436.04 159.4L431.53 159.4Z" fill="#ff00ff"/>
<path d="M437.47 154.87L439.73 150.77L435.22 150.77Z" fill="#ff00ff"/>
<path d="M441.16 146.56L443.41 142.46L438.9 142.46Z" fill="#ff00ff"/>
<path d="M444.84 138.74L447.1 134.64L442.59 134.64Z" fill="#ff00ff"/>
<path d="M448.53 131.12L450.78 127.02L446.27 127.02Z" fill="#ff00ff"/>
<path d="M452.21 124.08L454.47 119.98L449.96 119.98Z" fill="#ff00ff"/>
<path d="M455.9 118.01L458.15 113.91L453.64 113.91Z" fill="#ff00ff"/>
<path d="M459.59 113.06L461.84 108.96L457.33 108.96Z" fill="#ff00ff"/>
<path d="M463.27 109.25L465.53 105.15L461.02 105.15Z" fill="#ff00ff"/>
<path d="M466.96 106.59L469.21 102.49L464.7 102.49Z" fill="#ff00ff"/>
<path d="M470.64 104.92L472.9 100.82L468.39 100.82Z" fill="#ff00ff"/>
<path d="M474.33 103.8L476.58 99.7L472.07 99.7Z" fill="#ff00ff"/>
<path d="M478.01 102.94L480.27 98.84L475.76 98.84Z" fill="#ff00ff"/>
<path d="M481.7 102.05L483.95 97.95L479.44 97.95Z" fill="#ff00ff"/>
<path d="M485.39 101.22L487.64 97.12L483.13 97.12Z" fill="#ff00ff"/>
<path d="M489.07 100.19L491.33 96.09L486.82 96.09Z" fill="#ff00ff"/>
<path d="M492.76 98.71L495.01 94.61L490.5 94.61Z" fill="#ff00ff"/>
<path d="M496.44 96.93L498.7 92.83L494.19 92.83Z" fill="#ff00ff"/>
<path d="M500.13 94.77L502.38 90.67L497.87 90.67Z" fill="#ff00ff"/>
<path d="M503.81 91.57L506.07 87.47L501.56 87.47Z" fill="#ff00ff"/>
<path d="M507.5 87.68L509.75 83.58L505.25 83.58Z" fill="#ff00ff"/>
<path d="M511.19 83.58L513.44 79.48L508.93 79.48Z" fill="#ff00ff"/>
<path d="M514.87 79.36L517.13 75.26L512.62 75.26Z" fill="#ff00ff"/>
<path d="M518.56 74.95L520.81 70.85L516.3 70.85Z" fill="#ff00ff"/>
<path d="M522.24 70.61L524.5 66.51L519.99 66.51Z" fill="#ff00ff"/>
<path d="M525.93 67.22L528.18 63.12L523.67 63.12Z" fill="#ff00ff"/>
<path d="M529.61 65L531.87 60.9L527.36 60.9Z" fill="#ff00ff"/>
<path d="M533.3 63.99L535.55 59.89L531.04 59.89Z" fill="#ff00ff"/>
<path d="M536.99 63.55L539.24 59.45L534.73 59.45Z" fill="#ff00ff"/>
<path d="M540.67 63.47L542.93 59.37L538.42 59.37Z" fill="#ff00ff"/>
<path d="M544.36 63.79L546.61 59.69L542.1 59.69Z" fill="#ff00ff"/>
<path d="M548.04 64.21L550.3 60.11L545.79 60.11Z" fill="#ff00ff"/>
<path d="M551.73 64.43L553.98 60.33L549.47 60.33Z" fill="#ff00ff"/>
<path d="M555.41 64.5L557.67 60.4L553.16 60.4Z" fill="#ff00ff"/>
<path d="M559.1 64.47L561.36 60.37L556.85 60.37Z" fill="#ff00ff"/>
<path d="M562.79 64.31L565.04 60.21L560.53 60.21Z" fill="#ff00ff"/>
<path d="M566.47 64.03L568.73 59.93L564.22 59.93Z" fill="#ff00ff"/>
<path d="M570.16 63.86L572.41 59.76L567.9 59.76Z" fill="#ff00ff"/>
<path d="M573.84 63.97L576.1 59.87L571.59 59.87Z" fill="#ff00ff"/>
<path d="M577.53 64.23L579.78 60.13L575.27 60.13Z" fill="#ff00ff"/>
<path d="M581.21 65.18L583.47 61.08L578.96 61.08Z" fill="#ff00ff"/>
<path d="M584.9 64.06L587.15 59.96L582.64 59.96Z" fill="#ff00ff"/>
<path d="M588.59 62.71L590.84 58.61L586.33 58.61Z" fill="#ff00ff"/>
<path d="M592.27 60.77L594.53 56.67L590.02 56.67Z" fill="#ff00ff"/>
<path d="M595.96 58.37L598.21 54.27L593.7 54.27Z" fill="#ff00ff"/>
<path d="M599.64 55.72L601.9 51.62L597.39 51.62Z" fill="#ff00ff"/>
<path d="M603.33 52.66L605.58 48.56L601.07 48.56Z" fill="#ff00ff"/>
<path d="M607.01 49.24L609.27 45.14L604.76 45.14Z" fill="#ff00ff"/>
<path d="M610.7 46.03L612.96 41.93L608.45 41.93Z" fill="#ff00ff"/>
<path d="M618.07 48.8L620.33 44.7L615.82 44.7Z" fill="#ff00ff"/>
<path d="M621.76 47.11L624.01 43.01L619.5 43.01Z" fill="#ff00ff"/>
<path d="M625.44 45.49L627.7 41.39L623.19 41.39Z" fill="#ff00ff"/>
<path d="M629.13 44.01L631.38 39.91L626.87 39.91Z" fill="#ff00ff"/>
<path d="M632.81 42.62L635.07 38.52L630.56 38.52Z" fill="#ff00ff"/>
<path d="M636.5 41.26L638.75 37.16L634.25 37.16Z" fill="#ff00ff"/>
<path d="M378.5 27.5 L379.78 27.49 L381.5 27.48 L383.54 27.46 L385.81 27.44 L388.2 27.43 L390.59 27.43 L392.9 27.45 L395 27.5 L396.95 27.57 L398.86 27.66 L400.73 27.77 L402.59 27.89 L404.44 28.03 L406.29 28.18 L408.14 28.33 L410 28.5 L411.88 28.67 L413.75 28.84 L415.62 29.02 L417.5 29.21 L419.38 29.41 L421.25 29.65 L423.12 29.91 L425 30.2 L426.88 30.5 L428.75 30.78 L430.62 31.07 L432.5 31.39 L434.38 31.77 L436.25 32.24 L438.12 32.8 L440 33.5 L441.88 34.35 L443.75 35.33 L445.62 36.42 L447.5 37.59 L449.38 38.82 L451.25 40.06 L453.12 41.3 L455 42.5 L456.88 43.68 L458.75 44.87 L460.62 46.08 L462.5 47.29 L464.38 48.52 L466.25 49.77 L468.12 51.03 L470 52.3 L471.88 53.59 L473.75 54.9 L475.62 56.23 L477.5 57.57 L479.38 58.93 L481.25 60.28 L483.12 61.64 L485 63 L486.88 64.35 L488.75 65.7 L490.62 67.05 L492.5 68.41 L494.38 69.77 L496.25 71.16 L498.12 72.57 L500 74 L501.88 75.45 L503.75 76.9 L505.62 78.37 L507.5 79.86 L509.38 81.38 L511.25 82.94 L513.12 84.54 L515 86.2 L516.84 87.91 L518.63 89.67 L520.41 91.46 L522.19 93.3 L524.01 95.17 L525.9 97.08 L527.89 99.03 L530 101 L532.26 103.02 L534.65 105.11 L537.13 107.24 L539.69 109.39 L542.28 111.56 L544.88 113.73 L547.47 115.88 L550 118 L552.5 120.09 L555 122.16 L557.5 124.22 L560 126.28 L562.5 128.33 L565 130.39 L567.5 132.44 L570 134.5 L572.57 136.62 L575.23 138.81 L577.94 141.04 L580.62 143.25 L583.23 145.4 L585.7 147.44 L587.98 149.32 L590 151 L591.69 152.42 L593.09 153.59 L594.26 154.6 L595.31 155.5 L596.32 156.37 L597.38 157.28 L598.58 158.3 L600 159.5 L601.64 160.86 L603.4 162.31 L605.26 163.83 L607.19 165.41 L609.16 167.03 L611.13 168.68 L613.09 170.34 L615 172 L616.93 173.73 L618.95 175.58 L621 177.49 L623.03 179.41 L625 181.27 L626.85 183.03 L628.53 184.62 L630 186 L631.26 187.17 L632.38 188.2 L633.35 189.1 L634.19 189.88 L634.91 190.54 L635.53 191.11 L636.06 191.59 L636.5 192" fill="none" stroke="#808000" stroke-width="0.7" stroke-opacity="1"/>
<path d="M378.5 25.28L380.72 27.5L378.5 29.72L376.28 27.5Z" fill="#808000"/>
<path d="M382.19 25.25L384.41 27.47L382.19 29.69L379.97 27.47Z" fill="#808000"/>
<path d="M385.87 25.22L388.09 27.44L385.87 29.66L383.65 27.44Z" fill="#808000"/>
<path d="M389.56 25.21L391.78 27.43L389.56 29.65L387.34 27.43Z" fill="#808000"/>
<path d="M393.24 25.24L395.46 27.46L393.24 29.68L391.02 27.46Z" fill="#808000"/>
<path d="M396.93 25.35L399.15 27.57L396.93 29.79L394.71 27.57Z" fill="#808000"/>
<path d="M400.61 25.54L402.83 27.76L400.61 29.98L398.39 27.76Z" fill="#808000"/>
<path d="M404.3 25.8L406.52 28.02L404.3 30.24L402.08 28.02Z" fill="#808000"/>
<path d="M407.99 26.1L410.21 28.32L407.99 30.54L405.77 28.32Z" fill="#808000"/>
<path d="M411.67 26.43L413.89 28.65L411.67 30.87L409.45 28.65Z" fill="#808000"/>
<path d="M415.36 26.77L417.58 28.99L415.36 31.21L413.14 28.99Z" fill="#808000"/>
<path d="M419.04 27.16L421.26 29.38L419.04 31.6L416.82 29.38Z" fill="#808000"/>
<path d="M422.73 27.63L424.95 29.85L422.73 32.07L420.51 29.85Z" fill="#808000"/>
<path d="M426.41 28.21L428.63 30.43L426.41 32.65L424.19 30.43Z" fill="#808000"/>
<path d="M430.1 28.77L432.32 30.99L430.1 33.21L427.88 30.99Z" fill="#808000"/>
<path d="M433.79 29.43L436.01 31.65L433.79 33.87L431.57 31.65Z" fill="#808000"/>
<path d="M437.47 30.38L439.69 32.6L437.47 34.82L435.25 32.6Z" fill="#808000"/>
<path d="M441.16 31.79L443.38 34.01L441.16 36.23L438.94 34.01Z" fill="#808000"/>
<path d="M444.84 33.74L447.06 35.96L444.84 38.18L442.62 35.96Z" fill="#808000"/>
<path d="M448.53 36.04L450.75 38.26L448.53 40.48L446.31 38.26Z" fill="#808000"/>
<path d="M452.21 38.48L454.43 40.7L452.21 42.92L449.99 40.7Z" fill="#808000"/>
<path d="M455.9 40.85L458.12 43.07L455.9 45.29L453.68 43.07Z" fill="#808000"/>
<path d="M459.59 43.19L461.81 45.41L459.59 47.63L457.37 45.41Z" fill="#808000"/>
<path d="M463.27 45.58L465.49 47.8L463.27 50.02L461.05 47.8Z" fill="#808000"/>
<path d="M466.96 48.02L469.18 50.24L466.96 52.46L464.74 50.24Z" fill="#808000"/>
<path d="M470.64 50.52L472.86 52.74L470.64 54.96L468.42 52.74Z" fill="#808000"/>
<path d="M474.33 53.09L476.55 55.31L474.33 57.53L472.11 55.31Z" fill="#808000"/>
<path d="M478.01 55.73L480.23 57.95L478.01 60.17L475.79 57.95Z" fill="#808000"/>
<path d="M481.7 58.39L483.92 60.61L481.7 62.83L479.48 60.61Z" fill="#808000"/>
<path d="M485.39 61.06L487.61 63.28L485.39 65.5L483.17 63.28Z" fill="#808000"/>
<path d="M489.07 63.71L491.29 65.93L489.07 68.15L486.85 65.93Z" fill="#808000"/>
<path d="M492.76 66.37L494.98 68.59L492.76 70.81L490.54 68.59Z" fill="#808000"/>
<path d="M496.44 69.08L498.66 71.3L496.44 73.52L494.22 71.3Z" fill="#808000"/>
<path d="M500.13 71.88L502.35 74.1L500.13 76.32L497.91 74.1Z" fill="#808000"/>
<path d="M503.81 74.74L506.03 76.96L503.81 79.18L501.59 76.96Z" fill="#808000"/>
<path d="M507.5 77.64L509.72 79.86L507.5 82.08L505.28 79.86Z" fill="#808000"/>
<path d="M511.19 80.67L513.41 82.89L511.19 85.11L508.97 82.89Z" fill="#808000"/>
<path d="M514.87 83.87L517.09 86.09L514.87 88.31L512.65 86.09Z" fill="#808000"/>
<path d="M518.56 87.37L520.78 89.59L518.56 91.81L516.34 89.59Z" fill="#808000"/>
<path d="M522.24 91.14L524.46 93.36L522.24 95.58L520.02 93.36Z" fill="#808000"/>
<path d="M525.93 94.89L528.15 97.11L525.93 99.33L523.71 97.11Z" fill="#808000"/>
<path d="M529.61 98.42L531.83 100.64L529.61 102.86L527.39 100.64Z" fill="#808000"/>
<path d="M533.3 101.71L535.52 103.93L533.3 106.15L531.08 103.93Z" fill="#808000"/>
<path d="M536.99 104.89L539.21 107.11L536.99 109.33L534.77 107.11Z" fill="#808000"/>
<path d="M540.67 108L542.89 110.22L540.67 112.44L538.45 110.22Z" fill="#808000"/>
<path d="M544.36 111.08L546.58 113.3L544.36 115.52L542.14 113.3Z" fill="#808000"/>
<path d="M548.04 114.14L550.26 116.36L548.04 118.58L545.82 116.36Z" fill="#808000"/>
<path d="M551.73 117.22L553.95 119.44L551.73 121.66L549.51 119.44Z" fill="#808000"/>
<path d="M555.41 120.28L557.63 122.5L555.41 124.72L553.19 122.5Z" fill="#808000"/>
<path d="M559.1 123.32L561.32 125.54L559.1 127.76L556.88 125.54Z" fill="#808000"/>
<path d="M562.79 126.35L565.01 128.57L562.79 130.79L560.57 128.57Z" fill="#808000"/>
<path d="M566.47 129.38L568.69 131.6L566.47 133.82L564.25 131.6Z" fill="#808000"/>
<path d="M570.16 132.41L572.38 134.63L570.16 136.85L567.94 134.63Z" fill="#808000"/>
<path d="M573.84 135.45L576.06 137.67L573.84 139.89L571.62 137.67Z" fill="#808000"/>
<path d="M577.53 138.48L579.75 140.7L577.53 142.92L575.31 140.7Z" fill="#808000"/>
<path d="M581.21 141.52L583.43 143.74L581.21 145.96L578.99 143.74Z" fill="#808000"/>
<path d="M584.9 144.55L587.12 146.77L584.9 148.99L582.68 146.77Z" fill="#808000"/>
<path d="M588.59 147.6L590.81 149.82L588.59 152.04L586.37 149.82Z" fill="#808000"/>
<path d="M592.27 150.68L594.49 152.9L592.27 155.12L590.05 152.9Z" fill="#808000"/>
<path d="M595.96 153.84L598.18 156.06L595.96 158.28L593.74 156.06Z" fill="#808000"/>
<path d="M599.64 156.98L601.86 159.2L599.64 161.42L597.42 159.2Z" fill="#808000"/>
<path d="M603.33 160.03L605.55 162.25L603.33 164.47L601.11 162.25Z" fill="#808000"/>
<path d="M607.01 163.04L609.23 165.26L607.01 167.48L604.79 165.26Z" fill="#808000"/>
<path d="M610.7 166.09L612.92 168.31L610.7 170.53L608.48 168.31Z" fill="#808000"/>
<path d="M614.39 169.24L616.61 171.46L614.39 173.68L612.17 171.46Z" fill="#808000"/>
<path d="M618.07 172.55L620.29 174.77L618.07 176.99L615.85 174.77Z" fill="#808000"/>
<path d="M621.76 175.99L623.98 178.21L621.76 180.43L619.54 178.21Z" fill="#808000"/>
<path d="M625.44 179.47L627.66 181.69L625.44 183.91L623.22 181.69Z" fill="#808000"/>
<path d="M629.13 182.96L631.35 185.18L629.13 187.4L626.91 185.18Z" fill="#808000"/>
<path d="M632.81 186.39L635.03 188.61L632.81 190.83L630.59 188.61Z" fill="#808000"/>
<path d="M636.5 189.78L638.72 192L636.5 194.22L634.28 192Z" fill="#808000"/>
<path d="M402.5 212.5 L402.89 211.96 L403.42 211.24 L404.05 210.37 L404.75 209.42 L405.48 208.42 L406.2 207.44 L406.89 206.52 L407.5 205.7 L408.05 204.98 L408.57 204.32 L409.08 203.68 L409.57 203.07 L410.05 202.47 L410.53 201.87 L411.01 201.25 L411.5 200.6 L411.99 199.92 L412.48 199.23 L412.97 198.53 L413.46 197.82 L413.94 197.11 L414.43 196.4 L414.91 195.69 L415.4 195 L415.89 194.33 L416.38 193.68 L416.88 193.04 L417.37 192.4 L417.87 191.75 L418.35 191.07 L418.83 190.36 L419.3 189.6 L419.76 188.79 L420.2 187.95 L420.64 187.08 L421.07 186.19 L421.5 185.27 L421.93 184.33 L422.36 183.37 L422.8 182.4 L423.25 181.41 L423.7 180.38 L424.15 179.34 L424.61 178.28 L425.06 177.2 L425.51 176.13 L425.96 175.06 L426.4 174 L426.83 172.95 L427.25 171.91 L427.67 170.88 L428.09 169.84 L428.5 168.79 L428.93 167.74 L429.36 166.68 L429.8 165.6 L430.26 164.5 L430.73 163.37 L431.22 162.23 L431.71 161.07 L432.19 159.93 L432.68 158.79 L433.15 157.68 L433.6 156.6 L434.03 155.56 L434.44 154.54 L434.84 153.55 L435.23 152.57 L435.63 151.6 L436.03 150.62 L436.45 149.62 L436.9 148.6 L437.38 147.55 L437.88 146.48 L438.39 145.39 L438.92 144.3 L439.45 143.21 L439.98 142.12 L440.5 141.05 L441 140 L441.49 138.96 L441.97 137.93 L442.45 136.9 L442.92 135.89 L443.39 134.89 L443.86 133.9 L444.33 132.94 L444.8 132 L445.28 131.09 L445.76 130.21 L446.24 129.35 L446.72 128.51 L447.2 127.68 L447.67 126.86 L448.14 126.03 L448.6 125.2 L449.05 124.37 L449.48 123.54 L449.91 122.71 L450.33 121.89 L450.76 121.07 L451.19 120.25 L451.64 119.42 L452.1 118.6 L452.58 117.76 L453.08 116.91 L453.59 116.05 L454.11 115.2 L454.64 114.36 L455.16 113.54 L455.68 112.75 L456.2 112 L456.71 111.29 L457.22 110.6 L457.74 109.94 L458.25 109.3 L458.76 108.69 L459.27 108.1 L459.79 107.54 L460.3 107 L460.8 106.49 L461.29 106.01 L461.77 105.56 L462.26 105.14 L462.75 104.73 L463.27 104.34 L463.82 103.97 L464.4 103.6 L465.01 103.25 L465.64 102.93 L466.28 102.63 L466.96 102.34 L467.66 102.06 L468.4 101.78 L469.17 101.49 L470 101.2 L470.87 100.91 L471.78 100.62 L472.74 100.34 L473.73 100.05 L474.75 99.76 L475.8 99.46 L476.89 99.14 L478 98.8 L479.15 98.46 L480.36 98.12 L481.6 97.77 L482.88 97.41 L484.16 97.03 L485.45 96.6 L486.74 96.13 L488 95.6 L489.28 95 L490.59 94.32 L491.93 93.59 L493.25 92.83 L494.54 92.05 L495.78 91.27 L496.94 90.51 L498 89.8 L498.94 89.13 L499.79 88.48 L500.56 87.84 L501.27 87.21 L501.95 86.58 L502.61 85.94 L503.29 85.28 L504 84.6 L504.73 83.88 L505.46 83.14 L506.19 82.38 L506.92 81.61 L507.63 80.84 L508.34 80.08 L509.03 79.33 L509.7 78.6 L510.36 77.89 L511 77.18 L511.63 76.49 L512.25 75.8 L512.86 75.13 L513.45 74.47 L514.03 73.82 L514.6 73.2 L515.16 72.6 L515.7 72.03 L516.23 71.49 L516.75 70.95 L517.26 70.42 L517.75 69.89 L518.23 69.35 L518.7 68.8 L519.15 68.23 L519.58 67.65 L520 67.05 L520.41 66.46 L520.8 65.88 L521.2 65.3 L521.6 64.74 L522 64.2 L522.39 63.69 L522.76 63.19 L523.12 62.71 L523.48 62.24 L523.85 61.78 L524.25 61.32 L524.7 60.86 L525.2 60.4 L525.74 59.92 L526.31 59.43 L526.91 58.93 L527.54 58.44 L528.21 57.97 L528.92 57.53 L529.68 57.13 L530.5 56.8 L531.36 56.52 L532.25 56.27 L533.18 56.06 L534.16 55.88 L535.2 55.75 L536.29 55.65 L537.46 55.6 L538.7 55.6 L540.04 55.67 L541.49 55.83 L543.01 56.05 L544.59 56.31 L546.21 56.57 L547.83 56.8 L549.43 56.99 L551 57.1 L552.58 57.13 L554.21 57.1 L555.86 57.04 L557.5 56.94 L559.1 56.84 L560.62 56.74 L562.03 56.65 L563.3 56.6 L564.4 56.57 L565.34 56.56 L566.17 56.55 L566.92 56.56 L567.64 56.56 L568.36 56.57 L569.14 56.59 L570 56.6 L570.99 56.62 L572.1 56.64 L573.26 56.67 L574.42 56.7 L575.53 56.73 L576.53 56.76 L577.37 56.78 L578 56.8" fill="none" stroke="#808000" stroke-width="0.7" stroke-opacity="1"/>
<path d="M581 61.5 L581.38 61.26 L581.89 60.95 L582.49 60.57 L583.16 60.16 L583.87 59.71 L584.6 59.24 L585.32 58.76 L586 58.3 L586.67 57.82 L587.35 57.32 L588.05 56.79 L588.76 56.25 L589.46 55.71 L590.16 55.18 L590.84 54.68 L591.5 54.2 L592.13 53.77 L592.73 53.38 L593.31 53.01 L593.88 52.66 L594.46 52.29 L595.07 51.91 L595.71 51.48 L596.4 51 L597.16 50.45 L597.99 49.84 L598.86 49.19 L599.76 48.51 L600.64 47.84 L601.49 47.18 L602.29 46.56 L603 46 L603.63 45.5 L604.2 45.04 L604.72 44.61 L605.21 44.21 L605.67 43.81 L606.11 43.42 L606.55 43.02 L607 42.6 L607.44 42.17 L607.86 41.74 L608.25 41.3 L608.64 40.87 L609.03 40.43 L609.44 39.99 L609.85 39.55 L610.3 39.1 L610.8 38.62 L611.36 38.1 L611.96 37.56 L612.56 37.03 L613.13 36.53 L613.64 36.07 L614.08 35.69 L614.4 35.4" fill="none" stroke="#808000" stroke-width="0.7" stroke-opacity="1"/>
<path d="M616 44.5 L616.77 44.07 L617.79 43.5 L619 42.82 L620.34 42.06 L621.77 41.27 L623.23 40.47 L624.66 39.7 L626 39 L627.36 38.32 L628.84 37.6 L630.36 36.87 L631.88 36.16 L633.31 35.49 L634.6 34.89 L635.69 34.38 L636.5 34" fill="none" stroke="#808000" stroke-width="0.7" stroke-opacity="1"/>
<path d="M578 56.8 L581 61.5" fill="none" stroke="#808000" stroke-width="0.6" stroke-opacity="0.8"/>
<path d="M614.4 35.4 L616 44.5" fill="none" stroke="#808000" stroke-width="0.6" stroke-opacity="0.8"/>
<path d="M404.3 207.81L406.52 210.03L404.3 212.25L402.08 210.03Z" fill="#808000"/>
<path d="M407.99 202.85L410.21 205.07L407.99 207.29L405.77 205.07Z" fill="#808000"/>
<path d="M411.67 198.14L413.89 200.36L411.67 202.58L409.45 200.36Z" fill="#808000"/>
<path d="M415.36 192.84L417.58 195.06L415.36 197.28L413.14 195.06Z" fill="#808000"/>
<path d="M419.04 187.8L421.26 190.02L419.04 192.24L416.82 190.02Z" fill="#808000"/>
<path d="M422.73 180.34L424.95 182.56L422.73 184.78L420.51 182.56Z" fill="#808000"/>
<path d="M426.41 171.75L428.63 173.97L426.41 176.19L424.19 173.97Z" fill="#808000"/>
<path d="M430.1 162.66L432.32 164.88L430.1 167.1L427.88 164.88Z" fill="#808000"/>
<path d="M433.79 153.93L436.01 156.15L433.79 158.37L431.57 156.15Z" fill="#808000"/>
<path d="M437.47 145.13L439.69 147.35L437.47 149.57L435.25 147.35Z" fill="#808000"/>
<path d="M441.16 137.45L443.38 139.67L441.16 141.89L438.94 139.67Z" fill="#808000"/>
<path d="M444.84 129.7L447.06 131.92L444.84 134.14L442.62 131.92Z" fill="#808000"/>
<path d="M448.53 123.11L450.75 125.33L448.53 127.55L446.31 125.33Z" fill="#808000"/>
<path d="M452.21 116.18L454.43 118.4L452.21 120.62L449.99 118.4Z" fill="#808000"/>
<path d="M455.9 110.21L458.12 112.43L455.9 114.65L453.68 112.43Z" fill="#808000"/>
<path d="M459.59 105.54L461.81 107.76L459.59 109.98L457.37 107.76Z" fill="#808000"/>
<path d="M463.27 102.12L465.49 104.34L463.27 106.56L461.05 104.34Z" fill="#808000"/>
<path d="M466.96 100.12L469.18 102.34L466.96 104.56L464.74 102.34Z" fill="#808000"/>
<path d="M470.64 98.76L472.86 100.98L470.64 103.2L468.42 100.98Z" fill="#808000"/>
<path d="M474.33 97.66L476.55 99.88L474.33 102.1L472.11 99.88Z" fill="#808000"/>
<path d="M478.01 96.58L480.23 98.8L478.01 101.02L475.79 98.8Z" fill="#808000"/>
<path d="M481.7 95.53L483.92 97.75L481.7 99.97L479.48 97.75Z" fill="#808000"/>
<path d="M485.39 94.4L487.61 96.62L485.39 98.84L483.17 96.62Z" fill="#808000"/>
<path d="M489.07 92.88L491.29 95.1L489.07 97.32L486.85 95.1Z" fill="#808000"/>
<path d="M492.76 90.89L494.98 93.11L492.76 95.33L490.54 93.11Z" fill="#808000"/>
<path d="M496.44 88.62L498.66 90.84L496.44 93.06L494.22 90.84Z" fill="#808000"/>
<path d="M500.13 85.98L502.35 88.2L500.13 90.42L497.91 88.2Z" fill="#808000"/>
<path d="M503.81 82.56L506.03 84.78L503.81 87L501.59 84.78Z" fill="#808000"/>
<path d="M507.5 78.77L509.72 80.99L507.5 83.21L505.28 80.99Z" fill="#808000"/>
<path d="M511.19 74.76L513.41 76.98L511.19 79.2L508.97 76.98Z" fill="#808000"/>
<path d="M514.87 70.69L517.09 72.91L514.87 75.13L512.65 72.91Z" fill="#808000"/>
<path d="M518.56 66.75L520.78 68.97L518.56 71.19L516.34 68.97Z" fill="#808000"/>
<path d="M522.24 61.66L524.46 63.88L522.24 66.1L520.02 63.88Z" fill="#808000"/>
<path d="M525.93 57.54L528.15 59.76L525.93 61.98L523.71 59.76Z" fill="#808000"/>
<path d="M529.61 54.95L531.83 57.17L529.61 59.39L527.39 57.17Z" fill="#808000"/>
<path d="M533.3 53.81L535.52 56.03L533.3 58.25L531.08 56.03Z" fill="#808000"/>
<path d="M536.99 53.4L539.21 55.62L536.99 57.84L534.77 55.62Z" fill="#808000"/>
<path d="M540.67 53.52L542.89 55.74L540.67 57.96L538.45 55.74Z" fill="#808000"/>
<path d="M544.36 54.05L546.58 56.27L544.36 58.49L542.14 56.27Z" fill="#808000"/>
<path d="M548.04 54.61L550.26 56.83L548.04 59.05L545.82 56.83Z" fill="#808000"/>
<path d="M551.73 54.9L553.95 57.12L551.73 59.34L549.51 57.12Z" fill="#808000"/>
<path d="M555.41 54.84L557.63 57.06L555.41 59.28L553.19 57.06Z" fill="#808000"/>
<path d="M559.1 54.62L561.32 56.84L559.1 59.06L556.88 56.84Z" fill="#808000"/>
<path d="M562.79 54.4L565.01 56.62L562.79 58.84L560.57 56.62Z" fill="#808000"/>
<path d="M566.47 54.33L568.69 56.55L566.47 58.77L564.25 56.55Z" fill="#808000"/>
<path d="M570.16 54.38L572.38 56.6L570.16 58.82L567.94 56.6Z" fill="#808000"/>
<path d="M573.84 54.46L576.06 56.68L573.84 58.9L571.62 56.68Z" fill="#808000"/>
<path d="M577.53 54.57L579.75 56.79L577.53 59.01L575.31 56.79Z" fill="#808000"/>
<path d="M581.21 59.14L583.43 61.36L581.21 63.58L578.99 61.36Z" fill="#808000"/>
<path d="M584.9 56.82L587.12 59.04L584.9 61.26L582.68 59.04Z" fill="#808000"/>
<path d="M588.59 54.16L590.81 56.38L588.59 58.6L586.37 56.38Z" fill="#808000"/>
<path d="M592.27 51.46L594.49 53.68L592.27 55.9L590.05 53.68Z" fill="#808000"/>
<path d="M595.96 49.09L598.18 51.31L595.96 53.53L593.74 51.31Z" fill="#808000"/>
<path d="M599.64 46.38L601.86 48.6L599.64 50.82L597.42 48.6Z" fill="#808000"/>
<path d="M603.33 43.52L605.55 45.74L603.33 47.96L601.11 45.74Z" fill="#808000"/>
<path d="M607.01 40.37L609.23 42.59L607.01 44.81L604.79 42.59Z" fill="#808000"/>
<path d="M610.7 36.5L612.92 38.72L610.7 40.94L608.48 38.72Z" fill="#808000"/>
<path d="M614.39 33.19L616.61 35.41L614.39 37.63L612.17 35.41Z" fill="#808000"/>
<path d="M618.07 41.12L620.29 43.34L618.07 45.56L615.85 43.34Z" fill="#808000"/>
<path d="M621.76 39.06L623.98 41.28L621.76 43.5L619.54 41.28Z" fill="#808000"/>
<path d="M625.44 37.07L627.66 39.29L625.44 41.51L623.22 39.29Z" fill="#808000"/>
<path d="M629.13 35.24L631.35 37.46L629.13 39.68L626.91 37.46Z" fill="#808000"/>
<path d="M632.81 33.5L635.03 35.72L632.81 37.94L630.59 35.72Z" fill="#808000"/>
<path d="M636.5 31.78L638.72 34L636.5 36.22L634.28 34Z" fill="#808000"/>
<path d="M378.5 23.5 L379.78 23.49 L381.5 23.48 L383.54 23.46 L385.81 23.44 L388.2 23.43 L390.59 23.43 L392.9 23.45 L395 23.5 L396.95 23.57 L398.86 23.64 L400.73 23.74 L402.59 23.84 L404.44 23.97 L406.29 24.12 L408.14 24.3 L410 24.5 L411.88 24.73 L413.75 24.97 L415.62 25.24 L417.5 25.53 L419.38 25.85 L421.25 26.2 L423.12 26.58 L425 27 L426.88 27.44 L428.75 27.88 L430.62 28.34 L432.5 28.84 L434.38 29.4 L436.25 30.01 L438.12 30.71 L440 31.5 L441.88 32.4 L443.75 33.41 L445.62 34.5 L447.5 35.66 L449.38 36.85 L451.25 38.07 L453.12 39.3 L455 40.5 L456.88 41.7 L458.75 42.91 L460.62 44.14 L462.5 45.39 L464.38 46.65 L466.25 47.92 L468.12 49.2 L470 50.5 L471.88 51.81 L473.75 53.13 L475.62 54.47 L477.5 55.82 L479.38 57.18 L481.25 58.55 L483.12 59.92 L485 61.3 L486.88 62.68 L488.75 64.06 L490.62 65.44 L492.5 66.83 L494.38 68.24 L496.25 69.66 L498.12 71.12 L500 72.6 L501.88 74.09 L503.75 75.58 L505.62 77.08 L507.5 78.6 L509.38 80.17 L511.25 81.8 L513.12 83.5 L515 85.3 L516.84 87.2 L518.63 89.2 L520.41 91.28 L522.19 93.41 L524.01 95.59 L525.9 97.79 L527.89 100 L530 102.2 L532.26 104.42 L534.65 106.68 L537.13 108.97 L539.69 111.28 L542.28 113.58 L544.88 115.86 L547.47 118.11 L550 120.3 L552.5 122.44 L555 124.54 L557.5 126.6 L560 128.65 L562.5 130.68 L565 132.71 L567.5 134.75 L570 136.8 L572.57 138.92 L575.23 141.11 L577.94 143.34 L580.62 145.55 L583.23 147.7 L585.7 149.74 L587.98 151.62 L590 153.3 L591.69 154.72 L593.09 155.89 L594.26 156.9 L595.31 157.8 L596.32 158.67 L597.38 159.58 L598.58 160.6 L600 161.8 L601.64 163.16 L603.4 164.61 L605.26 166.13 L607.19 167.71 L609.16 169.33 L611.13 170.98 L613.09 172.64 L615 174.3 L616.93 176.03 L618.95 177.88 L621 179.79 L623.03 181.71 L625 183.57 L626.85 185.33 L628.53 186.92 L630 188.3 L631.26 189.47 L632.38 190.5 L633.35 191.4 L634.19 192.18 L634.91 192.84 L635.53 193.41 L636.06 193.89 L636.5 194.3" fill="none" stroke="#800080" stroke-width="0.7" stroke-opacity="1"/>
<path d="M376.19 23.5L380.39 21.19L380.39 25.81Z" fill="#800080"/>
<path d="M379.88 23.47L384.08 21.16L384.08 25.78Z" fill="#800080"/>
<path d="M383.56 23.44L387.76 21.13L387.76 25.75Z" fill="#800080"/>
<path d="M387.25 23.43L391.45 21.12L391.45 25.74Z" fill="#800080"/>
<path d="M390.93 23.46L395.13 21.15L395.13 25.77Z" fill="#800080"/>
<path d="M394.62 23.57L398.82 21.26L398.82 25.88Z" fill="#800080"/>
<path d="M398.3 23.73L402.5 21.42L402.5 26.04Z" fill="#800080"/>
<path d="M401.99 23.96L406.19 21.65L406.19 26.27Z" fill="#800080"/>
<path d="M405.68 24.28L409.88 21.97L409.88 26.59Z" fill="#800080"/>
<path d="M409.36 24.7L413.56 22.39L413.56 27.01Z" fill="#800080"/>
<path d="M413.05 25.2L417.25 22.89L417.25 27.51Z" fill="#800080"/>
<path d="M416.73 25.79L420.93 23.48L420.93 28.1Z" fill="#800080"/>
<path d="M420.42 26.5L424.62 24.19L424.62 28.81Z" fill="#800080"/>
<path d="M424.1 27.33L428.3 25.02L428.3 29.64Z" fill="#800080"/>
<path d="M427.79 28.21L431.99 25.9L431.99 30.52Z" fill="#800080"/>
<path d="M431.48 29.22L435.68 26.91L435.68 31.53Z" fill="#800080"/>
<path d="M435.16 30.46L439.36 28.15L439.36 32.77Z" fill="#800080"/>
<path d="M438.85 32.05L443.05 29.74L443.05 34.36Z" fill="#800080"/>
<path d="M442.53 34.04L446.73 31.73L446.73 36.35Z" fill="#800080"/>
<path d="M446.22 36.31L450.42 34L450.42 38.62Z" fill="#800080"/>
<path d="M449.9 38.7L454.1 36.39L454.1 41.01Z" fill="#800080"/>
<path d="M453.59 41.07L457.79 38.76L457.79 43.38Z" fill="#800080"/>
<path d="M457.28 43.46L461.48 41.15L461.48 45.77Z" fill="#800080"/>
<path d="M460.96 45.91L465.16 43.6L465.16 48.22Z" fill="#800080"/>
<path d="M464.65 48.4L468.85 46.09L468.85 50.71Z" fill="#800080"/>
<path d="M468.33 50.95L472.53 48.64L472.53 53.26Z" fill="#800080"/>
<path d="M472.02 53.54L476.22 51.23L476.22 55.85Z" fill="#800080"/>
<path d="M475.7 56.19L479.9 53.88L479.9 58.5Z" fill="#800080"/>
<path d="M479.39 58.88L483.59 56.57L483.59 61.19Z" fill="#800080"/>
<path d="M483.08 61.58L487.28 59.27L487.28 63.89Z" fill="#800080"/>
<path d="M486.76 64.29L490.96 61.98L490.96 66.6Z" fill="#800080"/>
<path d="M490.45 67.02L494.65 64.71L494.65 69.33Z" fill="#800080"/>
<path d="M494.13 69.81L498.33 67.5L498.33 72.12Z" fill="#800080"/>
<path d="M497.82 72.7L502.02 70.39L502.02 75.01Z" fill="#800080"/>
<path d="M501.5 75.63L505.7 73.32L505.7 77.94Z" fill="#800080"/>
<path d="M505.19 78.6L509.39 76.29L509.39 80.91Z" fill="#800080"/>
<path d="M508.88 81.75L513.08 79.44L513.08 84.06Z" fill="#800080"/>
<path d="M512.56 85.18L516.76 82.87L516.76 87.49Z" fill="#800080"/>
<path d="M516.25 89.12L520.45 86.81L520.45 91.43Z" fill="#800080"/>
<path d="M519.93 93.48L524.13 91.17L524.13 95.79Z" fill="#800080"/>
<path d="M523.62 97.82L527.82 95.51L527.82 100.13Z" fill="#800080"/>
<path d="M527.3 101.8L531.5 99.49L531.5 104.11Z" fill="#800080"/>
<path d="M530.99 105.41L535.19 103.1L535.19 107.72Z" fill="#800080"/>
<path d="M534.68 108.83L538.88 106.52L538.88 111.14Z" fill="#800080"/>
<path d="M538.36 112.15L542.56 109.84L542.56 114.46Z" fill="#800080"/>
<path d="M542.05 115.4L546.25 113.09L546.25 117.71Z" fill="#800080"/>
<path d="M545.73 118.61L549.93 116.3L549.93 120.92Z" fill="#800080"/>
<path d="M549.42 121.78L553.62 119.47L553.62 124.09Z" fill="#800080"/>
<path d="M553.1 124.88L557.3 122.57L557.3 127.19Z" fill="#800080"/>
<path d="M556.79 127.91L560.99 125.6L560.99 130.22Z" fill="#800080"/>
<path d="M560.48 130.91L564.68 128.6L564.68 133.22Z" fill="#800080"/>
<path d="M564.16 133.91L568.36 131.6L568.36 136.22Z" fill="#800080"/>
<path d="M567.85 136.93L572.05 134.62L572.05 139.24Z" fill="#800080"/>
<path d="M571.53 139.97L575.73 137.66L575.73 142.28Z" fill="#800080"/>
<path d="M575.22 143L579.42 140.69L579.42 145.31Z" fill="#800080"/>
<path d="M578.9 146.04L583.1 143.73L583.1 148.35Z" fill="#800080"/>
<path d="M582.59 149.07L586.79 146.76L586.79 151.38Z" fill="#800080"/>
<path d="M586.28 152.12L590.48 149.81L590.48 154.43Z" fill="#800080"/>
<path d="M589.96 155.2L594.16 152.89L594.16 157.51Z" fill="#800080"/>
<path d="M593.65 158.36L597.85 156.05L597.85 160.67Z" fill="#800080"/>
<path d="M597.33 161.5L601.53 159.19L601.53 163.81Z" fill="#800080"/>
<path d="M601.02 164.55L605.22 162.24L605.22 166.86Z" fill="#800080"/>
<path d="M604.7 167.56L608.9 165.25L608.9 169.87Z" fill="#800080"/>
<path d="M608.39 170.61L612.59 168.3L612.59 172.92Z" fill="#800080"/>
<path d="M612.08 173.76L616.28 171.45L616.28 176.07Z" fill="#800080"/>
<path d="M615.76 177.07L619.96 174.76L619.96 179.38Z" fill="#800080"/>
<path d="M619.45 180.51L623.65 178.2L623.65 182.82Z" fill="#800080"/>
<path d="M623.13 183.99L627.33 181.68L627.33 186.3Z" fill="#800080"/>
<path d="M626.82 187.48L631.02 185.17L631.02 189.79Z" fill="#800080"/>
<path d="M630.5 190.91L634.7 188.6L634.7 193.22Z" fill="#800080"/>
<path d="M634.19 194.3L638.39 191.99L638.39 196.61Z" fill="#800080"/>
<path d="M395.5 212.5 L395.78 212.18 L396.14 211.75 L396.56 211.25 L397.04 210.69 L397.56 210.08 L398.1 209.45 L398.65 208.82 L399.2 208.2 L399.77 207.58 L400.38 206.93 L401.02 206.26 L401.67 205.57 L402.32 204.87 L402.95 204.18 L403.55 203.48 L404.1 202.8 L404.59 202.12 L405.04 201.45 L405.46 200.78 L405.86 200.1 L406.25 199.43 L406.64 198.75 L407.06 198.08 L407.5 197.4 L407.96 196.75 L408.42 196.13 L408.89 195.53 L409.37 194.92 L409.86 194.29 L410.38 193.6 L410.92 192.85 L411.5 192 L412.11 191.06 L412.76 190.05 L413.43 188.98 L414.12 187.85 L414.83 186.68 L415.55 185.47 L416.27 184.25 L417 183 L417.74 181.72 L418.51 180.39 L419.3 179.02 L420.09 177.62 L420.87 176.21 L421.65 174.8 L422.39 173.39 L423.1 172 L423.77 170.63 L424.4 169.25 L425.01 167.88 L425.61 166.51 L426.19 165.14 L426.78 163.76 L427.38 162.38 L428 161 L428.64 159.59 L429.3 158.15 L429.97 156.7 L430.64 155.25 L431.3 153.82 L431.96 152.42 L432.59 151.08 L433.2 149.8 L433.78 148.6 L434.35 147.45 L434.9 146.36 L435.44 145.3 L435.97 144.27 L436.49 143.25 L437 142.23 L437.5 141.2 L437.99 140.16 L438.47 139.13 L438.93 138.1 L439.39 137.09 L439.84 136.09 L440.29 135.1 L440.74 134.14 L441.2 133.2 L441.66 132.29 L442.12 131.42 L442.57 130.56 L443.02 129.72 L443.48 128.9 L443.95 128.07 L444.42 127.24 L444.9 126.4 L445.39 125.55 L445.89 124.69 L446.39 123.83 L446.9 122.97 L447.42 122.12 L447.94 121.27 L448.47 120.43 L449 119.6 L449.54 118.77 L450.1 117.95 L450.66 117.13 L451.23 116.31 L451.79 115.51 L452.37 114.72 L452.93 113.95 L453.5 113.2 L454.06 112.47 L454.62 111.75 L455.19 111.04 L455.75 110.35 L456.31 109.68 L456.88 109.03 L457.44 108.4 L458 107.8 L458.56 107.23 L459.12 106.68 L459.69 106.15 L460.25 105.65 L460.81 105.17 L461.38 104.7 L461.94 104.24 L462.5 103.8 L463.04 103.38 L463.54 102.98 L464.03 102.6 L464.53 102.24 L465.06 101.88 L465.63 101.53 L466.27 101.17 L467 100.8 L467.82 100.42 L468.71 100.04 L469.66 99.66 L470.66 99.28 L471.7 98.9 L472.78 98.52 L473.88 98.16 L475 97.8 L476.17 97.46 L477.43 97.12 L478.74 96.8 L480.06 96.48 L481.38 96.16 L482.66 95.84 L483.88 95.52 L485 95.2 L486.01 94.88 L486.94 94.58 L487.8 94.29 L488.62 93.99 L489.43 93.68 L490.25 93.35 L491.1 92.99 L492 92.6 L492.97 92.18 L493.98 91.75 L495.01 91.29 L496.06 90.81 L497.1 90.31 L498.12 89.77 L499.09 89.21 L500 88.6 L500.85 87.96 L501.66 87.29 L502.43 86.58 L503.17 85.85 L503.89 85.08 L504.6 84.29 L505.3 83.46 L506 82.6 L506.69 81.7 L507.36 80.75 L508.02 79.76 L508.67 78.74 L509.31 77.71 L509.96 76.67 L510.62 75.63 L511.3 74.6 L511.99 73.57 L512.69 72.51 L513.4 71.44 L514.12 70.37 L514.84 69.31 L515.56 68.27 L516.28 67.26 L517 66.3 L517.73 65.38 L518.48 64.48 L519.24 63.61 L519.99 62.76 L520.74 61.94 L521.46 61.14 L522.15 60.36 L522.8 59.6 L523.4 58.86 L523.97 58.13 L524.5 57.43 L525.01 56.74 L525.51 56.09 L526 55.46 L526.5 54.86 L527 54.3 L527.5 53.77 L527.97 53.28 L528.43 52.82 L528.89 52.39 L529.36 51.99 L529.86 51.61 L530.41 51.25 L531 50.9 L531.65 50.57 L532.34 50.27 L533.06 49.98 L533.81 49.72 L534.59 49.48 L535.38 49.26 L536.19 49.07 L537 48.9 L537.83 48.75 L538.68 48.62 L539.55 48.52 L540.44 48.44 L541.33 48.38 L542.23 48.36 L543.12 48.36 L544 48.4 L544.87 48.48 L545.73 48.6 L546.58 48.75 L547.44 48.92 L548.3 49.13 L549.18 49.34 L550.08 49.57 L551 49.8 L551.95 50.05 L552.93 50.33 L553.93 50.63 L554.94 50.94 L555.96 51.25 L556.98 51.55 L557.99 51.84 L559 52.1 L559.98 52.33 L560.93 52.55 L561.87 52.75 L562.81 52.94 L563.78 53.13 L564.79 53.32 L565.86 53.5 L567 53.7 L568.31 53.91 L569.8 54.14 L571.39 54.37 L573 54.6 L574.55 54.82 L575.95 55.01 L577.13 55.18 L578 55.3" fill="none" stroke="#800080" stroke-width="0.7" stroke-opacity="1"/>
<path d="M581 62.2 L581.71 62.08 L582.66 61.94 L583.8 61.76 L585.06 61.56 L586.38 61.34 L587.68 61.11 L588.91 60.86 L590 60.6 L590.96 60.34 L591.84 60.09 L592.68 59.83 L593.5 59.55 L594.32 59.24 L595.16 58.88 L596.04 58.48 L597 58 L598.06 57.45 L599.2 56.82 L600.4 56.13 L601.62 55.41 L602.83 54.65 L603.98 53.89 L605.05 53.13 L606 52.4 L606.83 51.67 L607.58 50.92 L608.26 50.17 L608.88 49.41 L609.45 48.66 L609.98 47.92 L610.5 47.2 L611 46.5 L611.49 45.8 L611.96 45.07 L612.4 44.34 L612.81 43.63 L613.18 42.97 L613.51 42.38 L613.78 41.88 L614 41.5" fill="none" stroke="#800080" stroke-width="0.7" stroke-opacity="1"/>
<path d="M616 46 L616.77 45.41 L617.79 44.62 L619 43.67 L620.34 42.62 L621.77 41.53 L623.23 40.45 L624.66 39.42 L626 38.5 L627.36 37.64 L628.84 36.75 L630.36 35.88 L631.88 35.03 L633.31 34.24 L634.6 33.54 L635.69 32.95 L636.5 32.5" fill="none" stroke="#800080" stroke-width="0.7" stroke-opacity="1"/>
<path d="M578 55.3 L581 62.2" fill="none" stroke="#800080" stroke-width="0.6" stroke-opacity="0.8"/>
<path d="M614 41.5 L616 46" fill="none" stroke="#800080" stroke-width="0.6" stroke-opacity="0.8"/>
<path d="M394.62 210.82L398.82 208.51L398.82 213.13Z" fill="#800080"/>
<path d="M398.3 206.68L402.5 204.37L402.5 208.99Z" fill="#800080"/>
<path d="M401.99 202.53L406.19 200.22L406.19 204.84Z" fill="#800080"/>
<path d="M405.68 196.72L409.88 194.41L409.88 199.03Z" fill="#800080"/>
<path d="M409.36 191.74L413.56 189.43L413.56 194.05Z" fill="#800080"/>
<path d="M413.05 185.79L417.25 183.48L417.25 188.1Z" fill="#800080"/>
<path d="M416.73 179.46L420.93 177.15L420.93 181.77Z" fill="#800080"/>
<path d="M420.42 172.73L424.62 170.42L424.62 175.04Z" fill="#800080"/>
<path d="M424.1 164.62L428.3 162.31L428.3 166.93Z" fill="#800080"/>
<path d="M427.79 156.41L431.99 154.1L431.99 158.72Z" fill="#800080"/>
<path d="M431.48 148.6L435.68 146.29L435.68 150.91Z" fill="#800080"/>
<path d="M435.16 141.26L439.36 138.95L439.36 143.57Z" fill="#800080"/>
<path d="M438.85 133.29L443.05 130.98L443.05 135.6Z" fill="#800080"/>
<path d="M442.53 126.5L446.73 124.19L446.73 128.81Z" fill="#800080"/>
<path d="M446.22 120.33L450.42 118.02L450.42 122.64Z" fill="#800080"/>
<path d="M449.9 114.93L454.1 112.62L454.1 117.24Z" fill="#800080"/>
<path d="M453.59 110.17L457.79 107.86L457.79 112.48Z" fill="#800080"/>
<path d="M457.28 106.25L461.48 103.94L461.48 108.56Z" fill="#800080"/>
<path d="M460.96 103.19L465.16 100.88L465.16 105.5Z" fill="#800080"/>
<path d="M464.65 100.82L468.85 98.51L468.85 103.13Z" fill="#800080"/>
<path d="M468.33 99.28L472.53 96.97L472.53 101.59Z" fill="#800080"/>
<path d="M472.02 98.01L476.22 95.7L476.22 100.32Z" fill="#800080"/>
<path d="M475.7 96.97L479.9 94.66L479.9 99.28Z" fill="#800080"/>
<path d="M479.39 96.08L483.59 93.77L483.59 98.39Z" fill="#800080"/>
<path d="M483.08 95.08L487.28 92.77L487.28 97.39Z" fill="#800080"/>
<path d="M486.76 93.82L490.96 91.51L490.96 96.13Z" fill="#800080"/>
<path d="M490.45 92.27L494.65 89.96L494.65 94.58Z" fill="#800080"/>
<path d="M494.13 90.63L498.33 88.32L498.33 92.94Z" fill="#800080"/>
<path d="M497.82 88.5L502.02 86.19L502.02 90.81Z" fill="#800080"/>
<path d="M501.5 85.16L505.7 82.85L505.7 87.47Z" fill="#800080"/>
<path d="M505.19 80.55L509.39 78.24L509.39 82.86Z" fill="#800080"/>
<path d="M508.88 74.77L513.08 72.46L513.08 77.08Z" fill="#800080"/>
<path d="M512.56 69.26L516.76 66.95L516.76 71.57Z" fill="#800080"/>
<path d="M516.25 64.39L520.45 62.08L520.45 66.7Z" fill="#800080"/>
<path d="M519.93 60.25L524.13 57.94L524.13 62.56Z" fill="#800080"/>
<path d="M523.62 55.55L527.82 53.24L527.82 57.86Z" fill="#800080"/>
<path d="M527.3 51.79L531.5 49.48L531.5 54.1Z" fill="#800080"/>
<path d="M530.99 49.9L535.19 47.59L535.19 52.21Z" fill="#800080"/>
<path d="M534.68 48.9L538.88 46.59L538.88 51.21Z" fill="#800080"/>
<path d="M538.36 48.42L542.56 46.11L542.56 50.73Z" fill="#800080"/>
<path d="M542.05 48.43L546.25 46.12L546.25 50.74Z" fill="#800080"/>
<path d="M545.73 49.06L549.93 46.75L549.93 51.37Z" fill="#800080"/>
<path d="M549.42 49.99L553.62 47.68L553.62 52.3Z" fill="#800080"/>
<path d="M553.1 51.08L557.3 48.77L557.3 53.39Z" fill="#800080"/>
<path d="M556.79 52.12L560.99 49.81L560.99 54.43Z" fill="#800080"/>
<path d="M560.48 52.94L564.68 50.63L564.68 55.25Z" fill="#800080"/>
<path d="M564.16 53.61L568.36 51.3L568.36 55.92Z" fill="#800080"/>
<path d="M567.85 54.19L572.05 51.88L572.05 56.5Z" fill="#800080"/>
<path d="M571.53 54.72L575.73 52.41L575.73 57.03Z" fill="#800080"/>
<path d="M575.22 55.23L579.42 52.92L579.42 57.54Z" fill="#800080"/>
<path d="M578.9 62.16L583.1 59.85L583.1 64.47Z" fill="#800080"/>
<path d="M582.59 61.59L586.79 59.28L586.79 63.9Z" fill="#800080"/>
<path d="M586.28 60.92L590.48 58.61L590.48 63.23Z" fill="#800080"/>
<path d="M589.96 59.96L594.16 57.65L594.16 62.27Z" fill="#800080"/>
<path d="M593.65 58.51L597.85 56.2L597.85 60.82Z" fill="#800080"/>
<path d="M597.33 56.57L601.53 54.26L601.53 58.88Z" fill="#800080"/>
<path d="M601.02 54.33L605.22 52.02L605.22 56.64Z" fill="#800080"/>
<path d="M604.7 51.49L608.9 49.18L608.9 53.8Z" fill="#800080"/>
<path d="M608.39 46.92L612.59 44.61L612.59 49.23Z" fill="#800080"/>
<path d="M615.76 44.39L619.96 42.08L619.96 46.7Z" fill="#800080"/>
<path d="M619.45 41.55L623.65 39.24L623.65 43.86Z" fill="#800080"/>
<path d="M623.13 38.88L627.33 36.57L627.33 41.19Z" fill="#800080"/>
<path d="M626.82 36.59L631.02 34.28L631.02 38.9Z" fill="#800080"/>
<path d="M630.5 34.52L634.7 32.21L634.7 36.83Z" fill="#800080"/>
<path d="M634.19 32.5L638.39 30.19L638.39 34.81Z" fill="#800080"/>
<path d="M378.5 20 L379.78 19.99 L381.5 19.98 L383.54 19.96 L385.81 19.94 L388.2 19.93 L390.59 19.93 L392.9 19.95 L395 20 L396.95 20.06 L398.86 20.14 L400.73 20.22 L402.59 20.32 L404.44 20.45 L406.29 20.6 L408.14 20.78 L410 21 L411.88 21.24 L413.75 21.51 L415.62 21.79 L417.5 22.11 L419.38 22.46 L421.25 22.85 L423.12 23.3 L425 23.8 L426.88 24.35 L428.75 24.94 L430.62 25.58 L432.5 26.26 L434.38 26.99 L436.25 27.78 L438.12 28.61 L440 29.5 L441.88 30.46 L443.75 31.49 L445.62 32.59 L447.5 33.73 L449.38 34.91 L451.25 36.1 L453.12 37.3 L455 38.5 L456.88 39.7 L458.75 40.91 L460.62 42.13 L462.5 43.38 L464.38 44.63 L466.25 45.91 L468.12 47.2 L470 48.5 L471.88 49.82 L473.75 51.17 L475.62 52.53 L477.5 53.91 L479.38 55.29 L481.25 56.69 L483.12 58.09 L485 59.5 L486.88 60.9 L488.75 62.29 L490.62 63.69 L492.5 65.09 L494.38 66.52 L496.25 67.97 L498.12 69.46 L500 71 L501.88 72.56 L503.75 74.12 L505.62 75.71 L507.5 77.33 L509.38 79 L511.25 80.74 L513.12 82.57 L515 84.5 L516.84 86.55 L518.63 88.73 L520.41 90.99 L522.19 93.32 L524.01 95.69 L525.9 98.08 L527.89 100.46 L530 102.8 L532.26 105.14 L534.65 107.52 L537.13 109.91 L539.69 112.31 L542.28 114.7 L544.88 117.05 L547.47 119.36 L550 121.6 L552.5 123.77 L555 125.89 L557.5 127.96 L560 129.99 L562.5 132.01 L565 134.03 L567.5 136.05 L570 138.1 L572.57 140.22 L575.23 142.41 L577.94 144.64 L580.62 146.85 L583.23 149 L585.7 151.04 L587.98 152.92 L590 154.6 L591.69 156.02 L593.09 157.19 L594.26 158.2 L595.31 159.1 L596.32 159.97 L597.38 160.88 L598.58 161.9 L600 163.1 L601.64 164.46 L603.4 165.91 L605.26 167.43 L607.19 169.01 L609.16 170.63 L611.13 172.28 L613.09 173.94 L615 175.6 L616.93 177.33 L618.95 179.18 L621 181.09 L623.03 183.01 L625 184.87 L626.85 186.63 L628.53 188.22 L630 189.6 L631.26 190.77 L632.38 191.8 L633.35 192.7 L634.19 193.47 L634.91 194.14 L635.53 194.71 L636.06 195.19 L636.5 195.6" fill="none" stroke="#800000" stroke-width="0.7" stroke-opacity="1"/>
<path d="M378.5 16.94L379.29 18.91L381.41 19.05L379.78 20.42L380.3 22.48L378.5 21.35L376.7 22.48L377.22 20.42L375.59 19.05L377.71 18.91Z" fill="#800000"/>
<path d="M382.19 16.91L382.98 18.88L385.1 19.02L383.47 20.39L383.99 22.45L382.19 21.32L380.39 22.45L380.9 20.39L379.27 19.02L381.39 18.88Z" fill="#800000"/>
<path d="M385.87 16.87L386.66 18.85L388.78 18.99L387.15 20.35L387.67 22.41L385.87 21.28L384.07 22.41L384.59 20.35L382.96 18.99L385.08 18.85Z" fill="#800000"/>
<path d="M389.56 16.86L390.35 18.84L392.47 18.98L390.84 20.34L391.36 22.4L389.56 21.27L387.76 22.4L388.28 20.34L386.64 18.98L388.77 18.84Z" fill="#800000"/>
<path d="M393.24 16.9L394.03 18.87L396.16 19.01L394.52 20.37L395.04 22.44L393.24 21.31L391.44 22.44L391.96 20.37L390.33 19.01L392.45 18.87Z" fill="#800000"/>
<path d="M396.93 17L397.72 18.97L399.84 19.12L398.21 20.48L398.73 22.54L396.93 21.41L395.13 22.54L395.65 20.48L394.02 19.12L396.14 18.97Z" fill="#800000"/>
<path d="M400.61 17.16L401.41 19.13L403.53 19.27L401.9 20.63L402.41 22.7L400.61 21.57L398.81 22.7L399.33 20.63L397.7 19.27L399.82 19.13Z" fill="#800000"/>
<path d="M404.3 17.38L405.09 19.35L407.21 19.49L405.58 20.86L406.1 22.92L404.3 21.79L402.5 22.92L403.02 20.86L401.39 19.49L403.51 19.35Z" fill="#800000"/>
<path d="M407.99 17.71L408.78 19.68L410.9 19.82L409.27 21.18L409.79 23.25L407.99 22.12L406.19 23.25L406.7 21.18L405.07 19.82L407.19 19.68Z" fill="#800000"/>
<path d="M411.67 18.15L412.46 20.13L414.58 20.27L412.95 21.63L413.47 23.7L411.67 22.56L409.87 23.7L410.39 21.63L408.76 20.27L410.88 20.13Z" fill="#800000"/>
<path d="M415.36 18.69L416.15 20.66L418.27 20.8L416.64 22.17L417.16 24.23L415.36 23.1L413.56 24.23L414.08 22.17L412.44 20.8L414.57 20.66Z" fill="#800000"/>
<path d="M419.04 19.33L419.83 21.3L421.96 21.45L420.32 22.81L420.84 24.87L419.04 23.74L417.24 24.87L417.76 22.81L416.13 21.45L418.25 21.3Z" fill="#800000"/>
<path d="M422.73 20.14L423.52 22.11L425.64 22.26L424.01 23.62L424.53 25.68L422.73 24.55L420.93 25.68L421.45 23.62L419.82 22.26L421.94 22.11Z" fill="#800000"/>
<path d="M426.41 21.15L427.21 23.12L429.33 23.27L427.7 24.63L428.21 26.69L426.41 25.56L424.61 26.69L425.13 24.63L423.5 23.27L425.62 23.12Z" fill="#800000"/>
<path d="M430.1 22.34L430.89 24.31L433.01 24.45L431.38 25.82L431.9 27.88L430.1 26.75L428.3 27.88L428.82 25.82L427.19 24.45L429.31 24.31Z" fill="#800000"/>
<path d="M433.79 23.7L434.58 25.67L436.7 25.81L435.07 27.18L435.59 29.24L433.79 28.11L431.99 29.24L432.5 27.18L430.87 25.81L432.99 25.67Z" fill="#800000"/>
<path d="M437.47 25.25L438.26 27.23L440.38 27.37L438.75 28.73L439.27 30.79L437.47 29.66L435.67 30.79L436.19 28.73L434.56 27.37L436.68 27.23Z" fill="#800000"/>
<path d="M441.16 27.03L441.95 29L444.07 29.14L442.44 30.5L442.96 32.57L441.16 31.44L439.36 32.57L439.88 30.5L438.24 29.14L440.37 29Z" fill="#800000"/>
<path d="M444.84 29.07L445.63 31.04L447.76 31.18L446.12 32.55L446.64 34.61L444.84 33.48L443.04 34.61L443.56 32.55L441.93 31.18L444.05 31.04Z" fill="#800000"/>
<path d="M448.53 31.31L449.32 33.28L451.44 33.43L449.81 34.79L450.33 36.85L448.53 35.72L446.73 36.85L447.25 34.79L445.62 33.43L447.74 33.28Z" fill="#800000"/>
<path d="M452.21 33.66L453.01 35.63L455.13 35.77L453.5 37.14L454.01 39.2L452.21 38.07L450.41 39.2L450.93 37.14L449.3 35.77L451.42 35.63Z" fill="#800000"/>
<path d="M455.9 36.01L456.69 37.98L458.81 38.13L457.18 39.49L457.7 41.55L455.9 40.42L454.1 41.55L454.62 39.49L452.99 38.13L455.11 37.98Z" fill="#800000"/>
<path d="M459.59 38.39L460.38 40.36L462.5 40.5L460.87 41.87L461.39 43.93L459.59 42.8L457.79 43.93L458.3 41.87L456.67 40.5L458.79 40.36Z" fill="#800000"/>
<path d="M463.27 40.83L464.06 42.8L466.18 42.95L464.55 44.31L465.07 46.37L463.27 45.24L461.47 46.37L461.99 44.31L460.36 42.95L462.48 42.8Z" fill="#800000"/>
<path d="M466.96 43.33L467.75 45.3L469.87 45.44L468.24 46.81L468.76 48.87L466.96 47.74L465.16 48.87L465.68 46.81L464.04 45.44L466.17 45.3Z" fill="#800000"/>
<path d="M470.64 45.89L471.43 47.86L473.56 48.01L471.92 49.37L472.44 51.43L470.64 50.3L468.84 51.43L469.36 49.37L467.73 48.01L469.85 47.86Z" fill="#800000"/>
<path d="M474.33 48.52L475.12 50.5L477.24 50.64L475.61 52L476.13 54.06L474.33 52.93L472.53 54.06L473.05 52L471.42 50.64L473.54 50.5Z" fill="#800000"/>
<path d="M478.01 51.22L478.81 53.2L480.93 53.34L479.3 54.7L479.81 56.76L478.01 55.63L476.21 56.76L476.73 54.7L475.1 53.34L477.22 53.2Z" fill="#800000"/>
<path d="M481.7 53.97L482.49 55.94L484.61 56.08L482.98 57.44L483.5 59.51L481.7 58.38L479.9 59.51L480.42 57.44L478.79 56.08L480.91 55.94Z" fill="#800000"/>
<path d="M485.39 56.73L486.18 58.7L488.3 58.84L486.67 60.2L487.19 62.27L485.39 61.14L483.59 62.27L484.1 60.2L482.47 58.84L484.59 58.7Z" fill="#800000"/>
<path d="M489.07 59.47L489.86 61.44L491.98 61.59L490.35 62.95L490.87 65.01L489.07 63.88L487.27 65.01L487.79 62.95L486.16 61.59L488.28 61.44Z" fill="#800000"/>
<path d="M492.76 62.23L493.55 64.2L495.67 64.34L494.04 65.71L494.56 67.77L492.76 66.64L490.96 67.77L491.48 65.71L489.84 64.34L491.97 64.2Z" fill="#800000"/>
<path d="M496.44 65.06L497.23 67.04L499.36 67.18L497.72 68.54L498.24 70.6L496.44 69.47L494.64 70.6L495.16 68.54L493.53 67.18L495.65 67.04Z" fill="#800000"/>
<path d="M500.13 68.04L500.92 70.02L503.04 70.16L501.41 71.52L501.93 73.58L500.13 72.45L498.33 73.58L498.85 71.52L497.22 70.16L499.34 70.02Z" fill="#800000"/>
<path d="M503.81 71.11L504.61 73.09L506.73 73.23L505.1 74.59L505.61 76.65L503.81 75.52L502.01 76.65L502.53 74.59L500.9 73.23L503.02 73.09Z" fill="#800000"/>
<path d="M507.5 74.26L508.29 76.23L510.41 76.38L508.78 77.74L509.3 79.8L507.5 78.67L505.7 79.8L506.22 77.74L504.59 76.38L506.71 76.23Z" fill="#800000"/>
<path d="M511.19 77.62L511.98 79.6L514.1 79.74L512.47 81.1L512.99 83.16L511.19 82.03L509.39 83.16L509.9 81.1L508.27 79.74L510.39 79.6Z" fill="#800000"/>
<path d="M514.87 81.3L515.66 83.28L517.78 83.42L516.15 84.78L516.67 86.84L514.87 85.71L513.07 86.84L513.59 84.78L511.96 83.42L514.08 83.28Z" fill="#800000"/>
<path d="M518.56 85.58L519.35 87.55L521.47 87.69L519.84 89.06L520.36 91.12L518.56 89.99L516.76 91.12L517.28 89.06L515.64 87.69L517.77 87.55Z" fill="#800000"/>
<path d="M522.24 90.33L523.03 92.3L525.16 92.44L523.52 93.81L524.04 95.87L522.24 94.74L520.44 95.87L520.96 93.81L519.33 92.44L521.45 92.3Z" fill="#800000"/>
<path d="M525.93 95.04L526.72 97.01L528.84 97.16L527.21 98.52L527.73 100.58L525.93 99.45L524.13 100.58L524.65 98.52L523.02 97.16L525.14 97.01Z" fill="#800000"/>
<path d="M529.61 99.31L530.41 101.29L532.53 101.43L530.9 102.79L531.41 104.85L529.61 103.72L527.81 104.85L528.33 102.79L526.7 101.43L528.82 101.29Z" fill="#800000"/>
<path d="M533.3 103.12L534.09 105.09L536.21 105.24L534.58 106.6L535.1 108.66L533.3 107.53L531.5 108.66L532.02 106.6L530.39 105.24L532.51 105.09Z" fill="#800000"/>
<path d="M536.99 106.71L537.78 108.68L539.9 108.82L538.27 110.19L538.79 112.25L536.99 111.12L535.19 112.25L535.7 110.19L534.07 108.82L536.19 108.68Z" fill="#800000"/>
<path d="M540.67 110.16L541.46 112.13L543.58 112.27L541.95 113.64L542.47 115.7L540.67 114.57L538.87 115.7L539.39 113.64L537.76 112.27L539.88 112.13Z" fill="#800000"/>
<path d="M544.36 113.51L545.15 115.49L547.27 115.63L545.64 116.99L546.16 119.05L544.36 117.92L542.56 119.05L543.08 116.99L541.44 115.63L543.57 115.49Z" fill="#800000"/>
<path d="M548.04 116.81L548.83 118.78L550.96 118.92L549.32 120.29L549.84 122.35L548.04 121.22L546.24 122.35L546.76 120.29L545.13 118.92L547.25 118.78Z" fill="#800000"/>
<path d="M551.73 120.04L552.52 122.02L554.64 122.16L553.01 123.52L553.53 125.58L551.73 124.45L549.93 125.58L550.45 123.52L548.82 122.16L550.94 122.02Z" fill="#800000"/>
<path d="M555.41 123.17L556.21 125.14L558.33 125.28L556.7 126.65L557.21 128.71L555.41 127.58L553.61 128.71L554.13 126.65L552.5 125.28L554.62 125.14Z" fill="#800000"/>
<path d="M559.1 126.2L559.89 128.17L562.01 128.31L560.38 129.68L560.9 131.74L559.1 130.61L557.3 131.74L557.82 129.68L556.19 128.31L558.31 128.17Z" fill="#800000"/>
<path d="M562.79 129.18L563.58 131.15L565.7 131.3L564.07 132.66L564.59 134.72L562.79 133.59L560.99 134.72L561.5 132.66L559.87 131.3L561.99 131.15Z" fill="#800000"/>
<path d="M566.47 132.16L567.26 134.13L569.38 134.27L567.75 135.64L568.27 137.7L566.47 136.57L564.67 137.7L565.19 135.64L563.56 134.27L565.68 134.13Z" fill="#800000"/>
<path d="M570.16 135.17L570.95 137.14L573.07 137.28L571.44 138.65L571.96 140.71L570.16 139.58L568.36 140.71L568.88 138.65L567.24 137.28L569.37 137.14Z" fill="#800000"/>
<path d="M573.84 138.2L574.63 140.18L576.76 140.32L575.12 141.68L575.64 143.74L573.84 142.61L572.04 143.74L572.56 141.68L570.93 140.32L573.05 140.18Z" fill="#800000"/>
<path d="M577.53 141.24L578.32 143.21L580.44 143.35L578.81 144.72L579.33 146.78L577.53 145.65L575.73 146.78L576.25 144.72L574.62 143.35L576.74 143.21Z" fill="#800000"/>
<path d="M581.21 144.27L582.01 146.25L584.13 146.39L582.5 147.75L583.01 149.81L581.21 148.68L579.41 149.81L579.93 147.75L578.3 146.39L580.42 146.25Z" fill="#800000"/>
<path d="M584.9 147.31L585.69 149.28L587.81 149.43L586.18 150.79L586.7 152.85L584.9 151.72L583.1 152.85L583.62 150.79L581.99 149.43L584.11 149.28Z" fill="#800000"/>
<path d="M588.59 150.36L589.38 152.33L591.5 152.48L589.87 153.84L590.39 155.9L588.59 154.77L586.79 155.9L587.3 153.84L585.67 152.48L587.79 152.33Z" fill="#800000"/>
<path d="M592.27 153.44L593.06 155.41L595.18 155.56L593.55 156.92L594.07 158.98L592.27 157.85L590.47 158.98L590.99 156.92L589.36 155.56L591.48 155.41Z" fill="#800000"/>
<path d="M595.96 156.59L596.75 158.57L598.87 158.71L597.24 160.07L597.76 162.13L595.96 161L594.16 162.13L594.68 160.07L593.04 158.71L595.17 158.57Z" fill="#800000"/>
<path d="M599.64 159.74L600.43 161.71L602.56 161.85L600.92 163.22L601.44 165.28L599.64 164.15L597.84 165.28L598.36 163.22L596.73 161.85L598.85 161.71Z" fill="#800000"/>
<path d="M603.33 162.79L604.12 164.76L606.24 164.9L604.61 166.27L605.13 168.33L603.33 167.2L601.53 168.33L602.05 166.27L600.42 164.9L602.54 164.76Z" fill="#800000"/>
<path d="M607.01 165.8L607.81 167.77L609.93 167.92L608.3 169.28L608.81 171.34L607.01 170.21L605.21 171.34L605.73 169.28L604.1 167.92L606.22 167.77Z" fill="#800000"/>
<path d="M610.7 168.85L611.49 170.82L613.61 170.97L611.98 172.33L612.5 174.39L610.7 173.26L608.9 174.39L609.42 172.33L607.79 170.97L609.91 170.82Z" fill="#800000"/>
<path d="M614.39 172L615.18 173.97L617.3 174.12L615.67 175.48L616.19 177.54L614.39 176.41L612.59 177.54L613.1 175.48L611.47 174.12L613.59 173.97Z" fill="#800000"/>
<path d="M618.07 175.31L618.86 177.28L620.98 177.43L619.35 178.79L619.87 180.85L618.07 179.72L616.27 180.85L616.79 178.79L615.16 177.43L617.28 177.28Z" fill="#800000"/>
<path d="M621.76 178.74L622.55 180.71L624.67 180.86L623.04 182.22L623.56 184.28L621.76 183.15L619.96 184.28L620.48 182.22L618.84 180.86L620.97 180.71Z" fill="#800000"/>
<path d="M625.44 182.23L626.23 184.2L628.36 184.35L626.72 185.71L627.24 187.77L625.44 186.64L623.64 187.77L624.16 185.71L622.53 184.35L624.65 184.2Z" fill="#800000"/>
<path d="M629.13 185.72L629.92 187.69L632.04 187.84L630.41 189.2L630.93 191.26L629.13 190.13L627.33 191.26L627.85 189.2L626.22 187.84L628.34 187.69Z" fill="#800000"/>
<path d="M632.81 189.15L633.61 191.12L635.73 191.26L634.1 192.63L634.61 194.69L632.81 193.56L631.01 194.69L631.53 192.63L629.9 191.26L632.02 191.12Z" fill="#800000"/>
<path d="M636.5 192.54L637.29 194.51L639.41 194.65L637.78 196.02L638.3 198.08L636.5 196.95L634.7 198.08L635.22 196.02L633.59 194.65L635.71 194.51Z" fill="#800000"/>
<path d="M392.5 212.5 L392.69 212.09 L392.92 211.55 L393.2 210.91 L393.51 210.19 L393.87 209.43 L394.27 208.66 L394.71 207.9 L395.2 207.2 L395.76 206.53 L396.4 205.85 L397.11 205.16 L397.85 204.47 L398.6 203.79 L399.32 203.12 L400 202.45 L400.6 201.8 L401.13 201.17 L401.6 200.55 L402.03 199.94 L402.44 199.34 L402.84 198.74 L403.24 198.14 L403.66 197.53 L404.1 196.9 L404.56 196.27 L405.01 195.66 L405.46 195.04 L405.93 194.42 L406.4 193.77 L406.9 193.1 L407.43 192.38 L408 191.6 L408.61 190.79 L409.24 189.96 L409.91 189.1 L410.6 188.21 L411.31 187.26 L412.03 186.25 L412.76 185.17 L413.5 184 L414.26 182.72 L415.04 181.34 L415.85 179.87 L416.67 178.34 L417.48 176.78 L418.28 175.22 L419.06 173.68 L419.8 172.2 L420.5 170.76 L421.18 169.34 L421.83 167.93 L422.47 166.52 L423.1 165.12 L423.73 163.7 L424.36 162.26 L425 160.8 L425.66 159.27 L426.34 157.66 L427.02 156.01 L427.7 154.36 L428.37 152.76 L429.01 151.23 L429.63 149.83 L430.2 148.6 L430.73 147.56 L431.21 146.68 L431.66 145.92 L432.09 145.25 L432.51 144.62 L432.93 144 L433.36 143.34 L433.8 142.6 L434.26 141.81 L434.71 141.01 L435.17 140.2 L435.62 139.38 L436.09 138.55 L436.55 137.71 L437.02 136.86 L437.5 136 L437.98 135.12 L438.48 134.23 L438.97 133.32 L439.48 132.4 L439.98 131.48 L440.49 130.57 L440.99 129.68 L441.5 128.8 L442 127.95 L442.5 127.11 L443 126.28 L443.49 125.46 L444 124.65 L444.52 123.84 L445.05 123.02 L445.6 122.2 L446.17 121.37 L446.77 120.55 L447.38 119.72 L448 118.89 L448.63 118.06 L449.26 117.24 L449.88 116.42 L450.5 115.6 L451.12 114.78 L451.74 113.95 L452.37 113.12 L453 112.29 L453.62 111.47 L454.23 110.68 L454.83 109.92 L455.4 109.2 L455.95 108.51 L456.48 107.85 L457 107.22 L457.5 106.61 L458 106.03 L458.49 105.46 L458.99 104.92 L459.5 104.4 L460 103.91 L460.47 103.46 L460.94 103.03 L461.41 102.63 L461.89 102.23 L462.41 101.83 L462.98 101.43 L463.6 101 L464.27 100.56 L464.95 100.1 L465.67 99.65 L466.43 99.19 L467.24 98.73 L468.09 98.28 L469.01 97.83 L470 97.4 L471.08 96.98 L472.26 96.58 L473.51 96.18 L474.81 95.79 L476.13 95.4 L477.45 95 L478.75 94.61 L480 94.2 L481.2 93.79 L482.39 93.4 L483.56 93 L484.72 92.6 L485.89 92.19 L487.07 91.75 L488.27 91.29 L489.5 90.8 L490.8 90.28 L492.16 89.73 L493.56 89.16 L494.97 88.56 L496.35 87.95 L497.67 87.32 L498.9 86.67 L500 86 L500.97 85.33 L501.83 84.65 L502.61 83.95 L503.32 83.24 L504 82.49 L504.65 81.71 L505.31 80.88 L506 80 L506.69 79.05 L507.36 78.04 L508.02 76.98 L508.67 75.89 L509.31 74.77 L509.96 73.64 L510.62 72.51 L511.3 71.4 L511.99 70.28 L512.69 69.14 L513.4 67.98 L514.12 66.83 L514.84 65.68 L515.56 64.55 L516.28 63.45 L517 62.4 L517.73 61.38 L518.48 60.39 L519.24 59.42 L519.99 58.47 L520.74 57.56 L521.46 56.67 L522.15 55.82 L522.8 55 L523.4 54.21 L523.97 53.46 L524.5 52.74 L525.01 52.04 L525.51 51.38 L526 50.76 L526.5 50.16 L527 49.6 L527.5 49.08 L527.98 48.59 L528.44 48.15 L528.91 47.73 L529.39 47.34 L529.89 46.98 L530.42 46.63 L531 46.3 L531.61 45.99 L532.25 45.69 L532.91 45.42 L533.6 45.17 L534.31 44.95 L535.05 44.74 L535.81 44.56 L536.6 44.4 L537.42 44.25 L538.29 44.12 L539.18 44.01 L540.1 43.92 L541.03 43.86 L541.96 43.83 L542.89 43.84 L543.8 43.9 L544.69 44.01 L545.58 44.17 L546.46 44.37 L547.34 44.6 L548.23 44.86 L549.13 45.13 L550.05 45.42 L551 45.7 L551.98 46 L552.98 46.33 L554 46.68 L555.04 47.04 L556.08 47.4 L557.13 47.75 L558.17 48.09 L559.2 48.4 L560.21 48.68 L561.19 48.94 L562.17 49.17 L563.15 49.41 L564.15 49.64 L565.18 49.87 L566.26 50.13 L567.4 50.4 L568.68 50.71 L570.13 51.07 L571.67 51.45 L573.21 51.82 L574.7 52.19 L576.04 52.52 L577.17 52.8 L578 53" fill="none" stroke="#800000" stroke-width="0.7" stroke-opacity="1"/>
<path d="M581 61.7 L581.71 61.57 L582.66 61.41 L583.8 61.22 L585.06 61.01 L586.38 60.77 L587.68 60.52 L588.91 60.26 L590 60 L590.96 59.75 L591.84 59.51 L592.68 59.26 L593.5 59 L594.32 58.71 L595.16 58.37 L596.04 57.97 L597 57.5 L598.06 56.94 L599.2 56.31 L600.4 55.62 L601.62 54.89 L602.83 54.12 L603.98 53.34 L605.05 52.56 L606 51.8 L606.83 51.04 L607.58 50.25 L608.26 49.45 L608.88 48.64 L609.45 47.83 L609.98 47.03 L610.5 46.25 L611 45.5 L611.49 44.74 L611.96 43.94 L612.4 43.14 L612.81 42.36 L613.18 41.62 L613.51 40.97 L613.78 40.42 L614 40" fill="none" stroke="#800000" stroke-width="0.7" stroke-opacity="1"/>
<path d="M616 45 L616.77 44.36 L617.79 43.49 L619 42.46 L620.34 41.31 L621.77 40.12 L623.23 38.93 L624.66 37.8 L626 36.8 L627.36 35.85 L628.84 34.88 L630.36 33.92 L631.88 32.99 L633.31 32.12 L634.6 31.35 L635.69 30.7 L636.5 30.2" fill="none" stroke="#800000" stroke-width="0.7" stroke-opacity="1"/>
<path d="M578 53 L581 61.7" fill="none" stroke="#800000" stroke-width="0.6" stroke-opacity="0.8"/>
<path d="M614 40 L616 45" fill="none" stroke="#800000" stroke-width="0.6" stroke-opacity="0.8"/>
<path d="M393.24 207.73L394.03 209.71L396.16 209.85L394.52 211.21L395.04 213.27L393.24 212.14L391.44 213.27L391.96 211.21L390.33 209.85L392.45 209.71Z" fill="#800000"/>
<path d="M396.93 202.27L397.72 204.25L399.84 204.39L398.21 205.75L398.73 207.81L396.93 206.68L395.13 207.81L395.65 205.75L394.02 204.39L396.14 204.25Z" fill="#800000"/>
<path d="M400.61 198.72L401.41 200.69L403.53 200.84L401.9 202.2L402.41 204.26L400.61 203.13L398.81 204.26L399.33 202.2L397.7 200.84L399.82 200.69Z" fill="#800000"/>
<path d="M404.3 193.56L405.09 195.54L407.21 195.68L405.58 197.04L406.1 199.1L404.3 197.97L402.5 199.1L403.02 197.04L401.39 195.68L403.51 195.54Z" fill="#800000"/>
<path d="M407.99 188.56L408.78 190.53L410.9 190.67L409.27 192.04L409.79 194.1L407.99 192.97L406.19 194.1L406.7 192.04L405.07 190.67L407.19 190.53Z" fill="#800000"/>
<path d="M411.67 183.69L412.46 185.67L414.58 185.81L412.95 187.17L413.47 189.23L411.67 188.1L409.87 189.23L410.39 187.17L408.76 185.81L410.88 185.67Z" fill="#800000"/>
<path d="M415.36 177.71L416.15 179.68L418.27 179.83L416.64 181.19L417.16 183.25L415.36 182.12L413.56 183.25L414.08 181.19L412.44 179.83L414.57 179.68Z" fill="#800000"/>
<path d="M419.04 170.65L419.83 172.63L421.96 172.77L420.32 174.13L420.84 176.19L419.04 175.06L417.24 176.19L417.76 174.13L416.13 172.77L418.25 172.63Z" fill="#800000"/>
<path d="M422.73 162.88L423.52 164.85L425.64 165L424.01 166.36L424.53 168.42L422.73 167.29L420.93 168.42L421.45 166.36L419.82 165L421.94 164.85Z" fill="#800000"/>
<path d="M426.41 154.41L427.21 156.38L429.33 156.53L427.7 157.89L428.21 159.95L426.41 158.82L424.61 159.95L425.13 157.89L423.5 156.53L425.62 156.38Z" fill="#800000"/>
<path d="M430.1 145.75L430.89 147.72L433.01 147.87L431.38 149.23L431.9 151.29L430.1 150.16L428.3 151.29L428.82 149.23L427.19 147.87L429.31 147.72Z" fill="#800000"/>
<path d="M433.79 139.56L434.58 141.53L436.7 141.68L435.07 143.04L435.59 145.1L433.79 143.97L431.99 145.1L432.5 143.04L430.87 141.68L432.99 141.53Z" fill="#800000"/>
<path d="M437.47 132.99L438.26 134.96L440.38 135.1L438.75 136.47L439.27 138.53L437.47 137.4L435.67 138.53L436.19 136.47L434.56 135.1L436.68 134.96Z" fill="#800000"/>
<path d="M441.16 126.33L441.95 128.3L444.07 128.44L442.44 129.81L442.96 131.87L441.16 130.74L439.36 131.87L439.88 129.81L438.24 128.44L440.37 128.3Z" fill="#800000"/>
<path d="M444.84 120.27L445.63 122.24L447.76 122.39L446.12 123.75L446.64 125.81L444.84 124.68L443.04 125.81L443.56 123.75L441.93 122.39L444.05 122.24Z" fill="#800000"/>
<path d="M448.53 115.13L449.32 117.1L451.44 117.24L449.81 118.61L450.33 120.67L448.53 119.54L446.73 120.67L447.25 118.61L445.62 117.24L447.74 117.1Z" fill="#800000"/>
<path d="M452.21 110.26L453.01 112.23L455.13 112.38L453.5 113.74L454.01 115.8L452.21 114.67L450.41 115.8L450.93 113.74L449.3 112.38L451.42 112.23Z" fill="#800000"/>
<path d="M455.9 105.51L456.69 107.49L458.81 107.63L457.18 108.99L457.7 111.05L455.9 109.92L454.1 111.05L454.62 108.99L452.99 107.63L455.11 107.49Z" fill="#800000"/>
<path d="M459.59 101.25L460.38 103.22L462.5 103.37L460.87 104.73L461.39 106.79L459.59 105.66L457.79 106.79L458.3 104.73L456.67 103.37L458.79 103.22Z" fill="#800000"/>
<path d="M463.27 98.16L464.06 100.13L466.18 100.28L464.55 101.64L465.07 103.7L463.27 102.57L461.47 103.7L461.99 101.64L460.36 100.28L462.48 100.13Z" fill="#800000"/>
<path d="M466.96 95.82L467.75 97.8L469.87 97.94L468.24 99.3L468.76 101.36L466.96 100.23L465.16 101.36L465.68 99.3L464.04 97.94L466.17 97.8Z" fill="#800000"/>
<path d="M470.64 94.09L471.43 96.06L473.56 96.2L471.92 97.56L472.44 99.63L470.64 98.5L468.84 99.63L469.36 97.56L467.73 96.2L469.85 96.06Z" fill="#800000"/>
<path d="M474.33 92.87L475.12 94.84L477.24 94.98L475.61 96.35L476.13 98.41L474.33 97.28L472.53 98.41L473.05 96.35L471.42 94.98L473.54 94.84Z" fill="#800000"/>
<path d="M478.01 91.77L478.81 93.74L480.93 93.89L479.3 95.25L479.81 97.31L478.01 96.18L476.21 97.31L476.73 95.25L475.1 93.89L477.22 93.74Z" fill="#800000"/>
<path d="M481.7 90.57L482.49 92.54L484.61 92.68L482.98 94.04L483.5 96.11L481.7 94.98L479.9 96.11L480.42 94.04L478.79 92.68L480.91 92.54Z" fill="#800000"/>
<path d="M485.39 89.3L486.18 91.27L488.3 91.42L486.67 92.78L487.19 94.84L485.39 93.71L483.59 94.84L484.1 92.78L482.47 91.42L484.59 91.27Z" fill="#800000"/>
<path d="M489.07 87.91L489.86 89.88L491.98 90.03L490.35 91.39L490.87 93.45L489.07 92.32L487.27 93.45L487.79 91.39L486.16 90.03L488.28 89.88Z" fill="#800000"/>
<path d="M492.76 86.42L493.55 88.39L495.67 88.54L494.04 89.9L494.56 91.96L492.76 90.83L490.96 91.96L491.48 89.9L489.84 88.54L491.97 88.39Z" fill="#800000"/>
<path d="M496.44 84.84L497.23 86.81L499.36 86.96L497.72 88.32L498.24 90.38L496.44 89.25L494.64 90.38L495.16 88.32L493.53 86.96L495.65 86.81Z" fill="#800000"/>
<path d="M500.13 82.85L500.92 84.82L503.04 84.97L501.41 86.33L501.93 88.39L500.13 87.26L498.33 88.39L498.85 86.33L497.22 84.97L499.34 84.82Z" fill="#800000"/>
<path d="M503.81 79.64L504.61 81.61L506.73 81.76L505.1 83.12L505.61 85.18L503.81 84.05L502.01 85.18L502.53 83.12L500.9 81.76L503.02 81.61Z" fill="#800000"/>
<path d="M507.5 74.76L508.29 76.73L510.41 76.88L508.78 78.24L509.3 80.3L507.5 79.17L505.7 80.3L506.22 78.24L504.59 76.88L506.71 76.73Z" fill="#800000"/>
<path d="M511.19 68.52L511.98 70.5L514.1 70.64L512.47 72L512.99 74.06L511.19 72.93L509.39 74.06L509.9 72L508.27 70.64L510.39 70.5Z" fill="#800000"/>
<path d="M514.87 62.56L515.66 64.53L517.78 64.68L516.15 66.04L516.67 68.1L514.87 66.97L513.07 68.1L513.59 66.04L511.96 64.68L514.08 64.53Z" fill="#800000"/>
<path d="M518.56 57.23L519.35 59.2L521.47 59.35L519.84 60.71L520.36 62.77L518.56 61.64L516.76 62.77L517.28 60.71L515.64 59.35L517.77 59.2Z" fill="#800000"/>
<path d="M522.24 52.64L523.03 54.61L525.16 54.76L523.52 56.12L524.04 58.18L522.24 57.05L520.44 58.18L520.96 56.12L519.33 54.76L521.45 54.61Z" fill="#800000"/>
<path d="M525.93 47.79L526.72 49.76L528.84 49.9L527.21 51.27L527.73 53.33L525.93 52.2L524.13 53.33L524.65 51.27L523.02 49.9L525.14 49.76Z" fill="#800000"/>
<path d="M529.61 44.11L530.41 46.09L532.53 46.23L530.9 47.59L531.41 49.65L529.61 48.52L527.81 49.65L528.33 47.59L526.7 46.23L528.82 46.09Z" fill="#800000"/>
<path d="M533.3 42.22L534.09 44.19L536.21 44.34L534.58 45.7L535.1 47.76L533.3 46.63L531.5 47.76L532.02 45.7L530.39 44.34L532.51 44.19Z" fill="#800000"/>
<path d="M536.99 41.27L537.78 43.24L539.9 43.38L538.27 44.75L538.79 46.81L536.99 45.68L535.19 46.81L535.7 44.75L534.07 43.38L536.19 43.24Z" fill="#800000"/>
<path d="M540.67 40.82L541.46 42.79L543.58 42.93L541.95 44.3L542.47 46.36L540.67 45.23L538.87 46.36L539.39 44.3L537.76 42.93L539.88 42.79Z" fill="#800000"/>
<path d="M544.36 40.9L545.15 42.87L547.27 43.02L545.64 44.38L546.16 46.44L544.36 45.31L542.56 46.44L543.08 44.38L541.44 43.02L543.57 42.87Z" fill="#800000"/>
<path d="M548.04 41.74L548.83 43.71L550.96 43.86L549.32 45.22L549.84 47.28L548.04 46.15L546.24 47.28L546.76 45.22L545.13 43.86L547.25 43.71Z" fill="#800000"/>
<path d="M551.73 42.86L552.52 44.83L554.64 44.97L553.01 46.34L553.53 48.4L551.73 47.27L549.93 48.4L550.45 46.34L548.82 44.97L550.94 44.83Z" fill="#800000"/>
<path d="M555.41 44.11L556.21 46.08L558.33 46.22L556.7 47.58L557.21 49.65L555.41 48.52L553.61 49.65L554.13 47.58L552.5 46.22L554.62 46.08Z" fill="#800000"/>
<path d="M559.1 45.31L559.89 47.28L562.01 47.42L560.38 48.79L560.9 50.85L559.1 49.72L557.3 50.85L557.82 48.79L556.19 47.42L558.31 47.28Z" fill="#800000"/>
<path d="M562.79 46.26L563.58 48.23L565.7 48.37L564.07 49.74L564.59 51.8L562.79 50.67L560.99 51.8L561.5 49.74L559.87 48.37L561.99 48.23Z" fill="#800000"/>
<path d="M566.47 47.11L567.26 49.09L569.38 49.23L567.75 50.59L568.27 52.65L566.47 51.52L564.67 52.65L565.19 50.59L563.56 49.23L565.68 49.09Z" fill="#800000"/>
<path d="M570.16 48.01L570.95 49.99L573.07 50.13L571.44 51.49L571.96 53.55L570.16 52.42L568.36 53.55L568.88 51.49L567.24 50.13L569.37 49.99Z" fill="#800000"/>
<path d="M573.84 48.92L574.63 50.89L576.76 51.03L575.12 52.4L575.64 54.46L573.84 53.33L572.04 54.46L572.56 52.4L570.93 51.03L573.05 50.89Z" fill="#800000"/>
<path d="M577.53 49.82L578.32 51.79L580.44 51.94L578.81 53.3L579.33 55.36L577.53 54.23L575.73 55.36L576.25 53.3L574.62 51.94L576.74 51.79Z" fill="#800000"/>
<path d="M581.21 58.6L582.01 60.57L584.13 60.72L582.5 62.08L583.01 64.14L581.21 63.01L579.41 64.14L579.93 62.08L578.3 60.72L580.42 60.57Z" fill="#800000"/>
<path d="M584.9 57.97L585.69 59.94L587.81 60.09L586.18 61.45L586.7 63.51L584.9 62.38L583.1 63.51L583.62 61.45L581.99 60.09L584.11 59.94Z" fill="#800000"/>
<path d="M588.59 57.27L589.38 59.24L591.5 59.38L589.87 60.75L590.39 62.81L588.59 61.68L586.79 62.81L587.3 60.75L585.67 59.38L587.79 59.24Z" fill="#800000"/>
<path d="M592.27 56.32L593.06 58.29L595.18 58.44L593.55 59.8L594.07 61.86L592.27 60.73L590.47 61.86L590.99 59.8L589.36 58.44L591.48 58.29Z" fill="#800000"/>
<path d="M595.96 54.95L596.75 56.92L598.87 57.06L597.24 58.42L597.76 60.49L595.96 59.36L594.16 60.49L594.68 58.42L593.04 57.06L595.17 56.92Z" fill="#800000"/>
<path d="M599.64 53L600.43 54.97L602.56 55.12L600.92 56.48L601.44 58.54L599.64 57.41L597.84 58.54L598.36 56.48L596.73 55.12L598.85 54.97Z" fill="#800000"/>
<path d="M603.33 50.73L604.12 52.7L606.24 52.84L604.61 54.21L605.13 56.27L603.33 55.14L601.53 56.27L602.05 54.21L600.42 52.84L602.54 52.7Z" fill="#800000"/>
<path d="M607.01 47.78L607.81 49.75L609.93 49.9L608.3 51.26L608.81 53.32L607.01 52.19L605.21 53.32L605.73 51.26L604.1 49.9L606.22 49.75Z" fill="#800000"/>
<path d="M610.7 42.89L611.49 44.86L613.61 45L611.98 46.37L612.5 48.43L610.7 47.3L608.9 48.43L609.42 46.37L607.79 45L609.91 44.86Z" fill="#800000"/>
<path d="M618.07 40.18L618.86 42.15L620.98 42.3L619.35 43.66L619.87 45.72L618.07 44.59L616.27 45.72L616.79 43.66L615.16 42.3L617.28 42.15Z" fill="#800000"/>
<path d="M621.76 37.07L622.55 39.04L624.67 39.19L623.04 40.55L623.56 42.61L621.76 41.48L619.96 42.61L620.48 40.55L618.84 39.19L620.97 39.04Z" fill="#800000"/>
<path d="M625.44 34.15L626.23 36.12L628.36 36.27L626.72 37.63L627.24 39.69L625.44 38.56L623.64 39.69L624.16 37.63L622.53 36.27L624.65 36.12Z" fill="#800000"/>
<path d="M629.13 31.64L629.92 33.61L632.04 33.75L630.41 35.11L630.93 37.18L629.13 36.05L627.33 37.18L627.85 35.11L626.22 33.75L628.34 33.61Z" fill="#800000"/>
<path d="M632.81 29.36L633.61 31.33L635.73 31.47L634.1 32.84L634.61 34.9L632.81 33.77L631.01 34.9L631.53 32.84L629.9 31.47L632.02 31.33Z" fill="#800000"/>
<path d="M636.5 27.14L637.29 29.11L639.41 29.25L637.78 30.62L638.3 32.68L636.5 31.55L634.7 32.68L635.22 30.62L633.59 29.25L635.71 29.11Z" fill="#800000"/>
</g>
<rect x="378.5" y="4.5" width="258.0" height="208.0" fill="none" stroke="#111" stroke-width="1.1"/>
<line x1="378.5" y1="212.5" x2="378.5" y2="208.5" stroke="#111" stroke-width="0.9"/>
<line x1="389.6" y1="212.5" x2="389.6" y2="210.5" stroke="#111" stroke-width="0.9"/>
<line x1="396.09" y1="212.5" x2="396.09" y2="210.5" stroke="#111" stroke-width="0.9"/>
<line x1="400.69" y1="212.5" x2="400.69" y2="210.5" stroke="#111" stroke-width="0.9"/>
<line x1="404.26" y1="212.5" x2="404.26" y2="210.5" stroke="#111" stroke-width="0.9"/>
<line x1="407.18" y1="212.5" x2="407.18" y2="210.5" stroke="#111" stroke-width="0.9"/>
<line x1="409.65" y1="212.5" x2="409.65" y2="210.5" stroke="#111" stroke-width="0.9"/>
<line x1="411.79" y1="212.5" x2="411.79" y2="210.5" stroke="#111" stroke-width="0.9"/>
<line x1="413.67" y1="212.5" x2="413.67" y2="210.5" stroke="#111" stroke-width="0.9"/>
<line x1="415.36" y1="212.5" x2="415.36" y2="208.5" stroke="#111" stroke-width="0.9"/>
<line x1="426.45" y1="212.5" x2="426.45" y2="210.5" stroke="#111" stroke-width="0.9"/>
<line x1="432.94" y1="212.5" x2="432.94" y2="210.5" stroke="#111" stroke-width="0.9"/>
<line x1="437.55" y1="212.5" x2="437.55" y2="210.5" stroke="#111" stroke-width="0.9"/>
<line x1="441.12" y1="212.5" x2="441.12" y2="210.5" stroke="#111" stroke-width="0.9"/>
<line x1="444.04" y1="212.5" x2="444.04" y2="210.5" stroke="#111" stroke-width="0.9"/>
<line x1="446.51" y1="212.5" x2="446.51" y2="210.5" stroke="#111" stroke-width="0.9"/>
<line x1="448.64" y1="212.5" x2="448.64" y2="210.5" stroke="#111" stroke-width="0.9"/>
<line x1="450.53" y1="212.5" x2="450.53" y2="210.5" stroke="#111" stroke-width="0.9"/>
<line x1="452.21" y1="212.5" x2="452.21" y2="208.5" stroke="#111" stroke-width="0.9"/>
<line x1="463.31" y1="212.5" x2="463.31" y2="210.5" stroke="#111" stroke-width="0.9"/>
<line x1="469.8" y1="212.5" x2="469.8" y2="210.5" stroke="#111" stroke-width="0.9"/>
<line x1="474.4" y1="212.5" x2="474.4" y2="210.5" stroke="#111" stroke-width="0.9"/>
<line x1="477.98" y1="212.5" x2="477.98" y2="210.5" stroke="#111" stroke-width="0.9"/>
<line x1="480.89" y1="212.5" x2="480.89" y2="210.5" stroke="#111" stroke-width="0.9"/>
<line x1="483.36" y1="212.5" x2="483.36" y2="210.5" stroke="#111" stroke-width="0.9"/>
<line x1="485.5" y1="212.5" x2="485.5" y2="210.5" stroke="#111" stroke-width="0.9"/>
<line x1="487.38" y1="212.5" x2="487.38" y2="210.5" stroke="#111" stroke-width="0.9"/>
<line x1="489.07" y1="212.5" x2="489.07" y2="208.5" stroke="#111" stroke-width="0.9"/>
<line x1="500.17" y1="212.5" x2="500.17" y2="210.5" stroke="#111" stroke-width="0.9"/>
<line x1="506.66" y1="212.5" x2="506.66" y2="210.5" stroke="#111" stroke-width="0.9"/>
<line x1="511.26" y1="212.5" x2="511.26" y2="210.5" stroke="#111" stroke-width="0.9"/>
<line x1="514.83" y1="212.5" x2="514.83" y2="210.5" stroke="#111" stroke-width="0.9"/>
<line x1="517.75" y1="212.5" x2="517.75" y2="210.5" stroke="#111" stroke-width="0.9"/>
<line x1="520.22" y1="212.5" x2="520.22" y2="210.5" stroke="#111" stroke-width="0.9"/>
<line x1="522.36" y1="212.5" x2="522.36" y2="210.5" stroke="#111" stroke-width="0.9"/>
<line x1="524.24" y1="212.5" x2="524.24" y2="210.5" stroke="#111" stroke-width="0.9"/>
<line x1="525.93" y1="212.5" x2="525.93" y2="208.5" stroke="#111" stroke-width="0.9"/>
<line x1="537.02" y1="212.5" x2="537.02" y2="210.5" stroke="#111" stroke-width="0.9"/>
<line x1="543.51" y1="212.5" x2="543.51" y2="210.5" stroke="#111" stroke-width="0.9"/>
<line x1="548.12" y1="212.5" x2="548.12" y2="210.5" stroke="#111" stroke-width="0.9"/>
<line x1="551.69" y1="212.5" x2="551.69" y2="210.5" stroke="#111" stroke-width="0.9"/>
<line x1="554.61" y1="212.5" x2="554.61" y2="210.5" stroke="#111" stroke-width="0.9"/>
<line x1="557.08" y1="212.5" x2="557.08" y2="210.5" stroke="#111" stroke-width="0.9"/>
<line x1="559.21" y1="212.5" x2="559.21" y2="210.5" stroke="#111" stroke-width="0.9"/>
<line x1="561.1" y1="212.5" x2="561.1" y2="210.5" stroke="#111" stroke-width="0.9"/>
<line x1="562.79" y1="212.5" x2="562.79" y2="208.5" stroke="#111" stroke-width="0.9"/>
<line x1="573.88" y1="212.5" x2="573.88" y2="210.5" stroke="#111" stroke-width="0.9"/>
<line x1="580.37" y1="212.5" x2="580.37" y2="210.5" stroke="#111" stroke-width="0.9"/>
<line x1="584.98" y1="212.5" x2="584.98" y2="210.5" stroke="#111" stroke-width="0.9"/>
<line x1="588.55" y1="212.5" x2="588.55" y2="210.5" stroke="#111" stroke-width="0.9"/>
<line x1="591.47" y1="212.5" x2="591.47" y2="210.5" stroke="#111" stroke-width="0.9"/>
<line x1="593.93" y1="212.5" x2="593.93" y2="210.5" stroke="#111" stroke-width="0.9"/>
<line x1="596.07" y1="212.5" x2="596.07" y2="210.5" stroke="#111" stroke-width="0.9"/>
<line x1="597.96" y1="212.5" x2="597.96" y2="210.5" stroke="#111" stroke-width="0.9"/>
<line x1="599.64" y1="212.5" x2="599.64" y2="208.5" stroke="#111" stroke-width="0.9"/>
<line x1="610.74" y1="212.5" x2="610.74" y2="210.5" stroke="#111" stroke-width="0.9"/>
<line x1="617.23" y1="212.5" x2="617.23" y2="210.5" stroke="#111" stroke-width="0.9"/>
<line x1="621.83" y1="212.5" x2="621.83" y2="210.5" stroke="#111" stroke-width="0.9"/>
<line x1="625.4" y1="212.5" x2="625.4" y2="210.5" stroke="#111" stroke-width="0.9"/>
<line x1="628.32" y1="212.5" x2="628.32" y2="210.5" stroke="#111" stroke-width="0.9"/>
<line x1="630.79" y1="212.5" x2="630.79" y2="210.5" stroke="#111" stroke-width="0.9"/>
<line x1="632.93" y1="212.5" x2="632.93" y2="210.5" stroke="#111" stroke-width="0.9"/>
<line x1="634.81" y1="212.5" x2="634.81" y2="210.5" stroke="#111" stroke-width="0.9"/>
<line x1="378.5" y1="212.5" x2="382.5" y2="212.5" stroke="#111" stroke-width="0.9"/>
<line x1="378.5" y1="196.97" x2="380.5" y2="196.97" stroke="#111" stroke-width="0.9"/>
<line x1="378.5" y1="187.88" x2="380.5" y2="187.88" stroke="#111" stroke-width="0.9"/>
<line x1="378.5" y1="181.43" x2="380.5" y2="181.43" stroke="#111" stroke-width="0.9"/>
<line x1="378.5" y1="176.43" x2="380.5" y2="176.43" stroke="#111" stroke-width="0.9"/>
<line x1="378.5" y1="172.35" x2="380.5" y2="172.35" stroke="#111" stroke-width="0.9"/>
<line x1="378.5" y1="168.89" x2="380.5" y2="168.89" stroke="#111" stroke-width="0.9"/>
<line x1="378.5" y1="165.9" x2="380.5" y2="165.9" stroke="#111" stroke-width="0.9"/>
<line x1="378.5" y1="163.26" x2="380.5" y2="163.26" stroke="#111" stroke-width="0.9"/>
<line x1="378.5" y1="160.9" x2="382.5" y2="160.9" stroke="#111" stroke-width="0.9"/>
<line x1="378.5" y1="145.37" x2="380.5" y2="145.37" stroke="#111" stroke-width="0.9"/>
<line x1="378.5" y1="136.28" x2="380.5" y2="136.28" stroke="#111" stroke-width="0.9"/>
<line x1="378.5" y1="129.83" x2="380.5" y2="129.83" stroke="#111" stroke-width="0.9"/>
<line x1="378.5" y1="124.83" x2="380.5" y2="124.83" stroke="#111" stroke-width="0.9"/>
<line x1="378.5" y1="120.75" x2="380.5" y2="120.75" stroke="#111" stroke-width="0.9"/>
<line x1="378.5" y1="117.29" x2="380.5" y2="117.29" stroke="#111" stroke-width="0.9"/>
<line x1="378.5" y1="114.3" x2="380.5" y2="114.3" stroke="#111" stroke-width="0.9"/>
<line x1="378.5" y1="111.66" x2="380.5" y2="111.66" stroke="#111" stroke-width="0.9"/>
<line x1="378.5" y1="109.3" x2="382.5" y2="109.3" stroke="#111" stroke-width="0.9"/>
<line x1="378.5" y1="93.77" x2="380.5" y2="93.77" stroke="#111" stroke-width="0.9"/>
<line x1="378.5" y1="84.68" x2="380.5" y2="84.68" stroke="#111" stroke-width="0.9"/>
<line x1="378.5" y1="78.23" x2="380.5" y2="78.23" stroke="#111" stroke-width="0.9"/>
<line x1="378.5" y1="73.23" x2="380.5" y2="73.23" stroke="#111" stroke-width="0.9"/>
<line x1="378.5" y1="69.15" x2="380.5" y2="69.15" stroke="#111" stroke-width="0.9"/>
<line x1="378.5" y1="65.69" x2="380.5" y2="65.69" stroke="#111" stroke-width="0.9"/>
<line x1="378.5" y1="62.7" x2="380.5" y2="62.7" stroke="#111" stroke-width="0.9"/>
<line x1="378.5" y1="60.06" x2="380.5" y2="60.06" stroke="#111" stroke-width="0.9"/>
<line x1="378.5" y1="57.7" x2="382.5" y2="57.7" stroke="#111" stroke-width="0.9"/>
<line x1="378.5" y1="42.17" x2="380.5" y2="42.17" stroke="#111" stroke-width="0.9"/>
<line x1="378.5" y1="33.08" x2="380.5" y2="33.08" stroke="#111" stroke-width="0.9"/>
<line x1="378.5" y1="26.63" x2="380.5" y2="26.63" stroke="#111" stroke-width="0.9"/>
<line x1="378.5" y1="21.63" x2="380.5" y2="21.63" stroke="#111" stroke-width="0.9"/>
<line x1="378.5" y1="17.55" x2="380.5" y2="17.55" stroke="#111" stroke-width="0.9"/>
<line x1="378.5" y1="14.09" x2="380.5" y2="14.09" stroke="#111" stroke-width="0.9"/>
<line x1="378.5" y1="11.1" x2="380.5" y2="11.1" stroke="#111" stroke-width="0.9"/>
<line x1="378.5" y1="8.46" x2="380.5" y2="8.46" stroke="#111" stroke-width="0.9"/>
<line x1="378.5" y1="6.1" x2="382.5" y2="6.1" stroke="#111" stroke-width="0.9"/>
<line x1="636.5" y1="212.5" x2="632.5" y2="212.5" stroke="#111" stroke-width="0.9"/>
<line x1="636.5" y1="199.5" x2="634.5" y2="199.5" stroke="#111" stroke-width="0.9"/>
<line x1="636.5" y1="186.5" x2="632.5" y2="186.5" stroke="#111" stroke-width="0.9"/>
<line x1="636.5" y1="173.5" x2="634.5" y2="173.5" stroke="#111" stroke-width="0.9"/>
<line x1="636.5" y1="160.5" x2="632.5" y2="160.5" stroke="#111" stroke-width="0.9"/>
<line x1="636.5" y1="147.5" x2="634.5" y2="147.5" stroke="#111" stroke-width="0.9"/>
<line x1="636.5" y1="134.5" x2="632.5" y2="134.5" stroke="#111" stroke-width="0.9"/>
<line x1="636.5" y1="121.5" x2="634.5" y2="121.5" stroke="#111" stroke-width="0.9"/>
<line x1="636.5" y1="108.5" x2="632.5" y2="108.5" stroke="#111" stroke-width="0.9"/>
<line x1="636.5" y1="95.5" x2="634.5" y2="95.5" stroke="#111" stroke-width="0.9"/>
<line x1="636.5" y1="82.5" x2="632.5" y2="82.5" stroke="#111" stroke-width="0.9"/>
<line x1="636.5" y1="69.5" x2="634.5" y2="69.5" stroke="#111" stroke-width="0.9"/>
<line x1="636.5" y1="56.5" x2="632.5" y2="56.5" stroke="#111" stroke-width="0.9"/>
<line x1="636.5" y1="43.5" x2="634.5" y2="43.5" stroke="#111" stroke-width="0.9"/>
<line x1="636.5" y1="30.5" x2="632.5" y2="30.5" stroke="#111" stroke-width="0.9"/>
<line x1="636.5" y1="17.5" x2="634.5" y2="17.5" stroke="#111" stroke-width="0.9"/>
<line x1="636.5" y1="4.5" x2="632.5" y2="4.5" stroke="#111" stroke-width="0.9"/>
<text x="378.5" y="223.1" font-family="Liberation Sans, sans-serif" font-size="8.9" text-anchor="middle" fill="#1a1a1a">0.01</text>
<text x="415.36" y="223.1" font-family="Liberation Sans, sans-serif" font-size="8.9" text-anchor="middle" fill="#1a1a1a">0.1</text>
<text x="452.21" y="223.1" font-family="Liberation Sans, sans-serif" font-size="8.9" text-anchor="middle" fill="#1a1a1a">1</text>
<text x="489.07" y="223.1" font-family="Liberation Sans, sans-serif" font-size="8.9" text-anchor="middle" fill="#1a1a1a">10</text>
<text x="525.93" y="223.1" font-family="Liberation Sans, sans-serif" font-size="8.9" text-anchor="middle" fill="#1a1a1a">100</text>
<text x="562.79" y="223.1" font-family="Liberation Sans, sans-serif" font-size="8.9" text-anchor="middle" fill="#1a1a1a">1000</text>
<text x="599.64" y="223.1" font-family="Liberation Sans, sans-serif" font-size="8.9" text-anchor="middle" fill="#1a1a1a">10000</text>
<text x="636.5" y="223.1" font-family="Liberation Sans, sans-serif" font-size="8.9" text-anchor="middle" fill="#1a1a1a">100000</text>
<text x="374.2" y="215.6" font-family="Liberation Sans, sans-serif" font-size="8.7" text-anchor="end" fill="#1a1a1a">10<tspan font-size="5.6" dy="-3.6">3</tspan></text>
<text x="374.2" y="164" font-family="Liberation Sans, sans-serif" font-size="8.7" text-anchor="end" fill="#1a1a1a">10<tspan font-size="5.6" dy="-3.6">4</tspan></text>
<text x="374.2" y="112.4" font-family="Liberation Sans, sans-serif" font-size="8.7" text-anchor="end" fill="#1a1a1a">10<tspan font-size="5.6" dy="-3.6">5</tspan></text>
<text x="374.2" y="60.8" font-family="Liberation Sans, sans-serif" font-size="8.7" text-anchor="end" fill="#1a1a1a">10<tspan font-size="5.6" dy="-3.6">6</tspan></text>
<text x="374.2" y="9.2" font-family="Liberation Sans, sans-serif" font-size="8.7" text-anchor="end" fill="#1a1a1a">10<tspan font-size="5.6" dy="-3.6">7</tspan></text>
<text x="640.6" y="214.7" font-family="Liberation Sans, sans-serif" font-size="8.9" fill="#1a1a1a">0</text>
<text x="640.6" y="188.7" font-family="Liberation Sans, sans-serif" font-size="8.9" fill="#1a1a1a">-10</text>
<text x="640.6" y="162.7" font-family="Liberation Sans, sans-serif" font-size="8.9" fill="#1a1a1a">-20</text>
<text x="640.6" y="136.7" font-family="Liberation Sans, sans-serif" font-size="8.9" fill="#1a1a1a">-30</text>
<text x="640.6" y="110.7" font-family="Liberation Sans, sans-serif" font-size="8.9" fill="#1a1a1a">-40</text>
<text x="640.6" y="84.7" font-family="Liberation Sans, sans-serif" font-size="8.9" fill="#1a1a1a">-50</text>
<text x="640.6" y="58.7" font-family="Liberation Sans, sans-serif" font-size="8.9" fill="#1a1a1a">-60</text>
<text x="640.6" y="32.7" font-family="Liberation Sans, sans-serif" font-size="8.9" fill="#1a1a1a">-70</text>
<text x="640.6" y="6.7" font-family="Liberation Sans, sans-serif" font-size="8.9" fill="#1a1a1a">-80</text>
<text x="467.2" y="241.4" font-family="Liberation Sans, sans-serif" font-size="11.5" fill="#1a1a1a">Frequency (Hz)</text>
<text transform="translate(354.4,159.6) rotate(-90)" font-family="Liberation Sans, sans-serif" font-size="12" fill="#1a1a1a">Modulus (ohm cm<tspan font-size="8" dy="-4.4">2</tspan><tspan dy="4.4">)</tspan></text>
<text transform="translate(666.4,162.4) rotate(-90)" font-family="Liberation Sans, sans-serif" font-size="11.1" fill="#1a1a1a">Phase angle (degrees)</text>
<text x="617.6" y="17.4" font-family="Liberation Sans, sans-serif" font-size="10.4" fill="#1a1a1a">b)</text>
<rect x="495.7" y="144.2" width="26.5" height="50.9" fill="#fff" stroke="#777" stroke-width="0.7"/>
<line x1="496.8" y1="147.8" x2="509.5" y2="147.8" stroke="#000000" stroke-width="0.95" stroke-opacity="0.7"/>
<rect x="501.4" y="145.9" width="3.8" height="3.8" fill="#000000"/>
<text x="510.3" y="149.9" font-family="Liberation Sans, sans-serif" font-size="5.9" fill="#111" style="stroke:#222;stroke-width:0.12px">0 h</text>
<line x1="496.8" y1="155.1" x2="509.5" y2="155.1" stroke="#ff0000" stroke-width="0.95" stroke-opacity="0.7"/>
<circle cx="503.3" cy="155.1" r="2.15" fill="#ff0000"/>
<text x="510.3" y="157.2" font-family="Liberation Sans, sans-serif" font-size="5.9" fill="#111" style="stroke:#222;stroke-width:0.12px">3 h</text>
<line x1="496.8" y1="162.4" x2="509.5" y2="162.4" stroke="#0000ff" stroke-width="0.95" stroke-opacity="0.7"/>
<path d="M503.3 160.03L505.67 164.34L500.94 164.34Z" fill="#0000ff"/>
<text x="510.3" y="164.5" font-family="Liberation Sans, sans-serif" font-size="5.9" fill="#111" style="stroke:#222;stroke-width:0.12px">6 h</text>
<line x1="496.8" y1="169.7" x2="509.5" y2="169.7" stroke="#ff00ff" stroke-width="0.95" stroke-opacity="0.7"/>
<path d="M503.3 172.07L505.67 167.77L500.94 167.77Z" fill="#ff00ff"/>
<text x="510.3" y="171.8" font-family="Liberation Sans, sans-serif" font-size="5.9" fill="#111" style="stroke:#222;stroke-width:0.12px">9 h</text>
<line x1="496.8" y1="177" x2="509.5" y2="177" stroke="#808000" stroke-width="0.95" stroke-opacity="0.7"/>
<path d="M503.3 174.42L505.88 177L503.3 179.58L500.72 177Z" fill="#808000"/>
<text x="510.3" y="179.1" font-family="Liberation Sans, sans-serif" font-size="5.9" fill="#111" style="stroke:#222;stroke-width:0.12px" textLength="9.3" lengthAdjust="spacingAndGlyphs">12 h</text>
<line x1="496.8" y1="184.3" x2="509.5" y2="184.3" stroke="#800080" stroke-width="0.95" stroke-opacity="0.7"/>
<path d="M500.94 184.3L505.24 181.94L505.24 186.67Z" fill="#800080"/>
<text x="510.3" y="186.4" font-family="Liberation Sans, sans-serif" font-size="5.9" fill="#111" style="stroke:#222;stroke-width:0.12px" textLength="9.3" lengthAdjust="spacingAndGlyphs">18 h</text>
<line x1="496.8" y1="191.6" x2="509.5" y2="191.6" stroke="#800000" stroke-width="0.95" stroke-opacity="0.7"/>
<path d="M503.3 188.91L504 190.64L505.86 190.77L504.42 191.97L504.88 193.77L503.3 192.78L501.72 193.77L502.18 191.97L500.74 190.77L502.6 190.64Z" fill="#800000"/>
<text x="510.3" y="193.7" font-family="Liberation Sans, sans-serif" font-size="5.9" fill="#111" style="stroke:#222;stroke-width:0.12px" textLength="9.3" lengthAdjust="spacingAndGlyphs">24 h</text>
</svg>
</body></html>
